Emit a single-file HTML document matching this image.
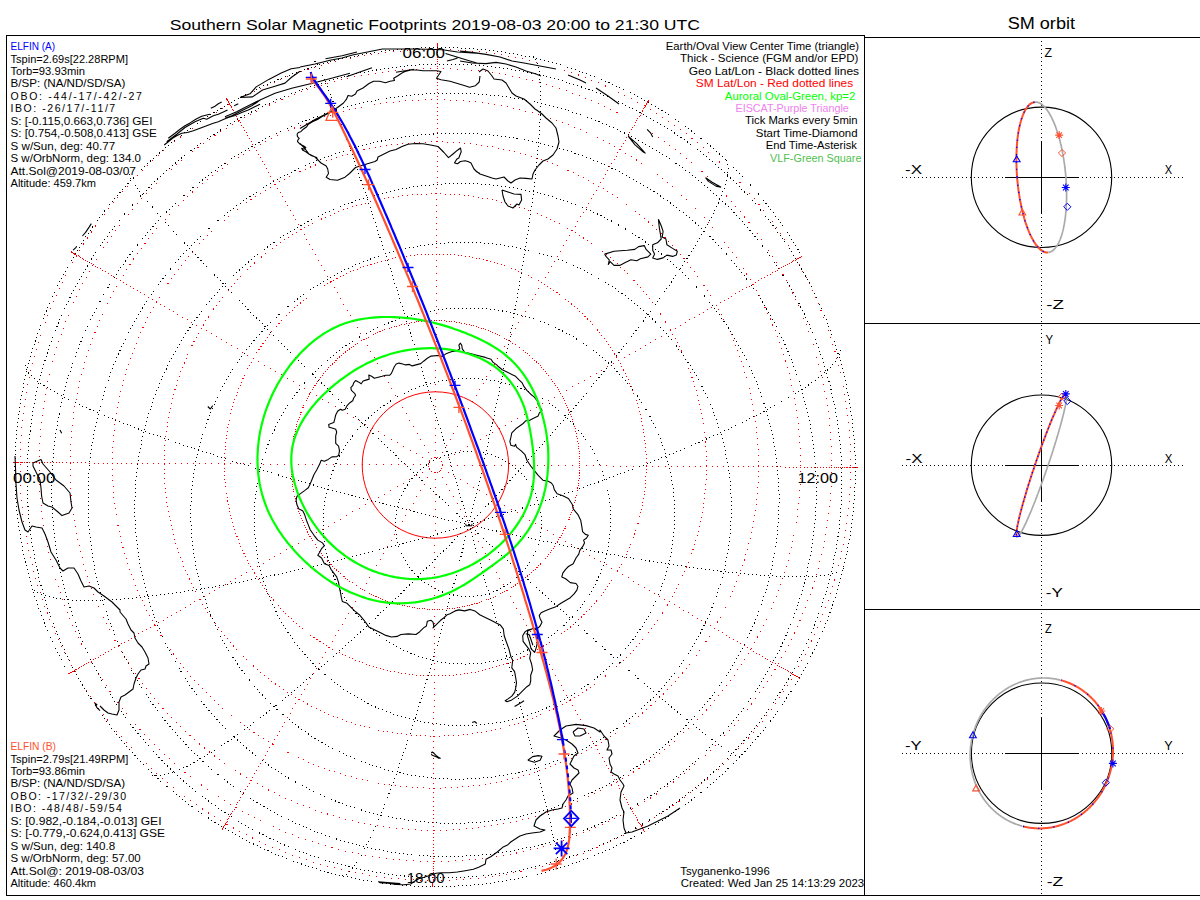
<!DOCTYPE html>
<html><head><meta charset="utf-8"><title>Southern Solar Magnetic Footprints</title>
<style>html,body{margin:0;padding:0;background:#fff;overflow:hidden} svg{display:block} text{font-family:'Liberation Sans', 'DejaVu Sans', sans-serif}</style>
</head><body>
<svg width="1200" height="900" viewBox="0 0 1200 900">
<rect width="1200" height="900" fill="#fff"/>
<g fill="none" stroke="#ff0000" stroke-width="1" shape-rendering="crispEdges"><circle cx="435.4" cy="465.0" r="415.4" stroke-dasharray="1 6.25"/><circle cx="435.4" cy="465.0" r="396.4" stroke-dasharray="1 5.92"/><circle cx="435.4" cy="465.0" r="365.3" stroke-dasharray="1 5.38"/><circle cx="435.4" cy="465.0" r="323.1" stroke-dasharray="1 4.64"/><circle cx="435.4" cy="465.0" r="271.1" stroke-dasharray="1 3.73"/><circle cx="435.4" cy="465.0" r="210.9" stroke-dasharray="1 2.68"/><circle cx="435.4" cy="465.0" r="144.3" stroke-dasharray="1 1.52"/><circle cx="435.4" cy="465.0" r="7.4" stroke-dasharray="1 2"/></g>
<path d="M442,465h1M450,465h1M457,465h1M464,465h1M472,465h1M479,465h1M486,465h1M494,465h1M501,465h1M508,465h1M515,465h1M523,465h1M530,465h1M537,465h1M544,465h1M551,465h1M558,465h1M565,465h1M572,465h1M579,465h1M586,465h1M593,465h1M600,465h1M606,465h1M613,466h1M620,466h1M626,466h1M633,466h1M639,466h1M646,466h1M652,466h1M658,466h1M665,466h1M671,466h1M677,466h1M683,466h1M689,466h1M695,466h1M700,466h1M706,466h1M712,466h1M717,466h1M723,466h1M728,466h1M733,466h1M738,466h1M743,466h1M748,466h1M753,466h1M758,466h1M763,466h1M767,466h1M772,466h1M776,466h1M780,466h1M785,467h1M789,467h1M793,467h1M796,467h1M800,467h1M804,467h1M807,467h1M811,467h1M814,467h1M817,467h1M820,467h1M823,467h1M826,467h1M829,467h1M831,467h1M834,467h1M836,467h1M838,467h1M840,467h1M842,467h1M844,467h1M846,467h1M847,467h1M849,467h1M850,467h1M852,467h1M853,467h1M854,467h1M855,467h1M856,467h1M857,467h1M441,468h1M448,472h1M454,476h1M460,479h1M467,483h1M473,487h1M479,490h1M486,494h1M492,498h1M498,501h1M504,505h1M511,509h1M517,512h1M523,516h1M529,520h1M535,523h1M541,527h1M547,530h1M553,534h1M559,537h1M565,541h1M571,544h1M577,548h1M583,551h1M589,555h1M594,558h1M600,561h1M606,564h1M611,568h1M617,571h1M622,574h1M628,577h1M633,581h1M638,584h1M644,587h1M649,590h1M654,593h1M659,596h1M664,599h1M669,601h1M674,604h1M679,607h1M683,610h1M688,612h1M692,615h1M697,618h1M701,620h1M705,623h1M710,625h1M714,628h1M718,630h1M722,632h1M726,635h1M729,637h1M733,639h1M737,641h1M740,643h1M744,645h1M747,647h1M750,649h1M753,651h1M756,653h1M759,654h1M762,656h1M765,658h1M767,659h1M770,661h1M772,662h1M775,663h1M777,665h1M779,666h1M781,667h1M783,668h1M785,669h1M787,670h1M788,671h1M790,672h1M791,673h1M792,674h1M793,674h1M794,675h1M795,675h1M796,676h1M797,676h1M798,677h1M799,677h1M799,678h1M439,471h1M442,477h1M446,484h1M449,490h1M453,496h1M457,503h1M460,509h1M464,516h1M468,522h1M471,528h1M475,534h1M478,541h1M482,547h1M485,553h1M489,559h1M492,566h1M496,572h1M499,578h1M503,584h1M506,590h1M510,596h1M513,602h1M516,608h1M520,614h1M523,619h1M526,625h1M530,631h1M533,637h1M536,642h1M539,648h1M542,653h1M546,659h1M549,664h1M552,669h1M555,675h1M558,680h1M561,685h1M563,690h1M566,695h1M569,700h1M572,705h1M575,710h1M577,714h1M580,719h1M583,724h1M585,728h1M588,733h1M590,737h1M592,741h1M595,745h1M597,749h1M599,753h1M602,757h1M604,761h1M606,765h1M608,768h1M610,772h1M612,775h1M614,779h1M616,782h1M618,785h1M619,788h1M621,791h1M623,794h1M624,797h1M626,799h1M627,802h1M628,804h1M630,807h1M631,809h1M632,811h1M633,813h1M635,815h1M636,817h1M637,819h1M637,820h1M638,822h1M639,823h1M640,824h1M641,825h1M641,826h1M642,827h1M642,828h1M643,829h1M643,830h1M644,831h1M435,472h1M435,479h1M435,487h1M435,494h1M435,501h1M435,509h1M435,516h1M435,523h1M435,530h1M434,538h1M434,545h1M434,552h1M434,559h1M434,567h1M434,574h1M434,581h1M434,588h1M434,595h1M434,602h1M434,609h1M434,616h1M434,623h1M434,629h1M434,636h1M434,643h1M434,649h1M434,656h1M434,663h1M434,669h1M434,675h1M434,682h1M434,688h1M434,694h1M434,700h1M434,706h1M433,712h1M433,718h1M433,724h1M433,730h1M433,736h1M433,741h1M433,747h1M433,752h1M433,758h1M433,763h1M433,768h1M433,773h1M433,778h1M433,783h1M433,788h1M433,792h1M433,797h1M433,801h1M433,806h1M433,810h1M433,814h1M433,818h1M433,822h1M433,826h1M433,830h1M433,833h1M433,837h1M433,840h1M433,844h1M433,847h1M433,850h1M433,853h1M433,856h1M433,858h1M433,861h1M433,863h1M433,866h1M433,868h1M433,870h1M433,872h1M433,874h1M433,875h1M433,877h1M433,879h1M433,880h1M433,881h1M432,882h1M432,883h1M432,884h1M432,885h1M432,886h1M431,471h1M427,477h1M424,484h1M420,490h1M416,496h1M413,503h1M409,509h1M405,515h1M402,521h1M398,528h1M394,534h1M391,540h1M387,546h1M383,553h1M380,559h1M376,565h1M373,571h1M369,577h1M366,583h1M362,589h1M359,595h1M355,601h1M352,607h1M348,613h1M345,618h1M342,624h1M338,630h1M335,635h1M332,641h1M328,647h1M325,652h1M322,657h1M319,663h1M316,668h1M313,673h1M310,678h1M307,684h1M304,689h1M301,694h1M298,699h1M295,703h1M292,708h1M290,713h1M287,717h1M284,722h1M282,726h1M279,731h1M277,735h1M274,739h1M272,743h1M269,747h1M267,751h1M265,755h1M263,759h1M260,763h1M258,766h1M256,770h1M254,773h1M252,777h1M250,780h1M249,783h1M247,786h1M245,789h1M243,792h1M242,794h1M240,797h1M239,800h1M237,802h1M236,804h1M235,807h1M234,809h1M232,811h1M231,813h1M230,814h1M229,816h1M228,818h1M227,819h1M227,821h1M226,822h1M225,823h1M225,824h1M224,825h1M223,826h1M223,827h1M222,828h1M222,829h1M429,468h1M422,472h1M416,475h1M409,479h1M403,483h1M397,486h1M390,490h1M384,494h1M378,497h1M371,501h1M365,504h1M359,508h1M352,511h1M346,515h1M340,519h1M334,522h1M328,526h1M322,529h1M316,532h1M310,536h1M304,539h1M298,543h1M292,546h1M286,549h1M280,553h1M274,556h1M269,559h1M263,563h1M257,566h1M252,569h1M246,572h1M241,575h1M235,578h1M230,581h1M225,584h1M219,587h1M214,590h1M209,593h1M204,596h1M199,599h1M194,601h1M190,604h1M185,607h1M180,610h1M176,612h1M171,615h1M167,617h1M163,620h1M158,622h1M154,624h1M150,627h1M146,629h1M142,631h1M138,633h1M135,636h1M131,638h1M128,640h1M124,642h1M121,643h1M118,645h1M114,647h1M111,649h1M108,651h1M105,652h1M103,654h1M100,655h1M98,657h1M95,658h1M93,659h1M91,661h1M88,662h1M86,663h1M84,664h1M83,665h1M81,666h1M79,667h1M78,668h1M76,669h1M75,669h1M74,670h1M73,671h1M72,671h1M71,672h1M70,672h1M69,673h1M68,673h1M428,464h1M420,464h1M413,464h1M405,464h1M398,464h1M391,464h1M383,464h1M376,464h1M369,464h1M362,464h1M354,464h1M347,464h1M340,464h1M333,464h1M326,464h1M319,464h1M312,464h1M305,464h1M298,464h1M291,464h1M284,464h1M277,464h1M270,464h1M263,464h1M257,463h1M250,463h1M243,463h1M237,463h1M230,463h1M224,463h1M218,463h1M211,463h1M205,463h1M199,463h1M193,463h1M187,463h1M181,463h1M175,463h1M169,463h1M164,463h1M158,463h1M153,463h1M147,463h1M142,463h1M137,463h1M131,463h1M126,463h1M121,463h1M117,463h1M112,463h1M107,463h1M103,463h1M98,463h1M94,463h1M89,463h1M85,462h1M81,462h1M77,462h1M73,462h1M70,462h1M66,462h1M62,462h1M59,462h1M56,462h1M53,462h1M50,462h1M47,462h1M44,462h1M41,462h1M39,462h1M36,462h1M34,462h1M32,462h1M29,462h1M27,462h1M26,462h1M24,462h1M22,462h1M21,462h1M20,462h1M18,462h1M17,462h1M16,462h1M15,462h1M14,462h1M13,462h1M429,461h1M422,457h1M416,453h1M410,450h1M403,446h1M397,442h1M391,439h1M384,435h1M378,431h1M372,428h1M365,424h1M359,420h1M353,417h1M347,413h1M341,409h1M335,406h1M328,402h1M322,399h1M316,395h1M310,392h1M304,388h1M299,385h1M293,381h1M287,378h1M281,374h1M275,371h1M270,368h1M264,365h1M258,361h1M253,358h1M247,355h1M242,352h1M237,348h1M231,345h1M226,342h1M221,339h1M216,336h1M211,333h1M206,330h1M201,328h1M196,325h1M191,322h1M187,319h1M182,317h1M177,314h1M173,311h1M169,309h1M164,306h1M160,304h1M156,301h1M152,299h1M148,297h1M144,294h1M140,292h1M137,290h1M133,288h1M130,286h1M126,284h1M123,282h1M120,280h1M116,278h1M113,276h1M111,275h1M108,273h1M105,271h1M102,270h1M100,268h1M97,267h1M95,266h1M93,264h1M91,263h1M89,262h1M87,261h1M85,260h1M83,259h1M82,258h1M80,257h1M79,256h1M78,255h1M76,255h1M75,254h1M74,254h1M74,253h1M73,253h1M72,252h1M71,252h1M71,251h1M431,458h1M428,452h1M424,445h1M420,439h1M417,433h1M413,426h1M409,420h1M406,413h1M402,407h1M399,401h1M395,395h1M391,388h1M388,382h1M384,376h1M381,370h1M377,363h1M374,357h1M370,351h1M367,345h1M363,339h1M360,333h1M357,327h1M353,321h1M350,315h1M347,310h1M343,304h1M340,298h1M337,292h1M334,287h1M331,281h1M327,276h1M324,270h1M321,265h1M318,260h1M315,254h1M312,249h1M309,244h1M306,239h1M304,234h1M301,229h1M298,224h1M295,219h1M293,215h1M290,210h1M287,205h1M285,201h1M282,196h1M280,192h1M277,188h1M275,184h1M273,180h1M270,176h1M268,172h1M266,168h1M264,164h1M262,161h1M260,157h1M258,154h1M256,150h1M254,147h1M252,144h1M251,141h1M249,138h1M247,135h1M246,132h1M244,130h1M243,127h1M241,125h1M240,122h1M239,120h1M237,118h1M236,116h1M235,114h1M234,112h1M233,110h1M232,109h1M231,107h1M231,106h1M230,105h1M229,104h1M229,103h1M228,102h1M228,101h1M227,100h1M227,99h1M226,99h1M226,98h1M435,457h1M435,450h1M435,442h1M435,435h1M435,428h1M435,420h1M435,413h1M435,406h1M435,399h1M435,391h1M435,384h1M435,377h1M435,370h1M435,362h1M436,355h1M436,348h1M436,341h1M436,334h1M436,327h1M436,320h1M436,313h1M436,306h1M436,300h1M436,293h1M436,286h1M436,280h1M436,273h1M436,266h1M436,260h1M436,254h1M436,247h1M436,241h1M436,235h1M436,229h1M436,223h1M436,217h1M436,211h1M436,205h1M436,199h1M436,193h1M436,188h1M437,182h1M437,177h1M437,171h1M437,166h1M437,161h1M437,156h1M437,151h1M437,146h1M437,141h1M437,137h1M437,132h1M437,128h1M437,123h1M437,119h1M437,115h1M437,111h1M437,107h1M437,103h1M437,99h1M437,96h1M437,92h1M437,89h1M437,85h1M437,82h1M437,79h1M437,76h1M437,73h1M437,71h1M437,68h1M437,66h1M437,63h1M437,61h1M437,59h1M437,57h1M437,55h1M437,54h1M437,52h1M437,50h1M437,49h1M437,48h1M437,47h1M437,46h1M437,45h1M437,44h1M437,43h1M439,458h1M442,452h1M446,445h1M450,439h1M453,433h1M457,426h1M461,420h1M465,414h1M468,408h1M472,401h1M476,395h1M479,389h1M483,383h1M486,376h1M490,370h1M494,364h1M497,358h1M501,352h1M504,346h1M508,340h1M511,334h1M515,328h1M518,322h1M522,316h1M525,311h1M528,305h1M532,299h1M535,294h1M538,288h1M541,282h1M545,277h1M548,272h1M551,266h1M554,261h1M557,256h1M560,251h1M563,245h1M566,240h1M569,235h1M572,230h1M575,226h1M577,221h1M580,216h1M583,212h1M586,207h1M588,203h1M591,198h1M593,194h1M596,190h1M598,186h1M600,182h1M603,178h1M605,174h1M607,170h1M609,166h1M611,163h1M614,159h1M616,156h1M617,152h1M619,149h1M621,146h1M623,143h1M625,140h1M626,137h1M628,135h1M629,132h1M631,129h1M632,127h1M634,125h1M635,122h1M636,120h1M637,118h1M639,116h1M640,115h1M641,113h1M642,111h1M642,110h1M643,108h1M644,107h1M645,106h1M645,105h1M646,104h1M646,103h1M647,102h1M647,101h1M648,101h1M648,100h1M441,461h1M448,457h1M454,454h1M460,450h1M467,446h1M473,443h1M480,439h1M486,435h1M492,432h1M499,428h1M505,425h1M511,421h1M517,418h1M524,414h1M530,410h1M536,407h1M542,403h1M548,400h1M554,397h1M560,393h1M566,390h1M572,386h1M578,383h1M584,380h1M590,376h1M596,373h1M601,370h1M607,366h1M613,363h1M618,360h1M624,357h1M629,354h1M635,351h1M640,348h1M645,345h1M650,342h1M655,339h1M661,336h1M666,333h1M670,330h1M675,328h1M680,325h1M685,322h1M689,319h1M694,317h1M699,314h1M703,312h1M707,309h1M711,307h1M716,305h1M720,302h1M724,300h1M728,298h1M731,296h1M735,293h1M739,291h1M742,289h1M746,287h1M749,286h1M752,284h1M755,282h1M758,280h1M761,278h1M764,277h1M767,275h1M770,274h1M772,272h1M775,271h1M777,270h1M779,268h1M781,267h1M783,266h1M785,265h1M787,264h1M789,263h1M791,262h1M792,261h1M793,260h1M795,260h1M796,259h1M797,258h1M798,258h1M799,257h1M800,257h1M801,256h1" stroke="#ff0000" stroke-width="1" transform="translate(0,0.5)" shape-rendering="crispEdges"/>
<circle cx="435.4" cy="465.0" r="73.2" fill="none" stroke="#ff0000" stroke-width="1"/>
<path d="M417.9,576.8 417,576 416.1,575.1 415.2,574.2 414.4,573.2 413.5,572.3 412.7,571.4 411.9,570.4 411.1,569.4 410.3,568.4 409.5,567.4 408.8,566.4 408.1,565.4 407.3,564.3 406.7,563.3 406,562.2 405.3,561.1 404.7,560 404.1,558.9 403.5,557.8 402.9,556.7 402.4,555.6 401.8,554.4 401.3,553.3 400.8,552.1 400.4,550.9 399.9,549.8 399.5,548.6 399.1,547.4 398.7,546.2 398.3,545 398,543.8 397.6,542.5 397.3,541.3 397,540.1 396.8,538.8 396.6,537.6 396.3,536.4 396.1,535.1 396,533.9 395.8,532.6 395.7,531.3 395.6,530.1 395.5,528.8 395.4,527.6 395.4,526.3 395.4,525 395.4,523.8 395.4,522.5 395.5,521.2 395.5,520 395.6,518.7 395.7,517.4 395.9,516.2 396,514.9 396.2,513.7 396.4,512.4 396.7,511.2 396.9,509.9 397.2,508.7 397.5,507.5 397.8,506.2 398.1,505 398.5,503.8 398.9,502.6 399.3,501.4 399.7,500.2 400.1,499 400.6,497.8 401.1,496.6 401.6,495.4 402.1,494.3 402.6,493.1 403.2,492 403.8,490.9 404.4,489.7 405,488.6 405.6,487.5 406.3,486.4 407,485.4 407.7,484.3 408.4,483.2 409.1,482.2 409.9,481.2 410.7,480.2 411.4,479.1 412.2,478.2 413.1,477.2 413.9,476.2 414.8,475.3 415.6,474.3 416.5,473.4 417.4,472.5 418.4,471.6 419.3,470.8 420.2,469.9 421.2,469.1 422.2,468.3 423.2,467.5 424.2,466.7 425.2,465.9 426.2,465.2 427.3,464.4 428.3,463.7 429.4,463 430.5,462.3 431.6,461.7 432.7,461 433.8,460.4 434.9,459.8 436.1,459.2 437.2,458.7 438.4,458.1 439.6,457.6 440.7,457.1 441.9,456.6 443.1,456.1 444.3,455.7 445.5,455.3 446.7,454.9 447.9,454.5 449.2,454.1 450.4,453.8 451.6,453.5 452.9,453.2 454.1,452.9 455.4,452.7 456.6,452.4 457.9,452.2 459.2,452.1 460.4,451.9 461.7,451.8 463,451.6 464.2,451.5 465.5,451.5 466.8,451.4 468.1,451.4 469.3,451.4 470.6,451.4 471.9,451.4 473.2,451.5 474.4,451.5 475.7,451.6 477,451.8 478.2,451.9 479.5,452.1 480.7,452.3 482,452.5 483.2,452.7 484.5,453 485.7,453.2 487,453.5 488.2,453.9 489.4,454.2 490.6,454.6 491.8,454.9 493.1,455.3 494.2,455.8 495.4,456.2 496.6,456.7 497.8,457.2 498.9,457.7 500.1,458.2 501.2,458.7 502.4,459.3 503.5,459.9 504.6,460.5 505.7,461.1 506.8,461.8 507.9,462.4 508.9,463.1 510,463.8 511,464.5 512.1,465.3 513.1,466 514.1,466.8 515.1,467.6 516,468.4 517,469.2 517.9,470.1 518.9,470.9 519.8,471.8 520.7,472.7 521.6,473.6 522.4,474.5 523.3,475.4 524.1,476.4 524.9,477.3 525.7,478.3 526.5,479.3 527.3,480.3 528,481.3 528.7,482.4 529.4,483.4 530.1,484.5 530.8,485.5 531.5,486.6 532.1,487.7 532.7,488.8 533.3,489.9 533.9,491 534.4,492.2 535,493.3 535.5,494.5 536,495.6 536.4,496.8 536.9,498 537.3,499.2 537.7,500.4 538.1,501.6 538.5,502.8 538.8,504 539.2,505.2 539.5,506.4 539.7,507.7 540,508.9 540.2,510.1 540.5,511.4 540.7,512.6 540.8,513.9 541,515.1 541.1,516.4 541.2,517.7 541.3,518.9 541.4,520.2 541.4,521.4 541.4,522.7 541.4,524 541.4,525.2 541.3,526.5 541.3,527.8 541.2,529 541,530.3 540.9,531.6 540.7,532.8 540.6,534.1 540.4,535.3 540.1,536.6 539.9,537.8 539.6,539 539.3,540.3 539,541.5 538.7,542.7 538.3,544 537.9,545.2 537.5,546.4 537.1,547.6 536.7,548.8 536.2,550 535.7,551.1 535.2,552.3 534.7,553.5 534.2,554.6 533.6,555.7 533,556.9 532.4,558 531.8,559.1 531.2,560.2 530.5,561.3 529.8,562.4 529.1,563.4 528.4,564.5 527.7,565.5 526.9,566.6 526.1,567.6 525.3,568.6 524.5,569.6 523.7,570.6 522.9,571.5 522,572.5 521.2,573.4 520.3,574.3 519.4,575.2 518.4,576.1 517.5,577 516.6,577.8 515.6,578.7 514.6,579.5 513.6,580.3 512.6,581.1 511.6,581.8 510.6,582.6 509.5,583.3 508.4,584 507.4,584.7 506.3,585.4 505.2,586.1 504.1,586.7 503,587.3 501.8,587.9 500.7,588.5 499.6,589.1 498.4,589.6 497.2,590.1 496.1,590.7 494.9,591.1 493.7,591.6 492.5,592 491.3,592.5 490.1,592.9 488.8,593.2 487.6,593.6 486.4,593.9 485.1,594.2 483.9,594.5 482.7,594.8 481.4,595.1 480.2,595.3 478.9,595.5 477.6,595.7 476.4,595.8 475.1,596 473.8,596.1 472.6,596.2 471.3,596.3 470,596.3 468.7,596.4 467.5,596.4 466.2,596.4 464.9,596.3 463.6,596.3 462.4,596.2 461.1,596.1 459.8,596 458.6,595.8 457.3,595.7 456,595.5 454.8,595.3 453.5,595 452.3,594.8 451.1,594.5 449.8,594.2 448.6,593.9 447.4,593.5 446.2,593.2 444.9,592.8 443.7,592.4 442.5,592 441.4,591.5 440.2,591.1 439,590.6 437.8,590.1 436.7,589.5 435.5,589 434.4,588.4 433.3,587.8 432.2,587.2 431.1,586.6 430,586 428.9,585.3 427.8,584.6 426.8,583.9 425.8,583.2 424.7,582.5 423.7,581.7 422.7,580.9 421.7,580.2 420.7,579.3 419.8,578.5 418.8,577.7 417.9,576.8M367.5,625.5 365.7,623.8 363.9,622 362.2,620.2 360.5,618.4 358.8,616.6 357.1,614.7 355.5,612.8 354,610.9 352.4,608.9 350.9,607 349.5,604.9 348,602.9 346.6,600.9 345.3,598.8 344,596.7 342.7,594.5 341.4,592.4 340.2,590.2 339.1,588 337.9,585.8 336.8,583.6 335.8,581.3 334.8,579.1 333.8,576.8 332.9,574.5 332,572.2 331.1,569.8 330.3,567.5 329.6,565.1 328.8,562.7 328.1,560.3 327.5,557.9 326.9,555.5 326.4,553.1 325.8,550.7 325.4,548.2 325,545.8 324.6,543.3 324.2,540.8 323.9,538.4 323.7,535.9 323.5,533.4 323.3,530.9 323.2,528.4 323.1,526 323.1,523.5 323.1,521 323.1,518.5 323.2,516 323.4,513.5 323.6,511 323.8,508.5 324.1,506 324.4,503.6 324.7,501.1 325.1,498.6 325.6,496.2 326.1,493.7 326.6,491.3 327.2,488.8 327.8,486.4 328.5,484 329.2,481.6 329.9,479.2 330.7,476.8 331.5,474.5 332.4,472.1 333.3,469.8 334.3,467.5 335.2,465.2 336.3,462.9 337.3,460.6 338.5,458.4 339.6,456.2 340.8,453.9 342,451.8 343.3,449.6 344.6,447.4 345.9,445.3 347.3,443.2 348.7,441.1 350.2,439.1 351.6,437.1 353.2,435.1 354.7,433.1 356.3,431.1 357.9,429.2 359.6,427.3 361.3,425.5 363,423.6 364.7,421.8 366.5,420 368.3,418.3 370.2,416.6 372,414.9 373.9,413.3 375.9,411.6 377.8,410.1 379.8,408.5 381.8,407 383.9,405.5 385.9,404.1 388,402.7 390.1,401.3 392.2,400 394.4,398.7 396.6,397.4 398.8,396.2 401,395 403.2,393.8 405.5,392.7 407.8,391.7 410.1,390.6 412.4,389.6 414.7,388.7 417.1,387.8 419.4,386.9 421.8,386.1 424.2,385.3 426.6,384.5 429,383.8 431.5,383.2 433.9,382.6 436.3,382 438.8,381.4 441.3,381 443.7,380.5 446.2,380.1 448.7,379.7 451.2,379.4 453.7,379.1 456.2,378.9 458.7,378.7 461.2,378.6 463.7,378.4 466.2,378.4 468.7,378.4 471.2,378.4 473.7,378.5 476.3,378.6 478.8,378.7 481.3,378.9 483.8,379.2 486.2,379.5 488.7,379.8 491.2,380.2 493.7,380.6 496.1,381 498.6,381.5 501,382.1 503.5,382.7 505.9,383.3 508.3,384 510.7,384.7 513.1,385.4 515.4,386.2 517.8,387 520.1,387.9 522.5,388.8 524.8,389.8 527.1,390.8 529.3,391.8 531.6,392.9 533.8,394 536,395.2 538.2,396.4 540.4,397.6 542.5,398.9 544.7,400.2 546.8,401.5 548.8,402.9 550.9,404.3 552.9,405.8 554.9,407.2 556.9,408.8 558.8,410.3 560.7,411.9 562.6,413.5 564.5,415.2 566.3,416.9 568.1,418.6 569.9,420.3 571.6,422.1 573.3,423.9 575,425.8 576.6,427.6 578.2,429.5 579.8,431.5 581.3,433.4 582.8,435.4 584.3,437.4 585.7,439.4 587.1,441.5 588.5,443.6 589.8,445.7 591.1,447.8 592.3,449.9 593.5,452.1 594.7,454.3 595.8,456.5 596.9,458.8 598,461 599,463.3 600,465.6 600.9,467.9 601.8,470.2 602.6,472.5 603.4,474.9 604.2,477.2 604.9,479.6 605.6,482 606.3,484.4 606.9,486.8 607.4,489.2 607.9,491.7 608.4,494.1 608.8,496.6 609.2,499 609.5,501.5 609.8,504 610.1,506.4 610.3,508.9 610.5,511.4 610.6,513.9 610.7,516.4 610.7,518.9 610.7,521.4 610.6,523.9 610.5,526.4 610.4,528.9 610.2,531.3 610,533.8 609.7,536.3 609.4,538.8 609,541.3 608.6,543.7 608.2,546.2 607.7,548.6 607.2,551.1 606.6,553.5 606,555.9 605.3,558.3 604.6,560.7 603.9,563.1 603.1,565.5 602.2,567.9 601.4,570.2 600.5,572.5 599.5,574.9 598.5,577.2 597.5,579.4 596.4,581.7 595.3,584 594.2,586.2 593,588.4 591.8,590.6 590.5,592.8 589.2,594.9 587.9,597 586.5,599.1 585.1,601.2 583.6,603.3 582.1,605.3 580.6,607.3 579.1,609.3 577.5,611.2 575.9,613.1 574.2,615 572.5,616.9 570.8,618.7 569,620.5 567.3,622.3 565.4,624 563.6,625.8 561.7,627.4 559.8,629.1 557.9,630.7 555.9,632.3 554,633.8 551.9,635.3 549.9,636.8 547.9,638.3 545.8,639.7 543.7,641.1 541.5,642.4 539.4,643.7 537.2,645 535,646.2 532.8,647.4 530.5,648.5 528.3,649.6 526,650.7 523.7,651.7 521.4,652.7 519,653.7 516.7,654.6 514.3,655.4 512,656.3 509.6,657.1 507.2,657.8 504.7,658.5 502.3,659.2 499.9,659.8 497.4,660.4 495,660.9 492.5,661.4 490,661.8 487.6,662.3 485.1,662.6 482.6,662.9 480.1,663.2 477.6,663.5 475.1,663.6 472.6,663.8 470.1,663.9 467.5,664 465,664 462.5,664 460,663.9 457.5,663.8 455,663.6 452.5,663.4 450,663.2 447.5,662.9 445,662.6 442.6,662.2 440.1,661.8 437.6,661.3 435.2,660.8 432.7,660.3 430.3,659.7 427.9,659.1 425.5,658.4 423.1,657.7 420.7,656.9 418.3,656.1 416,655.3 413.6,654.4 411.3,653.5 409,652.5 406.7,651.6 404.4,650.5 402.2,649.4 400,648.3 397.7,647.2 395.6,646 393.4,644.7 391.2,643.5 389.1,642.2 387,640.8 384.9,639.5 382.9,638 380.9,636.6 378.9,635.1 376.9,633.6 375,632 373,630.4 371.2,628.8 369.3,627.2 367.5,625.5M319.1,669.3 316.4,666.7 313.9,664.2 311.3,661.6 308.8,658.9 306.4,656.2 304,653.5 301.6,650.7 299.3,647.9 297.1,645.1 294.9,642.2 292.8,639.2 290.7,636.3 288.6,633.3 286.6,630.2 284.7,627.1 282.8,624 281,620.9 279.2,617.7 277.5,614.5 275.9,611.3 274.3,608 272.8,604.7 271.3,601.4 269.9,598.1 268.5,594.7 267.2,591.3 266,587.9 264.8,584.5 263.7,581 262.6,577.5 261.6,574 260.7,570.5 259.8,567 259,563.4 258.2,559.9 257.5,556.3 256.9,552.7 256.4,549.1 255.9,545.5 255.4,541.9 255.1,538.3 254.8,534.7 254.5,531 254.3,527.4 254.2,523.8 254.2,520.1 254.2,516.5 254.3,512.8 254.4,509.2 254.6,505.5 254.9,501.9 255.2,498.3 255.6,494.6 256.1,491 256.6,487.4 257.2,483.8 257.9,480.2 258.6,476.6 259.4,473.1 260.2,469.5 261.1,466 262.1,462.4 263.1,458.9 264.2,455.4 265.3,452 266.5,448.5 267.8,445.1 269.1,441.7 270.5,438.3 272,434.9 273.5,431.6 275,428.3 276.7,425 278.3,421.7 280.1,418.5 281.9,415.3 283.7,412.1 285.6,409 287.6,405.9 289.6,402.8 291.6,399.8 293.8,396.8 295.9,393.8 298.2,390.9 300.4,388 302.7,385.2 305.1,382.3 307.5,379.6 310,376.9 312.5,374.2 315.1,371.5 317.7,368.9 320.3,366.4 323,363.9 325.8,361.4 328.5,359 331.4,356.6 334.2,354.3 337.1,352.1 340.1,349.9 343,347.7 346.1,345.6 349.1,343.5 352.2,341.5 355.3,339.6 358.5,337.7 361.6,335.8 364.9,334 368.1,332.3 371.4,330.6 374.7,329 378,327.4 381.4,325.9 384.8,324.5 388.2,323.1 391.6,321.8 395.1,320.5 398.5,319.3 402,318.1 405.5,317 409.1,316 412.6,315 416.2,314.1 419.8,313.3 423.4,312.5 427,311.8 430.6,311.1 434.2,310.5 437.8,310 441.5,309.5 445.1,309.1 448.8,308.8 452.4,308.5 456.1,308.3 459.8,308.1 463.4,308 467.1,308 470.8,308 474.5,308.1 478.1,308.3 481.8,308.5 485.4,308.8 489.1,309.2 492.7,309.6 496.3,310.1 500,310.6 503.6,311.2 507.2,311.9 510.8,312.6 514.3,313.4 517.9,314.3 521.4,315.2 525,316.2 528.5,317.2 531.9,318.3 535.4,319.5 538.9,320.7 542.3,322 545.7,323.3 549,324.7 552.4,326.2 555.7,327.7 559,329.3 562.3,330.9 565.5,332.6 568.7,334.3 571.9,336.1 575,338 578.1,339.9 581.2,341.8 584.2,343.9 587.2,345.9 590.2,348 593.1,350.2 596,352.4 598.8,354.7 601.6,357 604.4,359.4 607.1,361.8 609.8,364.3 612.4,366.8 615,369.4 617.5,372 620,374.6 622.4,377.3 624.8,380 627.2,382.8 629.5,385.6 631.7,388.5 633.9,391.4 636.1,394.3 638.2,397.3 640.2,400.3 642.2,403.3 644.1,406.4 646,409.5 647.8,412.6 649.6,415.8 651.3,419 652.9,422.3 654.5,425.5 656.1,428.8 657.6,432.1 659,435.5 660.3,438.8 661.6,442.2 662.9,445.6 664.1,449.1 665.2,452.5 666.2,456 667.2,459.5 668.2,463 669,466.6 669.9,470.1 670.6,473.7 671.3,477.2 671.9,480.8 672.5,484.4 673,488 673.4,491.6 673.8,495.2 674.1,498.9 674.3,502.5 674.5,506.1 674.6,509.8 674.6,513.4 674.6,517.1 674.6,520.7 674.4,524.4 674.2,528 673.9,531.6 673.6,535.3 673.2,538.9 672.7,542.5 672.2,546.1 671.6,549.7 671,553.3 670.3,556.9 669.5,560.5 668.6,564 667.7,567.6 666.8,571.1 665.7,574.6 664.7,578.1 663.5,581.6 662.3,585 661,588.5 659.7,591.9 658.3,595.3 656.9,598.6 655.4,602 653.8,605.3 652.2,608.6 650.5,611.8 648.8,615 647,618.2 645.1,621.4 643.2,624.6 641.3,627.7 639.2,630.7 637.2,633.8 635.1,636.8 632.9,639.7 630.7,642.6 628.4,645.5 626.1,648.4 623.7,651.2 621.3,654 618.8,656.7 616.3,659.4 613.8,662 611.2,664.6 608.5,667.2 605.8,669.7 603.1,672.1 600.3,674.5 597.5,676.9 594.6,679.2 591.7,681.5 588.8,683.7 585.8,685.8 582.8,688 579.7,690 576.6,692 573.5,694 570.4,695.9 567.2,697.7 564,699.5 560.7,701.2 557.4,702.9 554.1,704.5 550.8,706.1 547.5,707.6 544.1,709.1 540.7,710.5 537.2,711.8 533.8,713.1 530.3,714.3 526.8,715.4 523.3,716.5 519.8,717.5 516.2,718.5 512.7,719.4 509.1,720.3 505.5,721 501.9,721.8 498.3,722.4 494.6,723 491,723.6 487.4,724 483.7,724.4 480,724.8 476.4,725.1 472.7,725.3 469.1,725.4 465.4,725.5 461.7,725.5 458,725.5 454.4,725.4 450.7,725.2 447.1,725 443.4,724.7 439.8,724.4 436.1,723.9 432.5,723.5 428.9,722.9 425.3,722.3 421.7,721.6 418.1,720.9 414.5,720.1 410.9,719.3 407.4,718.3 403.9,717.4 400.4,716.3 396.9,715.2 393.4,714.1 390,712.8 386.6,711.6 383.2,710.2 379.8,708.8 376.4,707.4 373.1,705.9 369.8,704.3 366.6,702.7 363.3,701 360.1,699.2 357,697.4 353.8,695.6 350.7,693.7 347.7,691.7 344.6,689.7 341.6,687.6 338.7,685.5 335.7,683.3 332.9,681.1 330,678.8 327.2,676.5 324.5,674.1 321.7,671.7 319.1,669.3M274.2,706.8 270.8,703.6 267.5,700.3 264.3,697 261.1,693.6 257.9,690.1 254.8,686.6 251.8,683 248.9,679.4 246,675.7 243.1,672 240.4,668.2 237.7,664.4 235.1,660.6 232.5,656.6 230,652.7 227.6,648.7 225.3,644.7 223,640.6 220.8,636.5 218.7,632.3 216.6,628.1 214.7,623.9 212.8,619.6 210.9,615.3 209.2,611 207.5,606.6 205.9,602.2 204.4,597.8 203,593.4 201.6,588.9 200.3,584.4 199.1,579.9 198,575.3 197,570.8 196,566.2 195.1,561.6 194.3,557 193.6,552.4 193,547.8 192.4,543.1 191.9,538.5 191.5,533.8 191.2,529.1 191,524.5 190.9,519.8 190.8,515.1 190.8,510.4 190.9,505.7 191.1,501 191.4,496.4 191.7,491.7 192.1,487 192.7,482.4 193.3,477.7 193.9,473.1 194.7,468.4 195.5,463.8 196.4,459.2 197.4,454.6 198.5,450 199.7,445.5 200.9,441 202.2,436.4 203.6,432 205.1,427.5 206.7,423.1 208.3,418.6 210,414.3 211.8,409.9 213.7,405.6 215.6,401.3 217.6,397 219.7,392.8 221.8,388.6 224.1,384.5 226.4,380.3 228.8,376.3 231.2,372.2 233.7,368.2 236.3,364.3 239,360.4 241.7,356.5 244.5,352.7 247.3,349 250.2,345.3 253.2,341.6 256.3,338 259.4,334.4 262.6,330.9 265.8,327.5 269.1,324.1 272.4,320.7 275.8,317.5 279.3,314.2 282.8,311.1 286.4,308 290,304.9 293.7,302 297.4,299.1 301.2,296.2 305,293.4 308.9,290.7 312.8,288.1 316.8,285.5 320.8,283 324.9,280.5 328.9,278.2 333.1,275.9 337.3,273.6 341.5,271.5 345.7,269.4 350,267.4 354.3,265.4 358.7,263.6 363,261.8 367.5,260.1 371.9,258.5 376.4,256.9 380.9,255.4 385.4,254 389.9,252.7 394.5,251.4 399.1,250.3 403.7,249.2 408.3,248.2 412.9,247.3 417.6,246.4 422.2,245.6 426.9,245 431.6,244.4 436.3,243.8 441,243.4 445.7,243 450.4,242.7 455.1,242.6 459.8,242.4 464.5,242.4 469.3,242.4 474,242.6 478.7,242.8 483.4,243.1 488.1,243.5 492.8,243.9 497.4,244.4 502.1,245.1 506.8,245.8 511.4,246.5 516,247.4 520.6,248.3 525.2,249.4 529.8,250.5 534.4,251.6 538.9,252.9 543.4,254.2 547.9,255.7 552.3,257.1 556.8,258.7 561.2,260.4 565.5,262.1 569.9,263.9 574.2,265.8 578.4,267.7 582.7,269.7 586.8,271.8 591,274 595.1,276.2 599.2,278.6 603.2,280.9 607.2,283.4 611.2,285.9 615.1,288.5 618.9,291.2 622.7,293.9 626.5,296.7 630.2,299.5 633.8,302.5 637.4,305.4 641,308.5 644.5,311.6 647.9,314.8 651.3,318 654.6,321.3 657.9,324.6 661.1,328 664.2,331.5 667.3,335 670.3,338.6 673.3,342.2 676.2,345.9 679,349.6 681.7,353.3 684.4,357.2 687.1,361 689.6,364.9 692.1,368.9 694.5,372.9 696.8,376.9 699.1,381 701.3,385.1 703.4,389.3 705.5,393.5 707.5,397.7 709.4,402 711.2,406.3 712.9,410.6 714.6,415 716.2,419.4 717.7,423.8 719.2,428.2 720.5,432.7 721.8,437.2 723,441.7 724.1,446.2 725.2,450.8 726.1,455.4 727,460 727.8,464.6 728.5,469.2 729.2,473.8 729.7,478.5 730.2,483.1 730.6,487.8 730.9,492.5 731.1,497.1 731.3,501.8 731.3,506.5 731.3,511.2 731.2,515.9 731,520.5 730.8,525.2 730.4,529.9 730,534.6 729.5,539.2 728.9,543.9 728.2,548.5 727.4,553.2 726.6,557.8 725.7,562.4 724.7,567 723.6,571.5 722.4,576.1 721.2,580.6 719.9,585.1 718.5,589.6 717,594.1 715.5,598.5 713.8,602.9 712.1,607.3 710.3,611.7 708.5,616 706.5,620.3 704.5,624.6 702.4,628.8 700.3,633 698.1,637.1 695.7,641.2 693.4,645.3 690.9,649.4 688.4,653.3 685.8,657.3 683.2,661.2 680.5,665.1 677.7,668.9 674.8,672.6 671.9,676.3 668.9,680 665.9,683.6 662.7,687.2 659.6,690.7 656.3,694.1 653.1,697.5 649.7,700.8 646.3,704.1 642.8,707.3 639.3,710.5 635.7,713.6 632.1,716.6 628.4,719.6 624.7,722.5 620.9,725.4 617.1,728.2 613.2,730.9 609.3,733.5 605.3,736.1 601.3,738.6 597.3,741 593.2,743.4 589.1,745.7 584.9,747.9 580.7,750.1 576.4,752.2 572.1,754.2 567.8,756.1 563.5,758 559.1,759.8 554.7,761.5 550.2,763.1 545.8,764.7 541.3,766.2 536.8,767.6 532.2,768.9 527.7,770.1 523.1,771.3 518.5,772.4 513.9,773.4 509.2,774.3 504.6,775.2 499.9,775.9 495.2,776.6 490.6,777.2 485.9,777.8 481.2,778.2 476.5,778.6 471.7,778.8 467,779 462.3,779.1 457.6,779.2 452.9,779.1 448.2,779 443.5,778.8 438.8,778.5 434.1,778.1 429.4,777.7 424.7,777.1 420,776.5 415.4,775.8 410.7,775 406.1,774.2 401.5,773.2 396.9,772.2 392.3,771.1 387.8,769.9 383.2,768.7 378.7,767.3 374.3,765.9 369.8,764.4 365.4,762.9 361,761.2 356.6,759.5 352.3,757.7 348,755.8 343.7,753.9 339.5,751.9 335.3,749.8 331.1,747.6 327,745.3 322.9,743 318.9,740.7 314.9,738.2 311,735.7 307.1,733.1 303.2,730.4 299.4,727.7 295.7,724.9 291.9,722.1 288.3,719.1 284.7,716.1 281.1,713.1 277.7,710 274.2,706.8M234.3,737 230.2,733.2 226.3,729.3 222.4,725.3 218.6,721.2 214.8,717.1 211.2,712.9 207.6,708.7 204,704.4 200.6,700 197.2,695.6 193.9,691.1 190.7,686.5 187.6,681.9 184.6,677.2 181.6,672.5 178.7,667.8 175.9,663 173.2,658.1 170.6,653.2 168.1,648.2 165.6,643.2 163.3,638.2 161,633.1 158.9,628 156.8,622.8 154.8,617.6 152.9,612.4 151.1,607.1 149.4,601.8 147.7,596.5 146.2,591.1 144.8,585.8 143.4,580.4 142.2,574.9 141,569.5 140,564 139,558.5 138.2,553 137.4,547.5 136.8,542 136.2,536.4 135.7,530.8 135.4,525.3 135.1,519.7 134.9,514.1 134.8,508.5 134.9,503 135,497.4 135.2,491.8 135.5,486.2 135.9,480.7 136.5,475.1 137.1,469.5 137.8,464 138.6,458.5 139.5,452.9 140.5,447.4 141.6,441.9 142.8,436.5 144.1,431 145.4,425.6 146.9,420.2 148.5,414.8 150.1,409.5 151.9,404.1 153.8,398.9 155.7,393.6 157.7,388.4 159.9,383.2 162.1,378 164.4,372.9 166.8,367.8 169.3,362.8 171.8,357.8 174.5,352.9 177.3,348 180.1,343.1 183,338.3 186,333.5 189.1,328.8 192.2,324.2 195.5,319.6 198.8,315 202.2,310.6 205.7,306.1 209.2,301.8 212.9,297.5 216.6,293.2 220.4,289.1 224.2,284.9 228.1,280.9 232.1,276.9 236.2,273 240.3,269.2 244.5,265.4 248.8,261.7 253.1,258.1 257.5,254.6 261.9,251.1 266.4,247.7 271,244.4 275.6,241.2 280.3,238 285,234.9 289.8,231.9 294.6,229 299.5,226.2 304.4,223.5 309.4,220.8 314.4,218.2 319.5,215.7 324.6,213.3 329.7,211 334.9,208.8 340.1,206.7 345.4,204.6 350.7,202.7 356,200.8 361.3,199.1 366.7,197.4 372.1,195.8 377.6,194.3 383,193 388.5,191.7 394,190.5 399.5,189.4 405.1,188.3 410.6,187.4 416.2,186.6 421.8,185.9 427.4,185.3 433,184.7 438.6,184.3 444.2,184 449.8,183.7 455.5,183.6 461.1,183.6 466.7,183.6 472.3,183.8 477.9,184 483.5,184.4 489.1,184.8 494.7,185.4 500.3,186 505.9,186.7 511.4,187.6 516.9,188.5 522.5,189.5 527.9,190.7 533.4,191.9 538.9,193.2 544.3,194.6 549.7,196.1 555.1,197.7 560.4,199.4 565.7,201.1 571,203 576.2,205 581.4,207 586.6,209.2 591.7,211.4 596.8,213.7 601.8,216.1 606.8,218.6 611.8,221.2 616.7,223.9 621.6,226.7 626.4,229.5 631.1,232.4 635.8,235.4 640.5,238.5 645.1,241.7 649.6,244.9 654.1,248.3 658.5,251.7 662.8,255.1 667.1,258.7 671.4,262.3 675.5,266 679.6,269.8 683.6,273.7 687.6,277.6 691.5,281.6 695.3,285.6 699,289.7 702.7,293.9 706.3,298.2 709.8,302.5 713.3,306.9 716.6,311.3 719.9,315.8 723.1,320.3 726.3,324.9 729.3,329.6 732.3,334.3 735.1,339.1 737.9,343.9 740.6,348.8 743.2,353.7 745.8,358.6 748.2,363.6 750.6,368.7 752.8,373.7 755,378.9 757.1,384 759.1,389.2 761,394.5 762.8,399.7 764.5,405 766.1,410.3 767.7,415.7 769.1,421.1 770.4,426.5 771.7,431.9 772.8,437.4 773.9,442.8 774.8,448.3 775.7,453.8 776.4,459.4 777.1,464.9 777.7,470.4 778.1,476 778.5,481.6 778.8,487.1 779,492.7 779,498.3 779,503.9 778.9,509.5 778.7,515 778.3,520.6 777.9,526.2 777.4,531.8 776.8,537.3 776.1,542.9 775.3,548.4 774.4,553.9 773.4,559.4 772.3,564.9 771.1,570.4 769.8,575.8 768.4,581.2 767,586.7 765.4,592 763.7,597.4 762,602.7 760.1,608 758.2,613.3 756.1,618.5 754,623.7 751.8,628.8 749.5,633.9 747.1,639 744.6,644.1 742,649 739.4,654 736.6,658.9 733.8,663.7 730.9,668.6 727.9,673.3 724.8,678 721.6,682.7 718.4,687.3 715.1,691.8 711.7,696.3 708.2,700.7 704.6,705.1 701,709.4 697.3,713.6 693.5,717.8 689.7,721.9 685.7,725.9 681.8,729.9 677.7,733.8 673.6,737.7 669.4,741.4 665.1,745.1 660.8,748.7 656.4,752.3 652,755.8 647.5,759.1 642.9,762.5 638.3,765.7 633.6,768.9 628.9,771.9 624.1,774.9 619.3,777.8 614.4,780.7 609.5,783.4 604.5,786.1 599.5,788.6 594.4,791.1 589.3,793.5 584.2,795.8 579,798 573.8,800.2 568.5,802.2 563.2,804.1 557.9,806 552.5,807.8 547.1,809.4 541.7,811 536.3,812.5 530.8,813.9 525.4,815.2 519.9,816.4 514.3,817.5 508.8,818.5 503.2,819.4 497.7,820.2 492.1,821 486.5,821.6 480.9,822.1 475.3,822.5 469.7,822.9 464,823.1 458.4,823.2 452.8,823.3 447.2,823.2 441.6,823.1 436,822.8 430.3,822.5 424.7,822 419.2,821.5 413.6,820.8 408,820.1 402.5,819.3 396.9,818.3 391.4,817.3 385.9,816.2 380.5,815 375,813.7 369.6,812.3 364.2,810.8 358.8,809.2 353.5,807.5 348.2,805.7 342.9,803.8 337.7,801.9 332.5,799.8 327.3,797.7 322.2,795.4 317.1,793.1 312,790.7 307,788.2 302.1,785.6 297.2,783 292.3,780.2 287.5,777.4 282.8,774.4 278.1,771.4 273.4,768.3 268.8,765.2 264.3,761.9 259.8,758.6 255.4,755.2 251,751.7 246.7,748.2 242.5,744.5 238.4,740.8 234.3,737M200.4,759 195.9,754.6 191.4,750.2 187,745.7 182.7,741.1 178.4,736.5 174.3,731.7 170.2,726.9 166.2,722.1 162.4,717.1 158.6,712.1 154.8,707 151.2,701.9 147.7,696.7 144.2,691.4 140.9,686.1 137.6,680.7 134.5,675.2 131.4,669.7 128.5,664.2 125.6,658.6 122.8,652.9 120.2,647.2 117.6,641.5 115.2,635.7 112.8,629.9 110.6,624 108.4,618.1 106.4,612.1 104.4,606.1 102.6,600.1 100.9,594.1 99.2,588 97.7,581.9 96.3,575.7 95,569.6 93.8,563.4 92.8,557.2 91.8,550.9 90.9,544.7 90.2,538.4 89.6,532.2 89,525.9 88.6,519.6 88.3,513.3 88.1,507 88,500.7 88,494.4 88.2,488.1 88.4,481.8 88.8,475.4 89.3,469.1 89.8,462.9 90.5,456.6 91.3,450.3 92.2,444.1 93.3,437.8 94.4,431.6 95.6,425.4 97,419.2 98.4,413 100,406.9 101.7,400.8 103.4,394.7 105.3,388.7 107.3,382.7 109.4,376.7 111.6,370.7 113.9,364.8 116.3,359 118.8,353.1 121.4,347.3 124.1,341.6 126.9,335.9 129.9,330.3 132.9,324.7 136,319.1 139.2,313.6 142.5,308.2 145.9,302.8 149.3,297.5 152.9,292.3 156.6,287.1 160.3,281.9 164.2,276.9 168.1,271.9 172.1,266.9 176.2,262.1 180.4,257.3 184.7,252.5 189.1,247.9 193.5,243.3 198,238.8 202.6,234.4 207.3,230.1 212,225.8 216.8,221.6 221.7,217.6 226.6,213.5 231.7,209.6 236.8,205.8 241.9,202 247.1,198.4 252.4,194.8 257.8,191.3 263.2,188 268.6,184.7 274.1,181.5 279.7,178.4 285.3,175.4 291,172.5 296.7,169.7 302.5,166.9 308.3,164.3 314.2,161.8 320.1,159.4 326,157.1 332,154.9 338,152.8 344.1,150.8 350.2,148.9 356.3,147.2 362.4,145.5 368.6,143.9 374.8,142.4 381,141.1 387.3,139.8 393.5,138.7 399.8,137.7 406.1,136.7 412.4,135.9 418.7,135.2 425.1,134.6 431.4,134.1 437.8,133.8 444.1,133.5 450.5,133.3 456.8,133.3 463.2,133.4 469.5,133.5 475.9,133.8 482.2,134.2 488.5,134.7 494.9,135.3 501.2,136 507.5,136.9 513.7,137.8 520,138.9 526.2,140 532.4,141.3 538.6,142.7 544.8,144.2 550.9,145.7 557,147.4 563.1,149.2 569.1,151.1 575.1,153.2 581.1,155.3 587,157.5 592.9,159.8 598.7,162.2 604.5,164.8 610.3,167.4 616,170.1 621.6,172.9 627.2,175.9 632.8,178.9 638.3,182 643.7,185.2 649.1,188.5 654.4,191.9 659.6,195.4 664.8,199 670,202.7 675,206.4 680,210.3 684.9,214.2 689.8,218.2 694.6,222.3 699.3,226.5 703.9,230.8 708.4,235.1 712.9,239.6 717.3,244.1 721.6,248.7 725.9,253.3 730,258 734.1,262.9 738.1,267.7 741.9,272.7 745.8,277.7 749.5,282.8 753.1,287.9 756.6,293.1 760.1,298.4 763.4,303.7 766.7,309.1 769.8,314.5 772.9,320 775.8,325.6 778.7,331.2 781.5,336.8 784.1,342.5 786.7,348.3 789.1,354.1 791.5,359.9 793.7,365.8 795.9,371.7 797.9,377.7 799.9,383.6 801.7,389.7 803.4,395.7 805.1,401.8 806.6,407.9 808,414.1 809.3,420.2 810.5,426.4 811.5,432.6 812.5,438.8 813.4,445.1 814.1,451.3 814.8,457.6 815.3,463.9 815.7,470.2 816,476.5 816.2,482.8 816.3,489.1 816.3,495.4 816.1,501.7 815.9,508 815.5,514.3 815,520.6 814.5,526.9 813.8,533.2 813,539.5 812.1,545.7 811,552 809.9,558.2 808.7,564.4 807.3,570.6 805.9,576.7 804.3,582.9 802.6,589 800.9,595.1 799,601.1 797,607.1 794.9,613.1 792.7,619.1 790.4,625 788,630.8 785.5,636.7 782.9,642.4 780.2,648.2 777.4,653.9 774.5,659.5 771.4,665.1 768.3,670.7 765.1,676.1 761.8,681.6 758.5,686.9 755,692.3 751.4,697.5 747.7,702.7 744,707.9 740.1,712.9 736.2,717.9 732.2,722.9 728.1,727.7 723.9,732.5 719.6,737.2 715.3,741.9 710.8,746.5 706.3,750.9 701.7,755.4 697.1,759.7 692.3,764 687.5,768.1 682.6,772.2 677.7,776.2 672.6,780.2 667.5,784 662.4,787.7 657.2,791.4 651.9,795 646.5,798.4 641.1,801.8 635.7,805.1 630.2,808.3 624.6,811.4 619,814.4 613.3,817.3 607.6,820.1 601.8,822.8 596,825.4 590.1,827.9 584.2,830.4 578.3,832.7 572.3,834.9 566.3,837 560.2,839 554.1,840.8 548,842.6 541.9,844.3 535.7,845.9 529.5,847.3 523.3,848.7 517,849.9 510.8,851.1 504.5,852.1 498.2,853 491.9,853.9 485.6,854.6 479.2,855.2 472.9,855.6 466.5,856 460.2,856.3 453.8,856.4 447.5,856.5 441.1,856.4 434.8,856.3 428.4,856 422.1,855.6 415.8,855.1 409.4,854.5 403.1,853.7 396.8,852.9 390.6,852 384.3,850.9 378.1,849.7 371.9,848.5 365.7,847.1 359.5,845.6 353.4,844 347.3,842.3 341.2,840.5 335.2,838.6 329.2,836.6 323.2,834.5 317.3,832.3 311.4,830 305.6,827.5 299.8,825 294,822.4 288.3,819.7 282.7,816.8 277.1,813.9 271.5,810.9 266.1,807.8 260.6,804.6 255.2,801.3 249.9,797.9 244.7,794.4 239.5,790.8 234.4,787.1 229.3,783.4 224.3,779.5 219.4,775.6 214.5,771.6 209.7,767.5 205,763.3 200.4,759M173.7,772 168.8,767.3 163.9,762.5 159.1,757.6 154.5,752.6 149.9,747.6 145.4,742.4 141,737.2 136.6,731.9 132.4,726.6 128.3,721.1 124.3,715.6 120.3,710 116.5,704.4 112.8,698.7 109.1,692.9 105.6,687 102.2,681.1 98.9,675.2 95.6,669.2 92.5,663.1 89.5,656.9 86.7,650.8 83.9,644.5 81.2,638.2 78.6,631.9 76.2,625.5 73.9,619.1 71.7,612.7 69.6,606.2 67.6,599.6 65.7,593.1 63.9,586.5 62.3,579.8 60.8,573.2 59.4,566.5 58.1,559.8 56.9,553 55.9,546.3 54.9,539.5 54.1,532.7 53.4,525.9 52.8,519.1 52.4,512.3 52.1,505.4 51.8,498.6 51.8,491.7 51.8,484.9 51.9,478 52.2,471.2 52.6,464.3 53.1,457.5 53.7,450.7 54.5,443.9 55.3,437.1 56.3,430.3 57.4,423.5 58.7,416.8 60,410 61.5,403.3 63,396.6 64.7,390 66.6,383.4 68.5,376.8 70.5,370.2 72.7,363.7 75,357.2 77.3,350.7 79.8,344.3 82.5,337.9 85.2,331.6 88,325.3 90.9,319.1 94,312.9 97.1,306.8 100.4,300.7 103.8,294.7 107.2,288.8 110.8,282.9 114.5,277 118.3,271.3 122.2,265.6 126.1,259.9 130.2,254.4 134.4,248.9 138.7,243.4 143,238.1 147.5,232.8 152,227.6 156.7,222.5 161.4,217.4 166.2,212.5 171.1,207.6 176.1,202.8 181.1,198.1 186.3,193.5 191.5,189 196.8,184.5 202.2,180.2 207.6,175.9 213.1,171.8 218.7,167.7 224.4,163.7 230.1,159.8 235.9,156.1 241.8,152.4 247.7,148.8 253.7,145.4 259.8,142 265.9,138.7 272,135.6 278.2,132.5 284.5,129.6 290.8,126.8 297.2,124.1 303.6,121.4 310,118.9 316.5,116.6 323,114.3 329.6,112.1 336.2,110.1 342.8,108.1 349.5,106.3 356.2,104.6 362.9,103 369.7,101.5 376.5,100.2 383.3,98.9 390.1,97.8 396.9,96.8 403.7,95.9 410.6,95.2 417.5,94.5 424.4,94 431.2,93.6 438.1,93.3 445,93.1 451.9,93.1 458.8,93.2 465.7,93.3 472.6,93.7 479.5,94.1 486.3,94.6 493.2,95.3 500,96.1 506.9,97 513.7,98 520.5,99.1 527.2,100.4 534,101.8 540.7,103.3 547.4,104.9 554,106.6 560.6,108.4 567.2,110.4 573.8,112.5 580.3,114.6 586.8,116.9 593.2,119.3 599.6,121.9 605.9,124.5 612.2,127.2 618.4,130.1 624.6,133 630.7,136.1 636.8,139.3 642.8,142.6 648.8,145.9 654.7,149.4 660.5,153 666.3,156.7 672,160.5 677.6,164.4 683.2,168.3 688.7,172.4 694.1,176.6 699.4,180.9 704.7,185.2 709.9,189.7 715,194.2 720,198.9 725,203.6 729.8,208.4 734.6,213.3 739.3,218.3 743.9,223.3 748.4,228.5 752.8,233.7 757.1,239 761.3,244.3 765.4,249.8 769.5,255.3 773.4,260.9 777.2,266.5 781,272.2 784.6,278 788.1,283.8 791.5,289.8 794.9,295.7 798.1,301.7 801.2,307.8 804.2,314 807.1,320.1 809.8,326.4 812.5,332.7 815.1,339 817.5,345.4 819.8,351.8 822.1,358.2 824.2,364.7 826.2,371.3 828,377.8 829.8,384.4 831.4,391.1 833,397.7 834.4,404.4 835.6,411.1 836.8,417.9 837.9,424.6 838.8,431.4 839.6,438.2 840.3,445 840.9,451.8 841.3,458.6 841.7,465.5 841.9,472.3 842,479.2 841.9,486 841.8,492.9 841.5,499.7 841.1,506.5 840.6,513.4 840,520.2 839.2,527 838.4,533.8 837.4,540.6 836.3,547.4 835.1,554.1 833.7,560.9 832.2,567.6 830.7,574.3 829,580.9 827.2,587.5 825.2,594.1 823.2,600.7 821,607.2 818.8,613.7 816.4,620.2 813.9,626.6 811.3,632.9 808.5,639.3 805.7,645.5 802.8,651.8 799.7,658 796.6,664.1 793.3,670.1 789.9,676.2 786.5,682.1 782.9,688 779.2,693.8 775.4,699.6 771.6,705.3 767.6,711 763.5,716.5 759.3,722 755.1,727.4 750.7,732.8 746.2,738.1 741.7,743.3 737.1,748.4 732.3,753.4 727.5,758.4 722.6,763.3 717.7,768.1 712.6,772.8 707.4,777.4 702.2,781.9 696.9,786.4 691.5,790.7 686.1,795 680.6,799.1 675,803.2 669.3,807.2 663.6,811 657.8,814.8 651.9,818.5 646,822.1 640,825.5 634,828.9 627.9,832.1 621.7,835.3 615.5,838.3 609.2,841.3 602.9,844.1 596.6,846.8 590.2,849.4 583.7,851.9 577.2,854.3 570.7,856.6 564.1,858.8 557.5,860.8 550.9,862.8 544.2,864.6 537.5,866.3 530.8,867.9 524,869.3 517.3,870.7 510.5,871.9 503.7,873.1 496.8,874.1 490,875 483.1,875.7 476.2,876.4 469.4,876.9 462.5,877.3 455.6,877.6 448.7,877.8 441.8,877.8 434.9,877.7 428,877.5 421.1,877.2 414.2,876.8 407.4,876.3 400.5,875.6 393.7,874.8 386.9,873.9 380,872.9 373.3,871.7 366.5,870.5 359.8,869.1 353,867.6 346.4,866 339.7,864.3 333.1,862.5 326.5,860.5 319.9,858.4 313.4,856.2 307,854 300.5,851.5 294.2,849 287.8,846.4 281.5,843.7 275.3,840.8 269.1,837.9 263,834.8 256.9,831.6 250.9,828.3 244.9,825 239,821.5 233.2,817.9 227.4,814.2 221.7,810.4 216.1,806.5 210.5,802.5 205,798.5 199.6,794.3 194.3,790 189,785.7 183.8,781.2 178.7,776.7 173.7,772M155,775.7 149.8,770.8 144.7,765.7 139.7,760.6 134.8,755.4 130,750.1 125.2,744.7 120.6,739.2 116.1,733.7 111.7,728.1 107.3,722.4 103.1,716.6 99,710.8 95,704.8 91.1,698.8 87.3,692.8 83.6,686.7 80,680.5 76.5,674.2 73.1,667.9 69.9,661.5 66.7,655.1 63.7,648.6 60.8,642.1 58,635.5 55.3,628.9 52.8,622.2 50.3,615.5 48,608.7 45.8,601.9 43.7,595 41.7,588.2 39.9,581.2 38.2,574.3 36.6,567.3 35.1,560.3 33.8,553.3 32.5,546.2 31.4,539.1 30.5,532 29.6,524.9 28.9,517.8 28.3,510.6 27.8,503.5 27.5,496.3 27.2,489.1 27.1,482 27.2,474.8 27.3,467.6 27.6,460.4 28,453.3 28.6,446.1 29.2,439 30,431.8 30.9,424.7 31.9,417.6 33.1,410.5 34.4,403.4 35.8,396.3 37.3,389.3 39,382.3 40.8,375.3 42.7,368.4 44.7,361.5 46.8,354.6 49.1,347.8 51.5,341 54,334.2 56.6,327.5 59.3,320.8 62.2,314.2 65.1,307.6 68.2,301.1 71.4,294.6 74.7,288.2 78.1,281.8 81.7,275.5 85.3,269.3 89.1,263.1 92.9,257 96.9,250.9 100.9,245 105.1,239 109.4,233.2 113.7,227.4 118.2,221.8 122.8,216.1 127.5,210.6 132.2,205.2 137.1,199.8 142,194.5 147.1,189.3 152.2,184.2 157.4,179.2 162.7,174.2 168.1,169.4 173.6,164.7 179.1,160 184.8,155.4 190.5,151 196.3,146.6 202.1,142.4 208.1,138.2 214.1,134.2 220.2,130.2 226.3,126.4 232.5,122.6 238.8,119 245.1,115.5 251.5,112 258,108.7 264.5,105.5 271.1,102.5 277.7,99.5 284.3,96.6 291,93.9 297.8,91.3 304.6,88.8 311.4,86.4 318.3,84.1 325.2,82 332.2,79.9 339.2,78 346.2,76.3 353.3,74.6 360.3,73 367.4,71.6 374.6,70.3 381.7,69.2 388.9,68.1 396,67.2 403.2,66.4 410.4,65.7 417.6,65.1 424.9,64.7 432.1,64.4 439.3,64.2 446.5,64.2 453.8,64.3 461,64.5 468.2,64.8 475.4,65.2 482.6,65.8 489.8,66.5 497,67.3 504.1,68.3 511.2,69.3 518.4,70.5 525.4,71.8 532.5,73.3 539.5,74.9 546.5,76.5 553.5,78.3 560.5,80.3 567.4,82.3 574.2,84.5 581,86.8 587.8,89.2 594.6,91.7 601.3,94.3 607.9,97.1 614.5,100 621,103 627.5,106.1 633.9,109.3 640.3,112.6 646.6,116 652.8,119.6 659,123.2 665.1,127 671.2,130.8 677.2,134.8 683.1,138.9 688.9,143.1 694.6,147.3 700.3,151.7 705.9,156.2 711.4,160.8 716.9,165.4 722.2,170.2 727.5,175.1 732.7,180 737.8,185 742.8,190.2 747.7,195.4 752.5,200.7 757.2,206.1 761.8,211.5 766.3,217.1 770.8,222.7 775.1,228.4 779.3,234.2 783.4,240 787.5,245.9 791.4,251.9 795.2,258 798.9,264.1 802.5,270.3 805.9,276.5 809.3,282.9 812.5,289.2 815.7,295.7 818.7,302.1 821.6,308.7 824.4,315.3 827.1,321.9 829.7,328.6 832.1,335.3 834.4,342.1 836.6,348.9 838.7,355.7 840.7,362.6 842.5,369.5 844.3,376.5 845.8,383.5 847.3,390.5 848.7,397.5 849.9,404.6 851,411.6 852,418.7 852.8,425.9 853.6,433 854.2,440.1 854.6,447.3 855,454.4 855.2,461.6 855.3,468.8 855.3,476 855.1,483.1 854.8,490.3 854.4,497.5 853.9,504.7 853.2,511.8 852.4,518.9 851.5,526.1 850.5,533.2 849.3,540.3 848,547.4 846.6,554.4 845.1,561.4 843.5,568.5 841.7,575.4 839.8,582.4 837.8,589.3 835.6,596.2 833.4,603 831,609.8 828.5,616.6 825.9,623.3 823.1,630 820.3,636.6 817.3,643.2 814.2,649.7 811,656.2 807.7,662.6 804.3,668.9 800.8,675.2 797.1,681.5 793.4,687.7 789.5,693.8 785.6,699.8 781.5,705.8 777.3,711.7 773.1,717.6 768.7,723.3 764.2,729 759.6,734.6 755,740.1 750.2,745.6 745.4,751 740.4,756.2 735.4,761.4 730.2,766.6 725,771.6 719.7,776.5 714.3,781.4 708.8,786.1 703.3,790.8 697.7,795.3 691.9,799.8 686.2,804.1 680.3,808.4 674.3,812.6 668.3,816.6 662.3,820.6 656.1,824.4 649.9,828.1 643.6,831.8 637.3,835.3 630.9,838.7 624.5,842 617.9,845.2 611.4,848.3 604.8,851.3 598.1,854.1 591.4,856.9 584.6,859.5 577.8,862 571,864.4 564.1,866.6 557.2,868.8 550.2,870.8 543.2,872.7 536.2,874.5 529.2,876.2 522.1,877.7 515,879.1 507.9,880.4 500.7,881.6 493.6,882.7 486.4,883.6 479.2,884.4 472,885.1 464.8,885.6 457.6,886 450.4,886.3 443.1,886.5 435.9,886.6 428.7,886.5 421.5,886.3 414.2,886 407,885.5 399.8,885 392.7,884.3 385.5,883.4 378.3,882.5 371.2,881.4 364.1,880.2 357,878.9 349.9,877.5 342.9,875.9 335.9,874.2 328.9,872.4 322,870.5 315.1,868.4 308.2,866.3 301.4,864 294.6,861.6 287.9,859.1 281.2,856.4 274.5,853.7 268,850.8 261.4,847.8 254.9,844.7 248.5,841.5 242.1,838.2 235.8,834.7 229.6,831.2 223.4,827.5 217.3,823.8 211.3,819.9 205.3,816 199.4,811.9 193.5,807.7 187.8,803.4 182.1,799 176.5,794.6 171,790 165.6,785.3 160.2,780.6 155,775.7M65.1,666.9 61.6,660.5 58.3,654 55.2,647.5 52.1,640.9 49.1,634.3 46.3,627.6 43.6,620.9 41,614.1 38.5,607.2 36.1,600.4 33.9,593.5 31.8,586.5 29.8,579.5 27.9,572.5 26.2,565.4 24.5,558.3 23,551.2 21.7,544.1 20.4,536.9 19.3,529.7 18.3,522.5 17.4,515.3 16.7,508.1 16.1,500.8 15.6,493.5 15.3,486.3 15,479 14.9,471.7 15,464.4 15.1,457.1 15.4,449.8 15.8,442.6 16.4,435.3 17,428 17.8,420.8 18.8,413.5 19.8,406.3 21,399.1 22.3,391.9 23.7,384.7 25.3,377.6 27,370.5 28.8,363.4 30.7,356.4 32.7,349.3 34.9,342.4 37.2,335.4 39.6,328.5 42.2,321.6 44.8,314.8 47.6,308 50.5,301.3 53.5,294.6 56.6,288 59.9,281.4 63.2,274.9 66.7,268.4 70.3,262 74,255.7 77.8,249.4 81.7,243.2 85.7,237.1 89.9,231 94.1,225 98.4,219.1 102.9,213.2 107.4,207.5 112.1,201.8 116.8,196.2 121.6,190.6 126.6,185.2 131.6,179.8 136.7,174.5 141.9,169.3 147.2,164.2 152.6,159.2 158.1,154.3 163.6,149.5 169.3,144.8 175,140.1 180.8,135.6 186.7,131.2 192.6,126.8 198.7,122.6 204.8,118.5 210.9,114.5 217.2,110.6 223.5,106.8 229.9,103.1 236.3,99.5 242.8,96.1 249.3,92.7 255.9,89.5 262.6,86.3 269.3,83.3 276.1,80.4 282.9,77.6 289.8,75 296.7,72.4 303.6,70 310.6,67.7 317.6,65.5 324.7,63.5 331.8,61.5 338.9,59.7 346.1,58 353.3,56.5 360.5,55 367.7,53.7 375,52.5 382.2,51.4 389.5,50.5 396.8,49.7 404.1,49 411.5,48.4 418.8,48 426.1,47.7 433.5,47.5 440.8,47.5 448.1,47.5 455.5,47.7 462.8,48.1 470.1,48.5 477.4,49.1 484.7,49.8 492,50.6 499.3,51.6 506.5,52.7 513.7,53.9 520.9,55.2 528.1,56.7 535.2,58.3 542.4,60 549.4,61.8 556.5,63.8 563.5,65.9 570.5,68.1 577.4,70.4 584.3,72.8 591.1,75.4 597.9,78.1 604.6,80.9 611.3,83.8 618,86.8 624.6,90 631.1,93.2 637.5,96.6 644,100.1 650.3,103.7 656.6,107.4 662.8,111.2 668.9,115.1 675,119.2 681,123.3 686.9,127.6 692.7,131.9 698.5,136.3 704.2,140.9 709.8,145.5 715.3,150.3 720.7,155.1 726.1,160 731.3,165.1 736.5,170.2 741.6,175.4 746.6,180.7 751.5,186.1 756.2,191.5 760.9,197.1 765.5,202.7 770,208.4 774.4,214.2 778.7,220.1 782.9,226 787,232 790.9,238.1 794.8,244.2 798.6,250.5 802.2,256.7M468.9,524.8 463.8,530.1 458.7,535.4 453.6,540.7 448.5,545.9 443.4,551.1 438.3,556.3 433.2,561.5 428.1,566.6 423,571.7 417.9,576.8 412.8,581.9 407.7,586.9 402.7,591.8 397.6,596.8 392.5,601.7 387.5,606.5 382.5,611.3 377.4,616.1 372.4,620.8 367.5,625.5 362.5,630.1 357.6,634.7 352.7,639.2 347.8,643.7 342.9,648.1 338.1,652.4 333.3,656.7 328.5,661 323.8,665.1 319.1,669.3 314.4,673.3 309.8,677.3 305.2,681.2 300.6,685.1 296.1,688.9 291.6,692.6 287.2,696.3 282.8,699.9 278.5,703.4 274.2,706.8 270,710.2 265.8,713.5 261.7,716.7 257.6,719.8 253.5,722.9 249.6,725.9 245.7,728.8 241.8,731.6 238,734.4 234.3,737 230.6,739.6 227,742.1 223.4,744.5 219.9,746.9 216.5,749.1 213.1,751.3 209.9,753.3 206.6,755.3 203.5,757.2 200.4,759 197.4,760.7 194.5,762.3 191.6,763.9 188.8,765.3 186.1,766.7 183.5,767.9 180.9,769.1 178.4,770.2 176,771.1 173.7,772 171.5,772.8 169.3,773.5 167.2,774.1 165.2,774.6 163.3,775 161.5,775.4 159.7,775.6 158,775.7 156.5,775.8 155,775.7 153.5,775.6 152.2,775.3 151,775 149.8,774.5 148.7,774 147.8,773.4 146.9,772.7M468.9,524.8 461.9,526.9 454.8,529 447.7,531.1 440.7,533.1 433.6,535.1 426.5,537.2 419.5,539.1 412.4,541.1 405.3,543.1 398.3,545 391.3,546.9 384.3,548.7 377.2,550.6 370.3,552.4 363.3,554.2 356.3,556 349.4,557.7 342.5,559.4 335.7,561.1 328.8,562.7 322,564.4 315.3,565.9 308.5,567.5 301.8,569 295.2,570.5 288.6,572 282,573.4 275.5,574.8 269,576.2 262.6,577.5 256.2,578.8 249.9,580.1 243.7,581.3 237.5,582.5 231.3,583.7 225.3,584.8 219.2,585.9 213.3,586.9 207.4,587.9 201.6,588.9 195.9,589.8 190.2,590.7 184.6,591.6 179.1,592.4 173.7,593.2 168.3,593.9 163,594.6 157.9,595.3 152.8,595.9 147.7,596.5 142.8,597 138,597.6 133.2,598 128.5,598.4 124,598.8 119.5,599.2 115.1,599.5 110.8,599.7 106.7,599.9 102.6,600.1 98.6,600.3 94.7,600.3 91,600.4 87.3,600.4 83.7,600.4 80.3,600.3 76.9,600.2 73.7,600.1 70.6,599.9 67.6,599.6 64.7,599.3 61.9,599 59.2,598.7 56.6,598.3 54.2,597.8 51.9,597.4 49.6,596.8 47.5,596.3 45.6,595.7 43.7,595 42,594.4 40.4,593.6 38.9,592.9 37.5,592.1 36.2,591.3 35.1,590.4 34.1,589.5 33.2,588.5 32.4,587.5 31.8,586.5 31.2,585.4 30.8,584.3M468.9,524.8 461.8,523.1 454.6,521.4 447.5,519.8 440.3,518 433.2,516.3 426,514.6 418.9,512.8 411.7,511 404.6,509.3 397.5,507.5 390.4,505.6 383.3,503.8 376.2,502 369.1,500.1 362.1,498.3 355,496.4 348,494.5 341,492.6 334.1,490.8 327.2,488.8 320.3,486.9 313.5,485 306.7,483.1 299.9,481.2 293.2,479.2 286.5,477.3 279.8,475.4 273.2,473.4 266.7,471.5 260.2,469.5 253.8,467.6 247.4,465.6 241,463.7 234.8,461.7 228.6,459.8 222.4,457.8 216.4,455.9 210.3,453.9 204.4,452 198.5,450 192.7,448.1 187,446.2 181.3,444.3 175.8,442.3 170.3,440.4 164.9,438.5 159.5,436.6 154.3,434.8 149.1,432.9 144.1,431 139.1,429.2 134.2,427.3 129.4,425.5 124.7,423.7 120,421.9 115.5,420.1 111.1,418.3 106.8,416.5 102.6,414.8 98.4,413 94.4,411.3 90.5,409.6 86.7,407.9 83,406.3 79.4,404.6 75.9,403 72.5,401.4 69.2,399.8 66.1,398.2 63,396.6 60.1,395.1 57.3,393.6 54.6,392.1 52,390.6 49.5,389.2 47.2,387.8 45,386.4 42.8,385 40.9,383.6 39,382.3 37.2,381 35.6,379.7 34.1,378.5 32.7,377.3 31.4,376.1 30.3,374.9 29.3,373.7 28.4,372.6 27.6,371.5 27,370.5 26.4,369.5 26,368.5 25.8,367.5 25.6,366.6 25.6,365.6 25.7,364.8M468.9,524.8 463.6,519.8 458.3,514.8 453,509.8 447.6,504.7 442.3,499.7 437,494.6 431.6,489.6 426.3,484.5 421,479.4 415.6,474.3 410.3,469.3 405,464.2 399.7,459.1 394.4,454 389.1,448.9 383.9,443.9 378.6,438.8 373.4,433.7 368.2,428.7 363,423.6 357.8,418.6 352.7,413.6 347.5,408.6 342.4,403.6 337.4,398.6 332.3,393.7 327.3,388.8 322.4,383.9 317.4,379 312.5,374.2 307.6,369.4 302.8,364.6 298,359.8 293.3,355.1 288.6,350.4 283.9,345.7 279.3,341.1 274.8,336.5 270.2,332 265.8,327.5 261.4,323 257,318.6 252.7,314.2 248.5,309.9 244.3,305.6 240.1,301.4 236.1,297.2 232,293.1 228.1,289 224.2,284.9 220.4,281 216.6,277.1 212.9,273.2 209.3,269.4 205.8,265.7 202.3,262 198.9,258.4 195.5,254.8 192.2,251.3 189.1,247.9 185.9,244.5 182.9,241.2 179.9,238 177,234.9 174.2,231.8 171.5,228.8 168.8,225.8 166.3,223 163.8,220.2 161.4,217.4 159.1,214.8 156.8,212.2 154.7,209.7 152.6,207.3 150.6,205 148.7,202.7 146.9,200.6 145.2,198.5 143.6,196.4 142,194.5 140.6,192.7 139.2,190.9 137.9,189.2 136.8,187.6 135.7,186.1 134.7,184.7 133.8,183.3 133,182.1 132.2,180.9 131.6,179.8 131.1,178.8 130.6,177.9 130.3,177.1 130,176.3 129.8,175.7 129.8,175.1 129.8,174.6 129.9,174.3M468.9,524.8 466.8,517.8 464.8,510.8 462.7,503.8 460.6,496.8 458.5,489.7 456.4,482.7 454.3,475.6 452.2,468.6 450.1,461.6 447.9,454.5 445.8,447.5 443.7,440.4 441.6,433.4 439.4,426.4 437.3,419.4 435.1,412.4 433,405.4 430.9,398.4 428.7,391.5 426.6,384.5 424.5,377.6 422.4,370.8 420.2,363.9 418.1,357.1 416,350.4 413.9,343.6 411.8,336.9 409.7,330.2 407.6,323.6 405.5,317 403.5,310.5 401.4,304 399.4,297.6 397.3,291.2 395.3,284.8 393.3,278.6 391.3,272.3 389.3,266.2 387.3,260.1 385.4,254 383.4,248 381.5,242.1 379.6,236.3 377.7,230.5 375.8,224.8 374,219.2 372.1,213.6 370.3,208.1 368.5,202.7 366.7,197.4 365,192.2 363.2,187 361.5,181.9 359.8,177 358.2,172.1 356.5,167.3 354.9,162.5 353.3,157.9 351.7,153.4 350.2,148.9 348.6,144.6 347.2,140.4 345.7,136.2 344.2,132.2 342.8,128.2 341.4,124.4 340.1,120.6 338.8,117 337.5,113.5 336.2,110.1 335,106.8 333.8,103.6 332.6,100.5 331.4,97.5 330.3,94.6 329.2,91.9 328.2,89.2 327.2,86.7 326.2,84.3 325.2,82 324.3,79.8 323.4,77.7 322.6,75.8 321.8,74 321,72.3 320.3,70.7 319.6,69.2 318.9,67.9 318.2,66.6 317.6,65.5 317.1,64.5 316.5,63.7 316,62.9 315.6,62.3 315.2,61.8 314.8,61.5 314.4,61.2 314.1,61.1 313.8,61.1M468.9,524.8 470.6,517.7 472.4,510.5 474.1,503.4 475.8,496.3 477.5,489.1 479.2,481.9 480.8,474.8 482.5,467.6 484.1,460.4 485.7,453.2 487.3,446.1 488.9,438.9 490.5,431.8 492.1,424.6 493.6,417.5 495.1,410.4 496.6,403.3 498.1,396.2 499.6,389.1 501,382.1 502.5,375.1 503.9,368.1 505.3,361.1 506.6,354.2 508,347.3 509.3,340.4 510.6,333.6 511.9,326.8 513.1,320.1 514.3,313.4 515.5,306.8 516.7,300.2 517.9,293.6 519,287.1 520.1,280.7 521.2,274.3 522.2,268 523.3,261.7 524.3,255.5 525.2,249.4 526.2,243.3 527.1,237.3 528,231.3 528.9,225.5 529.7,219.7 530.5,214 531.3,208.3 532,202.8 532.7,197.3 533.4,191.9 534.1,186.5 534.7,181.3 535.3,176.2 535.9,171.1 536.4,166.1 536.9,161.3 537.4,156.5 537.8,151.8 538.2,147.2 538.6,142.7 539,138.3 539.3,134 539.6,129.8 539.8,125.7 540,121.7 540.2,117.8 540.4,114 540.5,110.3 540.6,106.7 540.7,103.3 540.7,99.9 540.7,96.7 540.7,93.5 540.6,90.5 540.5,87.6 540.4,84.8 540.2,82.2 540,79.6 539.8,77.2 539.5,74.9 539.2,72.7 538.9,70.6 538.6,68.6 538.2,66.8 537.8,65.1 537.3,63.5 536.9,62 536.3,60.6 535.8,59.4 535.2,58.3 534.6,57.3 534,56.5 533.3,55.7 532.7,55.1 531.9,54.6 531.2,54.3M468.9,524.8 474,519.4 479,514.1 484.1,508.7 489.1,503.4 494.1,498 499.1,492.6 504.1,487.2 509,481.8 514,476.3 518.9,470.9 523.8,465.5 528.6,460.1 533.4,454.6 538.2,449.2 543,443.8 547.7,438.4 552.4,433 557.1,427.6 561.7,422.2 566.3,416.9 570.9,411.5 575.4,406.2 579.8,400.9 584.2,395.6 588.6,390.3 592.9,385 597.2,379.8 601.5,374.6 605.6,369.4 609.8,364.3 613.8,359.2 617.9,354.1 621.8,349 625.7,344 629.6,339 633.4,334.1 637.1,329.2 640.8,324.4 644.4,319.5 647.9,314.8 651.4,310 654.8,305.4 658.1,300.7 661.4,296.2 664.6,291.6 667.8,287.2 670.8,282.7 673.8,278.4 676.8,274.1 679.6,269.8 682.4,265.6 685.1,261.5 687.7,257.4 690.3,253.4 692.7,249.5 695.1,245.6 697.4,241.8 699.7,238.1 701.8,234.4 703.9,230.8 705.9,227.3 707.8,223.8 709.6,220.4 711.4,217.1 713,213.9 714.6,210.7 716.1,207.6 717.5,204.6 718.8,201.7 720,198.9 721.2,196.1 722.2,193.4 723.2,190.8 724.1,188.3 724.8,185.9 725.6,183.6 726.2,181.3 726.7,179.1 727.1,177 727.5,175.1 727.7,173.1 727.9,171.3 728,169.6 728,168 727.9,166.4 727.7,164.9 727.4,163.6 727.1,162.3 726.6,161.1 726.1,160 725.5,159 724.7,158.1M468.9,524.8 475.9,522.6 483,520.5 490,518.3 497,516.2 504,514 510.9,511.8 517.8,509.5 524.8,507.3 531.6,505 538.5,502.8 545.3,500.5 552.1,498.2 558.8,495.9 565.6,493.6 572.2,491.3 578.9,489 585.5,486.6 592,484.3 598.5,482 604.9,479.6 611.3,477.3 617.7,474.9 624,472.6 630.2,470.2 636.4,467.8 642.5,465.5 648.5,463.1 654.5,460.7 660.4,458.4 666.2,456 672,453.7 677.7,451.3 683.3,449 688.9,446.6 694.4,444.3 699.8,441.9 705.1,439.6 710.3,437.3 715.5,435 720.5,432.7 725.5,430.4 730.4,428.1 735.2,425.9 739.9,423.6 744.5,421.4 749,419.1 753.5,416.9 757.8,414.7 762,412.5 766.1,410.3 770.2,408.2 774.1,406.1 777.9,403.9 781.6,401.8 785.3,399.8 788.8,397.7 792.2,395.7 795.5,393.6 798.6,391.6 801.7,389.7 804.7,387.7 807.5,385.8 810.3,383.9 812.9,382 815.4,380.1 817.8,378.3 820,376.5 822.2,374.7 824.2,373 826.2,371.3 828,369.6 829.6,367.9 831.2,366.3 832.6,364.7 834,363.1 835.2,361.6 836.2,360.1 837.2,358.6 838,357.1 838.7,355.7 839.3,354.3 839.8,353 840.1,351.7 840.3,350.4 840.4,349.2 840.4,348 840.2,346.8M468.9,524.8 476,526.4 483.1,528 490.2,529.6 497.3,531.2 504.4,532.8 511.4,534.3 518.4,535.9 525.4,537.3 532.4,538.8 539.3,540.3 546.2,541.7 553.1,543.1 559.9,544.5 566.7,545.9 573.5,547.2 580.2,548.5 586.9,549.8 593.5,551.1 600.1,552.3 606.6,553.5 613.1,554.7 619.5,555.8 625.8,557 632.1,558.1 638.4,559.1 644.6,560.2 650.7,561.2 656.7,562.2 662.7,563.1 668.6,564 674.5,564.9 680.3,565.8 686,566.6 691.6,567.4 697.1,568.2 702.6,568.9 708,569.6 713.3,570.3 718.5,570.9 723.6,571.5 728.6,572.1 733.6,572.7 738.5,573.2 743.2,573.7 747.9,574.1 752.5,574.5 757,574.9 761.4,575.2 765.6,575.5 769.8,575.8 773.9,576.1 777.9,576.3 781.8,576.5 785.5,576.6 789.2,576.7 792.7,576.8 796.2,576.8 799.5,576.8 802.8,576.8 805.9,576.7 808.9,576.6 811.8,576.5 814.5,576.3 817.2,576.1 819.7,575.9 822.2,575.7 824.5,575.4 826.7,575 828.7,574.7 830.7,574.3 832.5,573.8 834.2,573.4 835.8,572.9 837.3,572.3 838.6,571.8 839.8,571.2 840.9,570.5 841.9,569.9 842.7,569.2 843.5,568.5 844.1,567.7 844.5,566.9 844.9,566.1M468.9,524.8 474.2,529.7 479.5,534.7 484.8,539.6 490,544.5 495.3,549.4 500.5,554.3 505.7,559.1 510.9,563.9 516,568.7 521.2,573.4 526.3,578.1 531.3,582.8 536.4,587.4 541.4,592 546.4,596.6 551.3,601.1 556.3,605.6 561.1,610 566,614.4 570.8,618.7 575.6,623 580.3,627.3 584.9,631.5 589.6,635.6 594.2,639.7 598.7,643.8 603.2,647.7 607.6,651.7 612,655.6 616.3,659.4 620.6,663.1 624.8,666.8 629,670.5 633.1,674 637.1,677.6 641.1,681 645,684.4 648.8,687.7 652.6,690.9 656.3,694.1 660,697.2 663.6,700.3 667.1,703.2 670.5,706.1 673.9,708.9 677.2,711.7 680.4,714.4 683.6,716.9 686.7,719.5 689.7,721.9 692.6,724.3 695.4,726.5 698.2,728.7 700.9,730.9 703.5,732.9 706,734.9 708.4,736.7 710.8,738.5 713.1,740.3 715.3,741.9 717.4,743.4 719.4,744.9 721.3,746.3 723.1,747.5 724.9,748.7 726.6,749.9 728.1,750.9 729.6,751.8 731,752.7 732.3,753.4 733.6,754.1 734.7,754.7 735.7,755.2 736.7,755.6 737.5,756 738.3,756.2 739,756.3 739.5,756.4 740,756.4 740.4,756.2 740.7,756M468.9,524.8 471,531.7 473,538.7 475,545.6 477,552.5 479,559.4 481,566.2 483,573 485,579.8 486.9,586.5 488.8,593.2 490.8,599.9 492.7,606.5 494.5,613.1 496.4,619.6 498.2,626.1 500.1,632.6 501.9,639 503.7,645.3 505.4,651.6 507.2,657.8 508.9,664 510.6,670.1 512.3,676.1 513.9,682.1 515.5,688 517.1,693.8 518.7,699.6 520.3,705.3 521.8,711 523.3,716.5 524.8,722 526.2,727.4 527.6,732.7 529,737.9 530.4,743.1 531.7,748.2 533,753.1 534.3,758 535.5,762.9 536.8,767.6 537.9,772.2 539.1,776.7 540.2,781.2 541.3,785.5 542.4,789.7 543.4,793.9 544.4,797.9 545.3,801.9 546.3,805.7 547.1,809.4 548,813.1 548.8,816.6 549.6,820 550.4,823.3 551.1,826.5 551.8,829.6 552.4,832.6 553,835.4 553.6,838.2 554.1,840.8 554.6,843.4 555.1,845.8 555.5,848.1 555.9,850.2 556.3,852.3 556.6,854.3 556.9,856.1 557.1,857.8 557.3,859.4 557.5,860.8 557.7,862.2 557.7,863.4 557.8,864.5 557.8,865.5 557.8,866.3 557.8,867.1 557.7,867.7 557.6,868.2 557.4,868.5 557.2,868.8M468.9,524.8 467.2,531.9 465.4,538.9 463.6,546 461.9,553 460.1,560 458.3,567 456.5,573.9 454.7,580.8 452.9,587.7 451.1,594.5 449.2,601.3 447.4,608 445.6,614.7 443.8,621.4 441.9,628 440.1,634.6 438.3,641.1 436.4,647.5 434.6,653.9 432.7,660.3 430.9,666.6 429.1,672.8 427.2,678.9 425.4,685 423.6,691.1 421.7,697 419.9,702.9 418.1,708.7 416.3,714.5 414.5,720.1 412.7,725.7 410.9,731.2 409.1,736.6 407.3,742 405.6,747.2 403.8,752.4 402.1,757.5 400.3,762.5 398.6,767.4 396.9,772.2 395.2,776.9 393.5,781.6 391.8,786.1 390.1,790.5 388.5,794.9 386.9,799.1 385.2,803.2 383.6,807.2 382,811.2 380.5,815 378.9,818.7 377.4,822.3 375.8,825.8 374.3,829.2 372.8,832.4 371.4,835.6 369.9,838.7 368.5,841.6 367.1,844.4 365.7,847.1 364.3,849.7 363,852.2 361.7,854.5 360.4,856.8 359.1,858.9 357.8,860.9 356.6,862.7 355.4,864.5 354.2,866.1 353,867.6 351.9,869 350.8,870.3 349.7,871.4 348.7,872.4 347.6,873.3 346.6,874.1 345.7,874.7 344.7,875.2 343.8,875.6 342.9,875.9 342,876.1 341.2,876.1 340.4,876" fill="none" stroke="#000" stroke-width="1" stroke-dasharray="1 3" shape-rendering="crispEdges"/>
<path d="M465.9,523.8v2h6v-2" fill="none" stroke="#000" stroke-width="1"/>
<path d="M446.2,353.6 442.4,356.4 437.7,355.5 431.1,356.1 427.3,358.3 423.6,361.2 420.7,363.6 416,364.9 412.2,365.9 409.4,364.4 405.6,364.9 402.8,364 399,363.1 396.2,364 394.3,366.8 393,369.7 391.4,373.4 389.6,375.3 385.8,375.3 382,376.3 378.2,377.2 374.4,378.2 371.6,376.3 368.8,375 369.2,379.1 365.9,380.1 363.1,381 361.2,383.8 358.4,381.9 355.6,380.6 353.7,382.9 352.7,385.7 350.8,387.6 351.4,390.4 354.6,393.3 355.6,395.2 353.7,398 352.7,400.8 349.9,402.7 347.1,405.6 345.2,409.3 342.3,410.3 340.4,409.3 337.6,411.2 335.7,415 334.8,418.8 333.8,422.6 331,423.5 328.7,424.4 329.1,427.3 332.9,428.2 335.7,429.2 336.7,432 335.7,435.8 335.7,439.6 335.7,443.3 338.6,446.2 339.5,450.9 338.6,455.6 336.7,456.6 331.9,456.9 328.2,459.4 324.4,461.3 321.2,460.3 319.7,464.1 316.8,469.8 314,474.5 312.1,479.2 310.2,483.9 308.3,487.7 304.6,490.6 300.8,493.4 297,496.2 296.1,500 296.1,500 297,505.1 298.9,508.9 302.7,510.8 304.6,514.6 306.4,520.2 308.3,524.9 310.2,529.7 314,535.3 317.8,540.1 322.5,542.9 324.4,545.7 321.6,548.6 319.7,552.3 317.8,555.2 321.6,558 324.4,563.7 329.1,565.6 331,569.3 333.8,573.1 336.7,576.9 338.6,582.6 339.5,588.2 340.4,592 341.4,597.7 342.3,601.4 347.1,603.3 350.8,607.1 354.6,610.9 359.3,614.7 364.1,620.3 368.8,626.9 374.4,629.8 380.1,632.6 385.8,635.4 391.4,637 397.1,636.4 400.9,634.5 408.4,633.9 416,634.5 419.8,631.7 423.6,627.9 426.4,626 427.3,621.3 431.1,620.3 433,622.2 433.9,626 433,627.9 436.8,624.1 440.6,620.3 444.3,617.5 447.2,614.7 450,613.7 450,613.7 455.1,610.9 458.9,609.9 464.6,610.9 470.2,609.4 474.9,610.9 479.7,614.7 485.3,617.5 491,620.3 496.7,623.2 500.4,625.1 503.3,628.8 504.2,635.7 506.1,641.3 508.9,648.9 510.8,656.4 512.7,660.2 511.8,667.8 514.6,671.6 515.6,677.2 516.5,682.9 515.6,688.6 514.6,692.3 511.8,696.1 508,698.9 505.2,700.8 507.1,701.8 511.8,699.9 517.4,696.1 523.1,690.4 526.9,686.7 529.7,684.8 530.7,681 530.7,675.3 532.6,669.7 531.6,664 529.7,658.3 530.7,652.7 528.8,648.9 525.9,645.1 523.1,641.3 522.7,635.7 525,631.9 527.8,630 527.8,630 532.6,628.8 538.2,627.9 540.1,626 542,622.2 540.1,618.4 539.2,615.6 541.1,612.8 544.8,610.9 549.6,609 555.2,607.1 560.9,603.3 565.6,600.5 570.3,597.7 574.1,593.9 576.9,590.1 577.9,586.3 576,583.5 570.3,582.6 565.6,578.8 561.8,576.9 562.8,573.1 565.6,569.3 568.4,566.5 573.2,563.7 576,558 578.8,554.2 579.8,550.4 582.6,546.7 584.5,542.9 583.6,540.1 586.4,538.2 588.3,535.3 585.4,534.4 582.6,531.6 581.7,525.9 580.7,520.2 577.9,514.6 573.2,508.9 572.2,504.2 568.4,498.5 562.8,495.7 557.1,493.8 554.3,489.6 553.3,485.8 551.4,483 547.7,481.1 542.9,480.2 538.2,475.4 534.4,470.7 530.7,466 526.9,460.3 525,454.7 521.2,450.9 516.5,447.1 515.6,444.3 514.6,446.2 510.8,445.2 509.9,441.4 510.8,437.7 511.8,432.9 514.6,430.1 516.5,428.2 519.3,426.3 523.1,423.5 525.9,420.7 528.8,420.7 532.6,418.8 538.2,415.9 539.2,413.1 542,410.3 540.1,407.4 538.2,404.6 537.3,400.8 534.4,397.1 530.7,394.2 526.9,390.4 524.1,386.7 522.2,382.9 519.3,380.1 515.6,376.3 511.8,374.4 508,372.5 502.3,369.7 498.6,366.8 496.7,364.9 492.9,362.1 491,359.3 485.3,357.4 477.8,355.5 470.2,353.6 464.6,352.3 462.3,348.9 461.7,345.1 460.4,343.2 458.9,345.1 459.8,348.9 457,350.8 451.3,351.7 446.6,353.6 446.2,353.6M680,808 674,812 668,816 664,818 656,822 648,826 640,829 632,832 626,833 624,828 623,820 624,812 622,808 620,800 621,792 624,786 623,784 620,780 618,776 614,774 611,772 612,768 610,764 609,758 612,754 611,750 607,750 609,746 608,740 604,736 600,730 600,732 594,728 586,725.6 576,724.4 566,726 560,730 554,736 561,738 566,740 572,744 576,748 578,753 574,756 572,760 570,764 574,768 578,770 579,773 576,776 572,780 570,784 572,788 573,793 568,796 566,800 563,804 562,808 558,809 552,810 546,812 540,816 536,820 534,826 540,829 545,830 540,832 532,833 526,834 520,836 518.7,836.7 510.7,842 508,844.7 502.7,847.3 497.3,852 490.7,856.7 486,859.3 485.3,864 478.7,867.3 473.3,869.3 465.3,870.7 457.3,872 449.3,872.7 441.3,872.7 436,873.3 430.7,875.3 424,877.3 418.7,878.7 413.3,882 410.7,884 404,884.7 396,884.4 388,883.3 380,882.7 400,883.6 378,881.8M573,732 578,728 584,729 586,733 580,736 575,736 573,732M15,456 15.6,470 16,484 17,498 19,510 22,522 25,530 28,532 32,526 36,527 42,528 45,534 48,542 51,552 56,560 60,568 63,571 68,568 74,568 78,574 81,581 84,587 89,586 94,588 98,592 104,596 112,602 120,610 120,612 126,619 128,624 131,630 134,633 135,638 138,643 142,647 145,652 148,658 149,664 146,666 145,669 141,670 138,674 136,678 134,684 133,689 129,692 125,695 121,697 119,702 119,710 117,715 112,714 108,713 104,710 100,706M33,463 41,459.6 43,464 50,472 56,480 64,486 70,493 71,502 72,508 69,513 62,515.6 58,512 52,507 48,506 43,503 41.6,496 41,488 40,480 36,472 33,466 33,463M330,112.5 321.7,116.7 317.5,119.6 312.5,121.7 308.3,124.2 306.7,126.7 303.3,129.2 300.8,131.7 298.3,132.5 297.1,134.2 297.5,136.7 299.2,138.3 297.9,140 297.5,141.7 300,144.2 303.3,145.8 305.8,147.5 304.2,149.2 301.7,148.3 302.5,150 305.8,151.7 309.2,154.2 311.7,155.8 316.7,157.5 317.5,160M300,128.5 307.5,124 315,119.5 324,115 330,112 337.5,107.5 343.5,103 346.5,99.2 348,95.5 351.7,96.2 355.5,94 357,91 363,88 369,83.5 373.5,81.2 379.5,81.2 385.5,82.7 390,81.2 394.5,80.5 393.7,78.2 397.5,76 402,73 405,71.5 411,70 417,70 423,70.7 430.5,70.7 436.5,70.7 441,71.5 439.5,73.7 438,76 436.5,78.2 441,79.7 450,81.2 457.5,83.5 465,85.7 469.5,87.2 475.5,85.7 479.2,82 480,76M479,72 483,69 488,71 492,76 494,79 502,80 506,83 509,88 512,93 516,96 524,99 530,104 535,109 538,111 542,114 546,118 552,123 556,128 558,136 559,142 557,149 553,155 548,159 543,161 539,165 535,170 533,174 532,179 526,178.4 520,178 515,180 511,183 508,181 504,177 500,178 496,179 492,178 486,176 480,174 476,171M480,173.5 477,172 474,169 472.5,166 471,163 468,161.5 465,160.7 460.5,161.5 457.5,163.7 454.5,163 456.7,159.2 459,157.7 459.7,155.5 461.2,151.7 460.5,148 457.5,150.2 453,154 448.5,157.7 444,152.5 441,149.5 438,146.5 430.5,145 423,143.8 415.5,143.5 408,144.2 402,146.5 396,149.5 390,151 384,154 378,157 377.2,160 375,161.5 367.5,163.7 360,166 355.5,167.5 349.5,173.5 345,177.2 337.5,180.2 330,179.5 326.2,177.2 328.5,173.5 327.7,169 326.2,166 321,163 318,160 315,157 309,154 304.5,148 300,143.5M502,190 508,192 514,194 521,194.4 521.6,200 519,205 517,204 513,208 508,206 505,202 503,196 502,190M604.6,254.1 614,251.3 627.2,250.3 634.8,249.4 638.6,246.6 644.2,245.6 646.1,249.4 648.9,252.2 650.8,254.1 648,256.9 640.4,258.8 636.7,260.7 631,259.8 625.3,262.6 619.7,265.4 614,265.4 610.2,261.7 608.3,264.5 609.3,259.8 606.4,256.9 604.6,254.1M658.4,219.2 661.2,225.8 663.1,231.4 662.2,237.1 665.9,239 666.9,244.7 672.6,248.4 677.3,251.3 676.3,255.1 672.6,256.4 666.9,255.1 663.1,257.9 657.4,259.4 652.7,257.9 654.6,254.1 652.7,250.3 652.7,244.7 657.4,242.8 661.2,239 660.3,233.3 659.3,227.7 658.4,219.2M431.3,753 432.3,752 434,753.3 436,755.3 438,757 440.3,758.3 438.7,758.3 436.7,757 434.3,756 432.3,755.3 431.3,754M527.6,631.1 532.9,628.4 537.3,630.2 538.2,638.2 536.4,647.1 534.7,652.4 531.1,648.9 529.3,641.8 527.6,636.4 527.6,631.1M525.8,633.8 529.3,634.7 531.1,640 532.9,645.3M514.6,706.5 519.3,703.7 524.1,700.8M472.1,722.6 474.9,721.6 476.8,723.5M527.8,760.3 532.6,756.6 538.2,755.6 542,756.2 540.1,760.3 534.4,762.2 527.8,760.3M460,51 472,52.4 486,54.4 500,57 512,61 524,63 540,66 556,69M460,61 472,63 486,63.6 496,62.4 506,64 516,67 526,71 536,74 541,76M568,75 580,80 586,83M596,88 608,96 619,104M628.2,136.1 636.7,143.6 645.2,153.1 643.3,152.1 634.8,144.6 628.2,136.1M647.1,129.4 650.8,133.2 652.7,137M705.6,177.6 712.2,182.3 720.7,187.1 716,186.1 708.4,181.4 705.6,177.6M240,97.5 250,93.8 256.2,86.9 268.8,79.4 281.2,73.1 291.2,68.8 300,67.5M240,97.5 252.5,96.9 262.5,90 275,86.2 285,83.1 291.2,77.5 300,71.2M164.2,145 168.3,141.7 172.5,138.3 176.7,135.8 181.7,133.3 187.5,132.5 193.3,130.8 200,128.3 206.7,125.8 213.3,123.3 218.3,121.7 223.3,119.6 228.3,117.5 235,115.4 241.7,112.5 248.3,110 253.3,107.5 260,104.2M166.7,141.7 176.7,134.2 185,127.5 195,121.7 203.3,118.3 206.7,119.2 213.3,115.8 218.3,114.2 223.3,112.1 227.5,110M168.3,138.3 175,133.3 180,129.2 185,125.8 190,122.9 195.8,119.2 201.7,116.2 206.7,115 210,114.2M225,118.3 231.7,115.8 236.7,113.3 241.7,110.8 246.7,108.3 251.7,105.8 256.7,102.5 260,100 275,93.3 291.7,88.3 308.3,84.2 325,80 350,73.3M225,116.7 230.8,114.2 236.7,111.7 243.3,108.3 248.3,105.8 253.3,103.3 258.3,100.8 260,100.4M210.8,108.3 215,106.2 218.3,103.8 221.7,102.1M234.2,105.8 238.3,103.8M300,67 315,64 330,60.2 342,58 352.5,55 367.5,52 382.5,49 397.5,49 412.5,49 427.5,49.3 442.5,49.7 457.5,52 480,53.5M325.5,58.7 342,55.7 357,52M346.5,76.7 357,73 372,67.7M396,72.2 405,70.7 414,69.2M447,61 453,59.5 457.5,58M445.5,53.5 465,59.5 480,64M100,710.7 96.7,707.3 95,703.3 97.3,705M60,430 61.7,433.3M207.8,406.5 210.3,409 212.7,405.6M82.4,236 85.6,232.4 89.1,227.1 91.3,223.6M73.1,250.2 75.8,247.6 76.7,246.2" fill="none" stroke="#000" stroke-width="1.1" stroke-linejoin="round"/>
<path d="M291.9,450.2 292.3,447.5 292.8,444.8 293.5,442.1 294.2,439.5 295.1,436.8 296,434.2 297.1,431.6 298.2,429.1 299.4,426.6 300.7,424 302.1,421.6 303.5,419.1 305.1,416.7 306.7,414.3 308.4,411.9 310.1,409.6 311.9,407.3 313.8,405.1 315.7,402.8 317.6,400.6 319.7,398.5 321.7,396.3 323.8,394.3 326,392.2 328.2,390.2 330.4,388.2 332.7,386.3 334.9,384.4 337.2,382.6 339.6,380.7 341.9,379 344.3,377.3 346.6,375.6 349,374 351.4,372.4 353.8,370.8 356.3,369.3 358.7,367.9 361.2,366.5 363.7,365.1 366.2,363.8 368.7,362.6 371.2,361.4 373.8,360.2 376.3,359.1 378.9,358 381.5,357 384.2,356.1 386.8,355.2 389.5,354.3 392.2,353.5 394.9,352.8 397.6,352.1 400.4,351.5 403.1,350.9 405.9,350.4 408.8,349.9 411.6,349.5 414.5,349.1 417.4,348.8 420.3,348.6 423.2,348.4 426.1,348.3 429.1,348.2 432,348.2 435,348.3 437.9,348.4 440.9,348.6 443.8,348.9 446.7,349.2 449.7,349.6 452.6,350 455.5,350.5 458.3,351.1 461.2,351.8 464,352.5 466.8,353.3 469.6,354.2 472.3,355.1 475,356.1 477.6,357.2 480.3,358.3 482.8,359.6 485.4,360.9 487.8,362.2 490.2,363.7 492.6,365.2 494.9,366.9 497.2,368.5 499.3,370.3 501.5,372.2 503.5,374.1 505.5,376.1 507.4,378.2 509.2,380.3 511,382.5 512.7,384.8 514.3,387.1 515.8,389.5 517.3,391.9 518.6,394.4 519.9,396.9 521.1,399.5 522.2,402.1 523.3,404.7 524.3,407.4 525.2,410.2 526,412.9 526.8,415.7 527.5,418.5 528.2,421.3 528.8,424.2 529.4,427 530,429.9 530.5,432.8 531,435.7 531.5,438.6 531.9,441.5 532.3,444.5 532.7,447.4 533,450.3 533.3,453.2 533.6,456.1 533.8,459 534,462 534.1,464.8 534.1,467.7 534.1,470.6 534.1,473.5 533.9,476.3 533.7,479.2 533.4,482 533.1,484.8 532.6,487.5 532.1,490.3 531.5,493 530.8,495.7 530,498.4 529.1,501.1 528.2,503.7 527.1,506.3 526,508.9 524.8,511.4 523.6,513.9 522.3,516.4 520.9,518.8 519.4,521.3 517.9,523.7 516.2,526 514.6,528.3 512.8,530.6 511,532.9 509.2,535.1 507.3,537.2 505.3,539.4 503.3,541.4 501.2,543.5 499.1,545.5 496.9,547.4 494.7,549.3 492.4,551.2 490.1,553 487.8,554.8 485.4,556.5 482.9,558.1 480.5,559.7 478,561.3 475.4,562.8 472.9,564.2 470.3,565.6 467.6,566.9 465,568.1 462.3,569.3 459.6,570.5 456.9,571.5 454.2,572.5 451.4,573.5 448.6,574.3 445.9,575.1 443.1,575.8 440.3,576.5 437.4,577.1 434.6,577.6 431.8,578 429,578.3 426.2,578.6 423.3,578.8 420.5,579 417.7,579.1 414.8,579.1 412,579 409.2,578.9 406.4,578.7 403.6,578.4 400.8,578 398,577.6 395.2,577.2 392.4,576.6 389.7,576 386.9,575.3 384.2,574.6 381.5,573.8 378.8,573 376.1,572 373.4,571.1 370.8,570 368.2,568.9 365.6,567.7 363,566.5 360.5,565.2 358,563.9 355.5,562.5 353.1,561 350.6,559.5 348.2,557.9 345.9,556.3 343.6,554.6 341.3,552.9 339,551.1 336.8,549.3 334.6,547.4 332.5,545.4 330.4,543.4 328.3,541.4 326.3,539.3 324.4,537.1 322.4,534.9 320.6,532.7 318.7,530.4 317,528.1 315.2,525.7 313.5,523.3 311.9,520.9 310.3,518.4 308.8,515.9 307.3,513.4 305.9,510.8 304.5,508.2 303.2,505.6 301.9,502.9 300.7,500.2 299.5,497.5 298.4,494.8 297.4,492.1 296.5,489.3 295.6,486.5 294.8,483.7 294,480.9 293.4,478.1 292.8,475.3 292.3,472.5 291.9,469.7 291.6,466.9 291.4,464.1 291.3,461.3 291.3,458.5 291.4,455.7 291.6,453 291.9,450.2 291.9,450.2M257.9,448.8 258.2,445.3 258.6,441.9 259,438.4 259.6,434.9 260.2,431.5 260.9,428.1 261.7,424.6 262.6,421.2 263.5,417.8 264.5,414.5 265.6,411.1 266.8,407.8 268.1,404.5 269.4,401.2 270.8,398 272.2,394.8 273.8,391.6 275.4,388.4 277,385.3 278.8,382.3 280.6,379.2 282.4,376.3 284.4,373.3 286.4,370.4 288.4,367.6 290.5,364.7 292.7,362 295,359.3 297.3,356.7 299.6,354.1 302,351.5 304.5,349.1 307,346.7 309.6,344.3 312.3,342.1 315,339.9 317.7,337.8 320.6,335.8 323.4,333.9 326.4,332.1 329.4,330.4 332.4,328.7 335.5,327.2 338.7,325.8 341.9,324.5 345.1,323.3 348.5,322.2 351.8,321.3 355.2,320.4 358.7,319.7 362.1,319 365.6,318.5 369.2,318 372.7,317.7 376.2,317.4 379.8,317.2 383.3,317 386.9,317 390.4,317 394,317.1 397.5,317.3 400.9,317.5 404.4,317.8 407.9,318.1 411.3,318.5 414.7,319 418.2,319.6 421.6,320.2 425,320.8 428.3,321.5 431.7,322.3 435.1,323.1 438.4,324 441.8,324.9 445.1,325.9 448.4,326.9 451.8,328 455.1,329.2 458.4,330.3 461.7,331.6 465,332.8 468.3,334.2 471.6,335.5 474.9,337 478.2,338.5 481.4,340 484.6,341.6 487.7,343.3 490.8,345 493.8,346.9 496.8,348.7 499.7,350.7 502.5,352.7 505.3,354.9 507.9,357.1 510.5,359.4 512.9,361.8 515.3,364.2 517.6,366.8 519.8,369.4 521.9,372.1 523.9,374.9 525.8,377.7 527.7,380.6 529.4,383.6 531.1,386.6 532.7,389.7 534.2,392.8 535.6,396 537,399.2 538.3,402.5 539.5,405.8 540.6,409.2 541.6,412.6 542.6,416 543.5,419.4 544.3,422.9 545.1,426.4 545.8,429.9 546.4,433.4 546.9,436.9 547.3,440.5 547.7,444 548,447.5 548.2,451.1 548.3,454.6 548.4,458.2 548.3,461.7 548.2,465.2 548,468.7 547.7,472.2 547.4,475.7 546.9,479.1 546.4,482.6 545.8,486 545.1,489.4 544.3,492.7 543.5,496.1 542.5,499.4 541.5,502.6 540.3,505.9 539.1,509.1 537.8,512.3 536.4,515.4 535,518.5 533.4,521.5 531.7,524.5 530,527.4 528.2,530.3 526.2,533.2 524.2,535.9 522.1,538.7 519.9,541.3 517.6,544 515.2,546.5 512.7,549 510.1,551.4 507.5,553.8 504.7,556.1 501.9,558.3 499.1,560.5 496.2,562.7 493.3,564.8 490.4,566.9 487.5,569 484.6,571 481.7,573.1 478.8,575.1 475.9,577.1 473,579.1 470.2,581 467.2,582.9 464.3,584.7 461.3,586.4 458.3,588.1 455.2,589.7 452.1,591.3 448.9,592.7 445.6,594.1 442.3,595.4 439,596.6 435.6,597.7 432.2,598.7 428.8,599.6 425.3,600.4 421.8,601.2 418.3,601.8 414.9,602.3 411.4,602.7 407.9,603 404.4,603.2 400.9,603.3 397.4,603.3 393.9,603.2 390.5,602.9 387.1,602.6 383.7,602.1 380.3,601.6 376.9,601 373.6,600.2 370.2,599.4 366.9,598.5 363.7,597.4 360.4,596.3 357.2,595.1 354,593.8 350.8,592.5 347.6,591 344.5,589.5 341.4,587.9 338.4,586.2 335.3,584.5 332.3,582.7 329.4,580.8 326.5,578.8 323.6,576.8 320.7,574.7 317.9,572.5 315.2,570.3 312.4,568.1 309.7,565.8 307.1,563.4 304.5,561 301.9,558.5 299.4,556 297,553.4 294.5,550.8 292.2,548.1 289.9,545.4 287.6,542.7 285.5,539.9 283.3,537.1 281.3,534.2 279.3,531.3 277.4,528.3 275.6,525.3 273.8,522.3 272.1,519.3 270.6,516.2 269,513 267.6,509.9 266.3,506.7 265.1,503.4 263.9,500.2 262.9,496.9 261.9,493.5 261.1,490.2 260.3,486.8 259.6,483.4 259.1,480 258.6,476.6 258.2,473.1 257.9,469.7 257.7,466.2 257.5,462.7 257.5,459.3 257.5,455.8 257.7,452.3 257.9,448.8 257.9,448.8" fill="none" stroke="#00ff00" stroke-width="2.2"/>
<path d="M311.2,79.1 314,82.1 316.7,85.1 319.2,88.3 321.6,91.5 323.9,94.8 326.1,98.2 328.2,101.6 330.2,105.1 332.1,108.6 334,112.2 335.9,115.7 337.7,119.3 339.5,123 341.2,126.6 343,130.2 344.7,133.8 346.5,137.5 348.2,141.1 349.9,144.7 351.7,148.4 353.4,152 355.1,155.7 356.8,159.3 358.5,163 360.2,166.6 361.9,170.3 363.5,174 365.2,177.6 366.9,181.3 368.5,185 370.2,188.6 371.8,192.3 373.5,196 375.1,199.7 376.7,203.3 378.3,207 380,210.7 381.6,214.4 383.2,218.1 384.8,221.8 386.4,225.5 388,229.2 389.6,232.9 391.2,236.6 392.7,240.3 394.3,244 395.9,247.7 397.5,251.4 399,255.1 400.6,258.9 402.2,262.6 403.7,266.3 405.3,270 406.8,273.7 408.4,277.4 409.9,281.2 411.4,284.9 413,288.6 414.5,292.3 416,296.1 417.6,299.8 419.1,303.5 420.6,307.3 422.1,311 423.6,314.7 425.1,318.5 426.6,322.2 428.1,325.9 429.6,329.7 431.1,333.4 432.6,337.2 434.1,340.9 435.6,344.7 437.1,348.4 438.5,352.1 440,355.9 441.5,359.7 442.9,363.4 444.4,367.2 445.8,370.9 447.3,374.7 448.7,378.4 450.2,382.2 451.6,386 453,389.7 454.5,393.5 455.9,397.3 457.3,401 458.7,404.8 460.2,408.6 461.6,412.4 463,416.1 464.4,419.9 465.8,423.7 467.2,427.5 468.5,431.2 469.9,435 471.3,438.8 472.7,442.6 474,446.4 475.4,450.2 476.8,454 478.1,457.8 479.5,461.6 480.8,465.4 482.2,469.2 483.5,473 484.9,476.8 486.2,480.6 487.5,484.4 488.8,488.2 490.1,492 491.5,495.8 492.8,499.6 494.1,503.4 495.4,507.2 496.7,511 497.9,514.9 499.2,518.7 500.5,522.5 501.8,526.3 503,530.1 504.3,534 505.6,537.8 506.8,541.6 508.1,545.5 509.3,549.3 510.6,553.1 511.8,557 513,560.8 514.2,564.6 515.5,568.5 516.7,572.3 517.9,576.2 519.1,580 520.3,583.9 521.5,587.7 522.7,591.6 523.9,595.4 525,599.3 526.2,603.1 527.4,607 528.5,610.8 529.7,614.7 530.9,618.6 532,622.4 533.1,626.3 534.3,630.2 535.4,634 536.5,637.9 537.7,641.8 538.8,645.6 539.9,649.5 541,653.4 542.1,657.3 543.2,661.2 544.3,665 545.3,668.9 546.4,672.8 547.4,676.7 548.5,680.6 549.5,684.5 550.5,688.4 551.5,692.3 552.5,696.2 553.5,700.1 554.4,704 555.4,708 556.3,711.9 557.2,715.8 558,719.7 558.9,723.7 559.7,727.6 560.5,731.5 561.3,735.5 562,739.4 562.7,743.4 563.4,747.3 564.1,751.3 564.7,755.3 565.3,759.2 565.9,763.2 566.4,767.2 566.9,771.2 567.4,775.2 567.8,779.2 568.2,783.2 568.6,787.2 568.9,791.3 569.2,795.3 569.4,799.3 569.6,803.4 569.8,807.4 569.9,811.5 569.9,815.5 570,819.6 569.9,823.7 569.9,827.8 569.7,831.9 569.5,835.9 569.1,839.9 568.5,843.8 567.6,847.6 566.5,851.2 564.9,854.7 563,857.9 560.7,860.9 557.8,863.6 554.5,866 550.7,868.1 546.3,869.7 541.5,870.9" fill="none" stroke="#ff5030" stroke-width="2.2" stroke-linejoin="round"/>
<path d="M310.7,72 311.6,75.6 313.4,78.9 315.6,82 317.8,85.3 320.1,88.5 322.4,91.8 324.8,95.1 327.1,98.4 329.4,101.7 331.6,105.1 333.8,108.5 336,111.9 338.1,115.3 340.1,118.8 342.2,122.3 344.2,125.8 346.1,129.3 348.1,132.8 349.9,136.4 351.8,139.9 353.6,143.5 355.5,147.1 357.2,150.7 359,154.4 360.7,158 362.4,161.6 364.1,165.3 365.8,168.9 367.5,172.6 369.2,176.3 370.8,179.9 372.4,183.6 374.1,187.3 375.7,191 377.3,194.7 378.9,198.4 380.5,202 382.1,205.7 383.7,209.4 385.3,213.1 386.9,216.8 388.5,220.5 390.1,224.2 391.6,227.9 393.2,231.6 394.8,235.3 396.3,239 397.9,242.7 399.5,246.4 401,250.1 402.6,253.9 404.1,257.6 405.6,261.3 407.2,265 408.7,268.7 410.2,272.4 411.7,276.1 413.3,279.9 414.8,283.6 416.3,287.3 417.8,291 419.3,294.8 420.8,298.5 422.3,302.2 423.8,305.9 425.3,309.7 426.8,313.4 428.2,317.2 429.7,320.9 431.2,324.6 432.7,328.4 434.1,332.1 435.6,335.8 437.1,339.6 438.5,343.3 440,347.1 441.4,350.8 442.9,354.6 444.3,358.3 445.8,362.1 447.2,365.8 448.6,369.6 450.1,373.3 451.5,377.1 452.9,380.9 454.4,384.6 455.8,388.4 457.2,392.1 458.6,395.9 460,399.7 461.4,403.4 462.9,407.2 464.3,411 465.7,414.8 467.1,418.5 468.5,422.3 469.9,426.1 471.2,429.8 472.6,433.6 474,437.4 475.4,441.2 476.8,445 478.2,448.7 479.6,452.5 480.9,456.3 482.3,460.1 483.7,463.9 485,467.7 486.4,471.5 487.7,475.3 489.1,479.1 490.4,482.9 491.8,486.7 493.1,490.5 494.5,494.3 495.8,498.1 497.1,501.9 498.4,505.7 499.7,509.5 501,513.3 502.3,517.1 503.6,520.9 504.9,524.7 506.2,528.6 507.5,532.4 508.8,536.2 510,540 511.3,543.8 512.5,547.7 513.8,551.5 515,555.3 516.2,559.2 517.5,563 518.7,566.8 519.9,570.7 521.1,574.5 522.3,578.4 523.5,582.2 524.6,586.1 525.8,589.9 527,593.8 528.1,597.6 529.3,601.5 530.4,605.3 531.5,609.2 532.6,613.1 533.7,616.9 534.8,620.8 535.9,624.7 537,628.5 538,632.4 539.1,636.3 540.1,640.2 541.2,644.1 542.2,647.9 543.2,651.8 544.2,655.7 545.2,659.6 546.2,663.5 547.1,667.4 548.1,671.3 549,675.2 549.9,679.1 550.9,683 551.8,687 552.7,690.9 553.5,694.8 554.4,698.7 555.3,702.6 556.1,706.6 556.9,710.5 557.8,714.4 558.6,718.4 559.4,722.3 560.1,726.3 560.9,730.2 561.6,734.1 562.4,738.1 562.8,742" fill="none" stroke="#0000ff" stroke-width="2.2" stroke-linejoin="round"/>
<path d="M562.8,742 563.1,742.1 563.7,746 564.4,750 565,753.9 565.7,757.9 566.2,761.9 566.8,765.9 567.3,769.9 567.8,773.8 568.3,777.8 568.8,781.8 569.2,785.8 569.5,789.9 569.9,793.9 570.2,797.9 570.4,801.9 570.6,805.9 570.8,810 570.9,814 571,818" fill="none" stroke="#0000ff" stroke-width="2" stroke-dasharray="4 4"/>
<path d="M305.8,77.3h11M311.3,72.8v9M325.2,103.3h11M330.7,98.8v9M359.5,169.5h11M365,165v9M402.5,267.5h11M408,263v9M449.5,385.3h11M455,380.8v9M494.9,512.3h11M500.4,507.8v9M531.8,634.5h11M537.3,630v9M557,739.6h11M562.5,735.1v9M565.8,818.4h11M571.3,813.9v9" stroke="#0000ff" stroke-width="1.3" fill="none"/>
<path d="M305.8,79h11M311.3,73.5v11M327.2,112.3h11M332.7,106.8v11M363.2,184.7h11M368.7,179.2v11M407,286.5h11M412.5,281v11M453.4,407.4h11M458.9,401.9v11M499.7,534.4h11M505.2,528.9v11M536.5,652.5h11M542,647v11M558.5,754h11M564,748.5v11M564.9,827.4h11M570.4,821.9v11M550.7,864h11M556.2,858.5v11" stroke="#ff5030" stroke-width="1.3" fill="none"/>
<path d="M332,106.5L338,120.3H326Z" fill="none" stroke="#ff5030" stroke-width="1.3"/>
<path d="M571.3,810.8L578.6,818.4L571.3,826.2L564,818.4Z" fill="none" stroke="#0000ff" stroke-width="1.8"/>
<path d="M553.6,848.4L569.6,848.4M555.9,842.7L567.3,854.1M561.6,840.4L561.6,856.4M567.3,842.7L555.9,854.1" stroke="#0000ff" stroke-width="1.8" fill="none"/>
<rect x="6.5" y="35.5" width="858" height="860" fill="none" stroke="#000" stroke-width="1"/>
<path d="M864.5,37.5H1200M864.5,323.5H1200M864.5,609.5H1200M864.5,895.5H1200" stroke="#000" stroke-width="1" fill="none"/>
<path d="M1041.5,37V895" stroke="#000" stroke-width="1" stroke-dasharray="1 3" shape-rendering="crispEdges"/>
<path d="M901.5,177.5H1182.5" stroke="#000" stroke-width="1" stroke-dasharray="1 3" shape-rendering="crispEdges"/>
<circle cx="1041.5" cy="177.3" r="70.2" fill="none" stroke="#000" stroke-width="1.1"/>
<path d="M1005,177.5H1078M1041.5,141V214" stroke="#000" stroke-width="1" shape-rendering="crispEdges"/>
<path d="M1048.3,252.5 1048.5,252.4 1048.7,252.4 1048.9,252.4 1049.1,252.3 1049.3,252.3 1049.5,252.2 1049.7,252.2 1049.9,252.1 1050.2,252.0 1050.4,251.9 1050.6,251.9 1050.8,251.8 1051.0,251.7 1051.2,251.6 1051.4,251.5 1051.6,251.4 1051.8,251.2 1052.0,251.1 1052.2,251.0 1052.4,250.9 1052.6,250.7 1052.8,250.6 1053.0,250.4 1053.2,250.3 1053.3,250.1 1053.5,249.9 1053.7,249.8 1053.9,249.6 1054.1,249.4 1054.3,249.2 1054.5,249.0 1054.7,248.8 1054.9,248.6 1055.0,248.4 1055.2,248.2 1055.4,248.0 1055.6,247.7 1055.8,247.5 1056.0,247.3 1056.1,247.0 1056.3,246.8 1056.5,246.5 1056.7,246.3 1056.8,246.0 1057.0,245.7 1057.2,245.5 1057.3,245.2 1057.5,244.9 1057.7,244.6 1057.9,244.3 1058.0,244.0 1058.2,243.7 1058.3,243.4 1058.5,243.1 1058.7,242.8 1058.8,242.4 1059.0,242.1 1059.1,241.8 1059.3,241.4 1059.4,241.1 1059.6,240.7 1059.8,240.4 1059.9,240.0 1060.1,239.6 1060.2,239.3 1060.3,238.9 1060.5,238.5 1060.6,238.1 1060.8,237.8 1060.9,237.4 1061.0,237.0 1061.2,236.6 1061.3,236.2 1061.5,235.7 1061.6,235.3 1061.7,234.9 1061.8,234.5 1062.0,234.1 1062.1,233.6 1062.2,233.2 1062.3,232.7 1062.5,232.3 1062.6,231.9 1062.7,231.4 1062.8,230.9 1062.9,230.5 1063.0,230.0 1063.2,229.5 1063.3,229.1 1063.4,228.6 1063.5,228.1 1063.6,227.6 1063.7,227.1 1063.8,226.6 1063.9,226.1 1064.0,225.6 1064.1,225.1 1064.2,224.6 1064.3,224.1 1064.4,223.6 1064.5,223.1 1064.5,222.6 1064.6,222.0 1064.7,221.5 1064.8,221.0 1064.9,220.4 1065.0,219.9 1065.0,219.4 1065.1,218.8 1065.2,218.3 1065.3,217.7 1065.3,217.2 1065.4,216.6 1065.5,216.0 1065.5,215.5 1065.6,214.9 1065.6,214.3 1065.7,213.8 1065.8,213.2 1065.8,212.6 1065.9,212.0 1065.9,211.4 1066.0,210.9 1066.0,210.3 1066.1,209.7 1066.1,209.1 1066.1,208.5 1066.2,207.9 1066.2,207.3 1066.3,206.7 1066.3,206.1 1066.3,205.5 1066.4,204.9 1066.4,204.3 1066.4,203.6 1066.4,203.0 1066.5,202.4 1066.5,201.8 1066.5,201.2 1066.5,200.5 1066.5,199.9 1066.6,199.3 1066.6,198.7 1066.6,198.0 1066.6,197.4 1066.6,196.8 1066.6,196.1 1066.6,195.5 1066.6,194.9 1066.6,194.2 1066.6,193.6 1066.6,192.9 1066.6,192.3 1066.6,191.6 1066.6,191.0 1066.5,190.4 1066.5,189.7 1066.5,189.1 1066.5,188.4 1066.5,187.8 1066.5,187.1 1066.4,186.5 1066.4,185.8 1066.4,185.2 1066.3,184.5 1066.3,183.9 1066.3,183.2 1066.2,182.5 1066.2,181.9 1066.2,181.2 1066.1,180.6 1066.1,179.9 1066.0,179.3 1066.0,178.6 1065.9,178.0 1065.9,177.3 1065.8,176.6 1065.8,176.0 1065.7,175.3 1065.7,174.7 1065.6,174.0 1065.5,173.4 1065.5,172.7 1065.4,172.1 1065.3,171.4 1065.3,170.7 1065.2,170.1 1065.1,169.4 1065.1,168.8 1065.0,168.1 1064.9,167.5 1064.8,166.8 1064.7,166.2 1064.7,165.5 1064.6,164.9 1064.5,164.2 1064.4,163.6 1064.3,163.0 1064.2,162.3 1064.1,161.7 1064.0,161.0 1063.9,160.4 1063.8,159.7 1063.7,159.1 1063.6,158.5 1063.5,157.8 1063.4,157.2 1063.3,156.6 1063.2,155.9 1063.1,155.3 1063.0,154.7 1062.9,154.1 1062.7,153.4 1062.6,152.8 1062.5,152.2 1062.4,151.6 1062.3,151.0 1062.1,150.3 1062.0,149.7 1061.9,149.1 1061.8,148.5 1061.6,147.9 1061.5,147.3 1061.4,146.7 1061.2,146.1 1061.1,145.5 1061.0,144.9 1060.8,144.3 1060.7,143.7 1060.5,143.2 1060.4,142.6 1060.2,142.0 1060.1,141.4 1060.0,140.8 1059.8,140.3 1059.7,139.7 1059.5,139.1 1059.3,138.6 1059.2,138.0 1059.0,137.4 1058.9,136.9 1058.7,136.3 1058.6,135.8 1058.4,135.2 1058.2,134.7 1058.1,134.2 1057.9,133.6 1057.7,133.1 1057.6,132.6 1057.4,132.0 1057.2,131.5 1057.1,131.0 1056.9,130.5 1056.7,130.0 1056.5,129.5 1056.4,129.0 1056.2,128.5 1056.0,128.0 1055.8,127.5 1055.7,127.0 1055.5,126.5 1055.3,126.0 1055.1,125.5 1054.9,125.1 1054.7,124.6 1054.6,124.1 1054.4,123.7 1054.2,123.2 1054.0,122.7 1053.8,122.3 1053.6,121.9 1053.4,121.4 1053.2,121.0 1053.0,120.5 1052.8,120.1 1052.6,119.7 1052.4,119.3 1052.2,118.9 1052.0,118.4 1051.8,118.0 1051.6,117.6 1051.4,117.2 1051.2,116.8 1051.0,116.5 1050.8,116.1 1050.6,115.7 1050.4,115.3 1050.2,115.0 1050.0,114.6 1049.8,114.2 1049.6,113.9 1049.4,113.5 1049.2,113.2 1049.0,112.8 1048.8,112.5 1048.6,112.2 1048.3,111.8 1048.1,111.5 1047.9,111.2 1047.7,110.9 1047.5,110.6 1047.3,110.3 1047.1,110.0 1046.9,109.7 1046.6,109.4 1046.4,109.1 1046.2,108.9 1046.0,108.6 1045.8,108.3 1045.6,108.1 1045.4,107.8 1045.1,107.6 1044.9,107.3 1044.7,107.1 1044.5,106.9 1044.3,106.6 1044.1,106.4 1043.8,106.2 1043.6,106.0 1043.4,105.8 1043.2,105.6 1043.0,105.4 1042.7,105.2 1042.5,105.0 1042.3,104.8 1042.1,104.7 1041.9,104.5 1041.6,104.3 1041.4,104.2 1041.2,104.0 1041.0,103.9 1040.8,103.7 1040.6,103.6 1040.3,103.5 1040.1,103.4 1039.9,103.2 1039.7,103.1 1039.5,103.0 1039.2,102.9 1039.0,102.8 1038.8,102.7 1038.6,102.7 1038.4,102.6 1038.2,102.5 1037.9,102.4 1037.7,102.4 1037.5,102.3 1037.3,102.3 1037.1,102.2 1036.9,102.2 1036.6,102.2 1036.4,102.1 1036.2,102.1 1036.0,102.1 1035.8,102.1 1035.6,102.1 1035.4,102.1 1035.1,102.1 1034.9,102.1" fill="none" stroke="#aaaaaa" stroke-width="1.7"/>
<path d="M1017.1,177.3 1017.2,178.0 1017.2,178.6 1017.3,179.3 1017.3,179.9 1017.4,180.6 1017.5,181.2 1017.5,181.9 1017.6,182.5 1017.7,183.2 1017.7,183.9 1017.8,184.5 1017.9,185.2 1017.9,185.8 1018.0,186.5 1018.1,187.1 1018.2,187.8 1018.3,188.4 1018.3,189.1 1018.4,189.7 1018.5,190.4 1018.6,191.0 1018.7,191.6 1018.8,192.3 1018.9,192.9 1019.0,193.6 1019.1,194.2 1019.2,194.9 1019.3,195.5 1019.4,196.1 1019.5,196.8 1019.6,197.4 1019.7,198.0 1019.8,198.7 1019.9,199.3 1020.0,199.9 1020.1,200.5 1020.3,201.2 1020.4,201.8 1020.5,202.4 1020.6,203.0 1020.7,203.6 1020.9,204.3 1021.0,204.9 1021.1,205.5 1021.2,206.1 1021.4,206.7 1021.5,207.3 1021.6,207.9 1021.8,208.5 1021.9,209.1 1022.0,209.7 1022.2,210.3 1022.3,210.9 1022.5,211.4 1022.6,212.0 1022.8,212.6 1022.9,213.2 1023.0,213.8 1023.2,214.3 1023.3,214.9 1023.5,215.5 1023.7,216.0 1023.8,216.6 1024.0,217.2 1024.1,217.7 1024.3,218.3 1024.4,218.8 1024.6,219.4 1024.8,219.9 1024.9,220.4 1025.1,221.0 1025.3,221.5 1025.4,222.0 1025.6,222.6 1025.8,223.1 1025.9,223.6 1026.1,224.1 1026.3,224.6 1026.5,225.1 1026.6,225.6 1026.8,226.1 1027.0,226.6 1027.2,227.1 1027.3,227.6 1027.5,228.1 1027.7,228.6 1027.9,229.1 1028.1,229.5 1028.3,230.0 1028.4,230.5 1028.6,230.9 1028.8,231.4 1029.0,231.9 1029.2,232.3 1029.4,232.7 1029.6,233.2 1029.8,233.6 1030.0,234.1 1030.2,234.5 1030.4,234.9 1030.6,235.3 1030.8,235.7 1031.0,236.2 1031.2,236.6 1031.4,237.0 1031.6,237.4 1031.8,237.8 1032.0,238.1 1032.2,238.5 1032.4,238.9 1032.6,239.3 1032.8,239.6 1033.0,240.0 1033.2,240.4 1033.4,240.7 1033.6,241.1 1033.8,241.4 1034.0,241.8 1034.2,242.1 1034.4,242.4 1034.7,242.8 1034.9,243.1 1035.1,243.4 1035.3,243.7 1035.5,244.0 1035.7,244.3 1035.9,244.6 1036.1,244.9 1036.4,245.2 1036.6,245.5 1036.8,245.7 1037.0,246.0 1037.2,246.3 1037.4,246.5 1037.6,246.8 1037.9,247.0 1038.1,247.3 1038.3,247.5 1038.5,247.7 1038.7,248.0 1038.9,248.2 1039.2,248.4 1039.4,248.6 1039.6,248.8 1039.8,249.0 1040.0,249.2 1040.3,249.4 1040.5,249.6 1040.7,249.8 1040.9,249.9 1041.1,250.1 1041.4,250.3 1041.6,250.4 1041.8,250.6 1042.0,250.7 1042.2,250.9 1042.4,251.0 1042.7,251.1 1042.9,251.2 1043.1,251.4 1043.3,251.5 1043.5,251.6 1043.8,251.7 1044.0,251.8 1044.2,251.9 1044.4,251.9 1044.6,252.0 1044.8,252.1 1045.1,252.2 1045.3,252.2 1045.5,252.3 1045.7,252.3 1045.9,252.4 1046.1,252.4 1046.4,252.4 1046.6,252.5 1046.8,252.5 1047.0,252.5 1047.2,252.5 1047.4,252.5 1047.6,252.5 1047.9,252.5 1048.1,252.5M1034.7,102.1 1034.5,102.2 1034.3,102.2 1034.1,102.2 1033.9,102.3 1033.7,102.3 1033.5,102.4 1033.3,102.4 1033.1,102.5 1032.8,102.6 1032.6,102.7 1032.4,102.7 1032.2,102.8 1032.0,102.9 1031.8,103.0 1031.6,103.1 1031.4,103.2 1031.2,103.4 1031.0,103.5 1030.8,103.6 1030.6,103.7 1030.4,103.9 1030.2,104.0 1030.0,104.2 1029.8,104.3 1029.7,104.5 1029.5,104.7 1029.3,104.8 1029.1,105.0 1028.9,105.2 1028.7,105.4 1028.5,105.6 1028.3,105.8 1028.1,106.0 1028.0,106.2 1027.8,106.4 1027.6,106.6 1027.4,106.9 1027.2,107.1 1027.0,107.3 1026.9,107.6 1026.7,107.8 1026.5,108.1 1026.3,108.3 1026.2,108.6 1026.0,108.9 1025.8,109.1 1025.7,109.4 1025.5,109.7 1025.3,110.0 1025.1,110.3 1025.0,110.6 1024.8,110.9 1024.7,111.2 1024.5,111.5 1024.3,111.8 1024.2,112.2 1024.0,112.5 1023.9,112.8 1023.7,113.2 1023.6,113.5 1023.4,113.9 1023.2,114.2 1023.1,114.6 1022.9,115.0 1022.8,115.3 1022.7,115.7 1022.5,116.1 1022.4,116.5 1022.2,116.8 1022.1,117.2 1022.0,117.6 1021.8,118.0 1021.7,118.4 1021.5,118.9 1021.4,119.3 1021.3,119.7 1021.2,120.1 1021.0,120.5 1020.9,121.0 1020.8,121.4 1020.7,121.9 1020.5,122.3 1020.4,122.7 1020.3,123.2 1020.2,123.7 1020.1,124.1 1020.0,124.6 1019.8,125.1 1019.7,125.5 1019.6,126.0 1019.5,126.5 1019.4,127.0 1019.3,127.5 1019.2,128.0 1019.1,128.5 1019.0,129.0 1018.9,129.5 1018.8,130.0 1018.7,130.5 1018.6,131.0 1018.5,131.5 1018.5,132.0 1018.4,132.6 1018.3,133.1 1018.2,133.6 1018.1,134.2 1018.0,134.7 1018.0,135.2 1017.9,135.8 1017.8,136.3 1017.7,136.9 1017.7,137.4 1017.6,138.0 1017.5,138.6 1017.5,139.1 1017.4,139.7 1017.4,140.3 1017.3,140.8 1017.2,141.4 1017.2,142.0 1017.1,142.6 1017.1,143.2 1017.0,143.7 1017.0,144.3 1016.9,144.9 1016.9,145.5 1016.9,146.1 1016.8,146.7 1016.8,147.3 1016.7,147.9 1016.7,148.5 1016.7,149.1 1016.6,149.7 1016.6,150.3 1016.6,151.0 1016.6,151.6 1016.5,152.2 1016.5,152.8 1016.5,153.4 1016.5,154.1 1016.5,154.7 1016.4,155.3 1016.4,155.9 1016.4,156.6 1016.4,157.2 1016.4,157.8 1016.4,158.5 1016.4,159.1 1016.4,159.7 1016.4,160.4 1016.4,161.0 1016.4,161.7 1016.4,162.3 1016.4,163.0 1016.4,163.6 1016.5,164.2 1016.5,164.9 1016.5,165.5 1016.5,166.2 1016.5,166.8 1016.5,167.5 1016.6,168.1 1016.6,168.8 1016.6,169.4 1016.7,170.1 1016.7,170.7 1016.7,171.4 1016.8,172.1 1016.8,172.7 1016.8,173.4 1016.9,174.0 1016.9,174.7 1017.0,175.3 1017.0,176.0 1017.1,176.6 1017.1,177.3" fill="none" stroke="#ff5030" stroke-width="2"/>
<path d="M1017.1,177.3 1017.2,178.0 1017.2,178.6 1017.3,179.3 1017.3,179.9 1017.4,180.6 1017.5,181.2 1017.5,181.9 1017.6,182.5 1017.7,183.2 1017.7,183.9 1017.8,184.5 1017.9,185.2 1017.9,185.8 1018.0,186.5 1018.1,187.1 1018.2,187.8 1018.3,188.4 1018.3,189.1 1018.4,189.7 1018.5,190.4 1018.6,191.0 1018.7,191.6 1018.8,192.3 1018.9,192.9 1019.0,193.6 1019.1,194.2 1019.2,194.9 1019.3,195.5 1019.4,196.1 1019.5,196.8 1019.6,197.4 1019.7,198.0 1019.8,198.7 1019.9,199.3 1020.0,199.9 1020.1,200.5 1020.3,201.2 1020.4,201.8 1020.5,202.4 1020.6,203.0 1020.7,203.6 1020.9,204.3 1021.0,204.9 1021.1,205.5 1021.2,206.1 1021.4,206.7 1021.5,207.3 1021.6,207.9 1021.8,208.5 1021.9,209.1 1022.0,209.7 1022.2,210.3 1022.3,210.9 1022.5,211.4 1022.6,212.0 1022.8,212.6 1022.9,213.2 1023.0,213.8 1023.2,214.3 1023.3,214.9 1023.5,215.5 1023.7,216.0 1023.8,216.6 1024.0,217.2 1024.1,217.7 1024.3,218.3 1024.4,218.8 1024.6,219.4 1024.8,219.9 1024.9,220.4 1025.1,221.0 1025.3,221.5 1025.4,222.0 1025.6,222.6 1025.8,223.1 1025.9,223.6 1026.1,224.1 1026.3,224.6 1026.5,225.1 1026.6,225.6 1026.8,226.1 1027.0,226.6 1027.2,227.1 1027.3,227.6 1027.5,228.1 1027.7,228.6 1027.9,229.1 1028.1,229.5 1028.3,230.0 1028.4,230.5 1028.6,230.9 1028.8,231.4 1029.0,231.9 1029.2,232.3 1029.4,232.7 1029.6,233.2 1029.8,233.6 1030.0,234.1 1030.2,234.5 1030.4,234.9 1030.6,235.3 1030.8,235.7 1031.0,236.2 1031.2,236.6 1031.4,237.0 1031.6,237.4 1031.8,237.8 1032.0,238.1 1032.2,238.5 1032.4,238.9 1032.6,239.3 1032.8,239.6 1033.0,240.0 1033.2,240.4 1033.4,240.7 1033.6,241.1 1033.8,241.4 1034.0,241.8 1034.2,242.1 1034.4,242.4 1034.7,242.8 1034.9,243.1 1035.1,243.4 1035.3,243.7 1035.5,244.0 1035.7,244.3 1035.9,244.6 1036.1,244.9 1036.4,245.2 1036.6,245.5 1036.8,245.7 1037.0,246.0 1037.2,246.3 1037.4,246.5 1037.6,246.8 1037.9,247.0 1038.1,247.3 1038.3,247.5 1038.5,247.7 1038.7,248.0 1038.9,248.2 1039.2,248.4 1039.4,248.6 1039.6,248.8 1039.8,249.0 1040.0,249.2 1040.3,249.4 1040.5,249.6 1040.7,249.8 1040.9,249.9 1041.1,250.1 1041.4,250.3 1041.6,250.4 1041.8,250.6 1042.0,250.7 1042.2,250.9 1042.4,251.0 1042.7,251.1 1042.9,251.2 1043.1,251.4 1043.3,251.5 1043.5,251.6 1043.8,251.7 1044.0,251.8 1044.2,251.9 1044.4,251.9 1044.6,252.0 1044.8,252.1 1045.1,252.2 1045.3,252.2 1045.5,252.3 1045.7,252.3 1045.9,252.4 1046.1,252.4 1046.4,252.4 1046.6,252.5 1046.8,252.5 1047.0,252.5 1047.2,252.5 1047.4,252.5 1047.6,252.5 1047.9,252.5 1048.1,252.5M1034.7,102.1 1034.5,102.2 1034.3,102.2 1034.1,102.2 1033.9,102.3 1033.7,102.3 1033.5,102.4 1033.3,102.4 1033.1,102.5 1032.8,102.6 1032.6,102.7 1032.4,102.7 1032.2,102.8 1032.0,102.9 1031.8,103.0 1031.6,103.1 1031.4,103.2 1031.2,103.4 1031.0,103.5 1030.8,103.6 1030.6,103.7 1030.4,103.9 1030.2,104.0 1030.0,104.2 1029.8,104.3 1029.7,104.5 1029.5,104.7 1029.3,104.8 1029.1,105.0 1028.9,105.2 1028.7,105.4 1028.5,105.6 1028.3,105.8 1028.1,106.0 1028.0,106.2 1027.8,106.4 1027.6,106.6 1027.4,106.9 1027.2,107.1 1027.0,107.3 1026.9,107.6 1026.7,107.8 1026.5,108.1 1026.3,108.3 1026.2,108.6 1026.0,108.9 1025.8,109.1 1025.7,109.4 1025.5,109.7 1025.3,110.0 1025.1,110.3 1025.0,110.6 1024.8,110.9 1024.7,111.2 1024.5,111.5 1024.3,111.8 1024.2,112.2 1024.0,112.5 1023.9,112.8 1023.7,113.2 1023.6,113.5 1023.4,113.9 1023.2,114.2 1023.1,114.6 1022.9,115.0 1022.8,115.3 1022.7,115.7 1022.5,116.1 1022.4,116.5 1022.2,116.8 1022.1,117.2 1022.0,117.6 1021.8,118.0 1021.7,118.4 1021.5,118.9 1021.4,119.3 1021.3,119.7 1021.2,120.1 1021.0,120.5 1020.9,121.0 1020.8,121.4 1020.7,121.9 1020.5,122.3 1020.4,122.7 1020.3,123.2 1020.2,123.7 1020.1,124.1 1020.0,124.6 1019.8,125.1 1019.7,125.5 1019.6,126.0 1019.5,126.5 1019.4,127.0 1019.3,127.5 1019.2,128.0 1019.1,128.5 1019.0,129.0 1018.9,129.5 1018.8,130.0 1018.7,130.5 1018.6,131.0 1018.5,131.5 1018.5,132.0 1018.4,132.6 1018.3,133.1 1018.2,133.6 1018.1,134.2 1018.0,134.7 1018.0,135.2 1017.9,135.8 1017.8,136.3 1017.7,136.9 1017.7,137.4 1017.6,138.0 1017.5,138.6 1017.5,139.1 1017.4,139.7 1017.4,140.3 1017.3,140.8 1017.2,141.4 1017.2,142.0 1017.1,142.6 1017.1,143.2 1017.0,143.7 1017.0,144.3 1016.9,144.9 1016.9,145.5 1016.9,146.1 1016.8,146.7 1016.8,147.3 1016.7,147.9 1016.7,148.5 1016.7,149.1 1016.6,149.7 1016.6,150.3 1016.6,151.0 1016.6,151.6 1016.5,152.2 1016.5,152.8 1016.5,153.4 1016.5,154.1 1016.5,154.7 1016.4,155.3 1016.4,155.9 1016.4,156.6 1016.4,157.2 1016.4,157.8 1016.4,158.5 1016.4,159.1 1016.4,159.7 1016.4,160.4 1016.4,161.0 1016.4,161.7 1016.4,162.3 1016.4,163.0 1016.4,163.6 1016.5,164.2 1016.5,164.9 1016.5,165.5 1016.5,166.2 1016.5,166.8 1016.5,167.5 1016.6,168.1 1016.6,168.8 1016.6,169.4 1016.7,170.1 1016.7,170.7 1016.7,171.4 1016.8,172.1 1016.8,172.7 1016.8,173.4 1016.9,174.0 1016.9,174.7 1017.0,175.3 1017.0,176.0 1017.1,176.6 1017.1,177.3" fill="none" stroke="#0000ff" stroke-width="1.3" stroke-dasharray="1.3 6"/>
<path d="M1055.2,135.1L1063.2,135.1M1056.4,132.3L1062.0,137.9M1059.2,131.1L1059.2,139.1M1062.0,132.3L1056.4,137.9" stroke="#ff5030" stroke-width="1.1" fill="none"/>
<path d="M1062.0,149.4L1065.6,153.0L1062.0,156.6L1058.4,153.0Z" stroke="#ff5030" stroke-width="1" fill="none"/>
<path d="M1016.7,155.9L1020.1,161.8L1013.3,161.8Z" stroke="#0000ff" stroke-width="1.1" fill="none"/>
<path d="M1061.8,187.5L1069.8,187.5M1063.0,184.7L1068.6,190.4M1065.8,183.5L1065.8,191.5M1068.6,184.7L1063.0,190.4" stroke="#0000ff" stroke-width="1.1" fill="none"/>
<path d="M1067.3,203.2L1070.9,206.8L1067.3,210.4L1063.7,206.8Z" stroke="#0000ff" stroke-width="1" fill="none"/>
<path d="M1022.3,209.0L1025.7,215.0L1018.9,215.0Z" stroke="#ff5030" stroke-width="1.1" fill="none"/>
<path d="M901.5,465.5H1182.5" stroke="#000" stroke-width="1" stroke-dasharray="1 3" shape-rendering="crispEdges"/>
<circle cx="1041.5" cy="465.2" r="70.2" fill="none" stroke="#000" stroke-width="1.1"/>
<path d="M1005,465.5H1078M1041.5,429V502" stroke="#000" stroke-width="1" shape-rendering="crispEdges"/>
<path d="M1017.1,536.6 1017.2,536.6 1017.2,536.6 1017.3,536.6 1017.3,536.6 1017.4,536.6 1017.5,536.6 1017.5,536.6 1017.6,536.6 1017.7,536.6 1017.7,536.5 1017.8,536.5 1017.9,536.4 1017.9,536.4 1018.0,536.3 1018.1,536.3 1018.2,536.2 1018.3,536.1 1018.3,536.1 1018.4,536.0 1018.5,535.9 1018.6,535.8 1018.7,535.7 1018.8,535.6 1018.9,535.5 1019.0,535.4 1019.1,535.2 1019.2,535.1 1019.3,535.0 1019.4,534.8 1019.5,534.7 1019.6,534.6 1019.7,534.4 1019.8,534.3 1019.9,534.1 1020.0,533.9 1020.1,533.7 1020.3,533.6 1020.4,533.4 1020.5,533.2 1020.6,533.0 1020.7,532.8 1020.9,532.6 1021.0,532.4 1021.1,532.2 1021.2,532.0 1021.4,531.7 1021.5,531.5 1021.6,531.3 1021.8,531.0 1021.9,530.8 1022.0,530.5 1022.2,530.3 1022.3,530.0 1022.5,529.8 1022.6,529.5 1022.8,529.2 1022.9,528.9 1023.0,528.6 1023.2,528.4 1023.3,528.1 1023.5,527.8 1023.7,527.5 1023.8,527.2 1024.0,526.8 1024.1,526.5 1024.3,526.2 1024.4,525.9 1024.6,525.5 1024.8,525.2 1024.9,524.9 1025.1,524.5 1025.3,524.2 1025.4,523.8 1025.6,523.5 1025.8,523.1 1025.9,522.7 1026.1,522.4 1026.3,522.0 1026.5,521.6 1026.6,521.2 1026.8,520.8 1027.0,520.4 1027.2,520.0 1027.3,519.6 1027.5,519.2 1027.7,518.8 1027.9,518.4 1028.1,518.0 1028.3,517.6 1028.4,517.1 1028.6,516.7 1028.8,516.3 1029.0,515.8 1029.2,515.4 1029.4,514.9 1029.6,514.5 1029.8,514.0 1030.0,513.6 1030.2,513.1 1030.4,512.7 1030.6,512.2 1030.8,511.7 1031.0,511.2 1031.2,510.8 1031.4,510.3 1031.6,509.8 1031.8,509.3 1032.0,508.8 1032.2,508.3 1032.4,507.8 1032.6,507.3 1032.8,506.8 1033.0,506.3 1033.2,505.8 1033.4,505.3 1033.6,504.8 1033.8,504.2 1034.0,503.7 1034.2,503.2 1034.4,502.7 1034.7,502.1 1034.9,501.6 1035.1,501.1 1035.3,500.5 1035.5,500.0 1035.7,499.4 1035.9,498.9 1036.1,498.3 1036.4,497.8 1036.6,497.2 1036.8,496.7 1037.0,496.1 1037.2,495.5 1037.4,495.0 1037.6,494.4 1037.9,493.8 1038.1,493.3 1038.3,492.7 1038.5,492.1 1038.7,491.5 1038.9,490.9 1039.2,490.4 1039.4,489.8 1039.6,489.2 1039.8,488.6 1040.0,488.0 1040.3,487.4 1040.5,486.8 1040.7,486.2 1040.9,485.6 1041.1,485.0 1041.4,484.4 1041.6,483.8 1041.8,483.2 1042.0,482.6 1042.2,482.0 1042.4,481.4 1042.7,480.8 1042.9,480.2 1043.1,479.6 1043.3,479.0 1043.5,478.4 1043.8,477.8 1044.0,477.1 1044.2,476.5 1044.4,475.9 1044.6,475.3 1044.8,474.7 1045.1,474.1 1045.3,473.4 1045.5,472.8 1045.7,472.2 1045.9,471.6 1046.1,471.0 1046.4,470.3 1046.6,469.7 1046.8,469.1 1047.0,468.5 1047.2,467.8 1047.4,467.2 1047.6,466.6 1047.9,466.0 1048.1,465.4 1048.3,464.7 1048.5,464.1 1048.7,463.5 1048.9,462.9 1049.1,462.2 1049.3,461.6 1049.5,461.0 1049.7,460.4 1049.9,459.7 1050.2,459.1 1050.4,458.5 1050.6,457.9 1050.8,457.3 1051.0,456.6 1051.2,456.0 1051.4,455.4 1051.6,454.8 1051.8,454.2 1052.0,453.6 1052.2,452.9 1052.4,452.3 1052.6,451.7 1052.8,451.1 1053.0,450.5 1053.2,449.9 1053.3,449.3 1053.5,448.7 1053.7,448.1 1053.9,447.5 1054.1,446.9 1054.3,446.3 1054.5,445.7 1054.7,445.1 1054.9,444.5 1055.0,443.9 1055.2,443.3 1055.4,442.7 1055.6,442.1 1055.8,441.5 1056.0,440.9 1056.1,440.3 1056.3,439.7 1056.5,439.2 1056.7,438.6 1056.8,438.0 1057.0,437.4 1057.2,436.9 1057.3,436.3 1057.5,435.7 1057.7,435.1 1057.9,434.6 1058.0,434.0 1058.2,433.5 1058.3,432.9 1058.5,432.3 1058.7,431.8 1058.8,431.2 1059.0,430.7 1059.1,430.2 1059.3,429.6 1059.4,429.1 1059.6,428.5 1059.8,428.0 1059.9,427.5 1060.1,426.9 1060.2,426.4 1060.3,425.9 1060.5,425.4 1060.6,424.9 1060.8,424.3 1060.9,423.8 1061.0,423.3 1061.2,422.8 1061.3,422.3 1061.5,421.8 1061.6,421.3 1061.7,420.8 1061.8,420.4 1062.0,419.9 1062.1,419.4 1062.2,418.9 1062.3,418.4 1062.5,418.0 1062.6,417.5 1062.7,417.0 1062.8,416.6 1062.9,416.1 1063.0,415.7 1063.2,415.2 1063.3,414.8 1063.4,414.3 1063.5,413.9 1063.6,413.5 1063.7,413.1 1063.8,412.6 1063.9,412.2 1064.0,411.8 1064.1,411.4 1064.2,411.0 1064.3,410.6 1064.4,410.2 1064.5,409.8 1064.5,409.4 1064.6,409.0 1064.7,408.6 1064.8,408.2 1064.9,407.9 1065.0,407.5 1065.0,407.1 1065.1,406.8 1065.2,406.4 1065.3,406.1 1065.3,405.7 1065.4,405.4 1065.5,405.0 1065.5,404.7 1065.6,404.4 1065.6,404.0 1065.7,403.7 1065.8,403.4 1065.8,403.1 1065.9,402.8 1065.9,402.5 1066.0,402.2 1066.0,401.9 1066.1,401.6 1066.1,401.3 1066.1,401.1 1066.2,400.8 1066.2,400.5 1066.3,400.3 1066.3,400.0 1066.3,399.7 1066.4,399.5 1066.4,399.3 1066.4,399.0 1066.4,398.8 1066.5,398.6 1066.5,398.3 1066.5,398.1 1066.5,397.9 1066.5,397.7 1066.6,397.5 1066.6,397.3 1066.6,397.1 1066.6,396.9 1066.6,396.7 1066.6,396.6 1066.6,396.4 1066.6,396.2 1066.6,396.1 1066.6,395.9 1066.6,395.8 1066.6,395.6 1066.6,395.5 1066.6,395.3 1066.5,395.2 1066.5,395.1 1066.5,395.0 1066.5,394.9 1066.5,394.8 1066.5,394.7 1066.4,394.6 1066.4,394.5 1066.4,394.4 1066.3,394.3 1066.3,394.2 1066.3,394.2 1066.2,394.1 1066.2,394.0 1066.2,394.0 1066.1,393.9 1066.1,393.9 1066.0,393.9 1066.0,393.8 1065.9,393.8 1065.9,393.8" fill="none" stroke="#aaaaaa" stroke-width="1.7"/>
<path d="M1065.8,393.8 1065.8,393.8 1065.7,393.8 1065.7,393.8 1065.6,393.8 1065.5,393.8 1065.5,393.8 1065.4,393.8 1065.3,393.8 1065.3,393.9 1065.2,393.9 1065.1,394.0 1065.1,394.0 1065.0,394.1 1064.9,394.1 1064.8,394.2 1064.7,394.3 1064.7,394.3 1064.6,394.4 1064.5,394.5 1064.4,394.6 1064.3,394.7 1064.2,394.8 1064.1,394.9 1064.0,395.0 1063.9,395.2 1063.8,395.3 1063.7,395.4 1063.6,395.6 1063.5,395.7 1063.4,395.8 1063.3,396.0 1063.2,396.1 1063.1,396.3 1063.0,396.5 1062.9,396.7 1062.7,396.8 1062.6,397.0 1062.5,397.2 1062.4,397.4 1062.3,397.6 1062.1,397.8 1062.0,398.0 1061.9,398.2 1061.8,398.4 1061.6,398.7 1061.5,398.9 1061.4,399.1 1061.2,399.4 1061.1,399.6 1061.0,399.9 1060.8,400.1 1060.7,400.4 1060.5,400.6 1060.4,400.9 1060.2,401.2 1060.1,401.5 1060.0,401.8 1059.8,402.0 1059.7,402.3 1059.5,402.6 1059.3,402.9 1059.2,403.2 1059.0,403.6 1058.9,403.9 1058.7,404.2 1058.6,404.5 1058.4,404.9 1058.2,405.2 1058.1,405.5 1057.9,405.9 1057.7,406.2 1057.6,406.6 1057.4,406.9 1057.2,407.3 1057.1,407.7 1056.9,408.0 1056.7,408.4 1056.5,408.8 1056.4,409.2 1056.2,409.6 1056.0,410.0 1055.8,410.4 1055.7,410.8 1055.5,411.2 1055.3,411.6 1055.1,412.0 1054.9,412.4 1054.7,412.8 1054.6,413.3 1054.4,413.7 1054.2,414.1 1054.0,414.6 1053.8,415.0 1053.6,415.5 1053.4,415.9 1053.2,416.4 1053.0,416.8 1052.8,417.3 1052.6,417.7 1052.4,418.2 1052.2,418.7 1052.0,419.2 1051.8,419.6 1051.6,420.1 1051.4,420.6 1051.2,421.1 1051.0,421.6 1050.8,422.1 1050.6,422.6 1050.4,423.1 1050.2,423.6 1050.0,424.1 1049.8,424.6 1049.6,425.1 1049.4,425.6 1049.2,426.2 1049.0,426.7 1048.8,427.2 1048.6,427.7 1048.3,428.3 1048.1,428.8 1047.9,429.3 1047.7,429.9 1047.5,430.4 1047.3,431.0 1047.1,431.5 1046.9,432.1 1046.6,432.6 1046.4,433.2 1046.2,433.7 1046.0,434.3 1045.8,434.9 1045.6,435.4 1045.4,436.0 1045.1,436.6 1044.9,437.1 1044.7,437.7 1044.5,438.3 1044.3,438.9 1044.1,439.5 1043.8,440.0 1043.6,440.6 1043.4,441.2 1043.2,441.8 1043.0,442.4 1042.7,443.0 1042.5,443.6 1042.3,444.2 1042.1,444.8 1041.9,445.4 1041.6,446.0 1041.4,446.6 1041.2,447.2 1041.0,447.8 1040.8,448.4 1040.6,449.0 1040.3,449.6 1040.1,450.2 1039.9,450.8 1039.7,451.4 1039.5,452.0 1039.2,452.6 1039.0,453.3 1038.8,453.9 1038.6,454.5 1038.4,455.1 1038.2,455.7 1037.9,456.3 1037.7,457.0 1037.5,457.6 1037.3,458.2 1037.1,458.8 1036.9,459.4 1036.6,460.1 1036.4,460.7 1036.2,461.3 1036.0,461.9 1035.8,462.6 1035.6,463.2 1035.4,463.8 1035.1,464.4 1034.9,465.0 1034.7,465.7 1034.5,466.3 1034.3,466.9 1034.1,467.5 1033.9,468.2 1033.7,468.8 1033.5,469.4 1033.3,470.0 1033.1,470.7 1032.8,471.3 1032.6,471.9 1032.4,472.5 1032.2,473.1 1032.0,473.8 1031.8,474.4 1031.6,475.0 1031.4,475.6 1031.2,476.2 1031.0,476.8 1030.8,477.5 1030.6,478.1 1030.4,478.7 1030.2,479.3 1030.0,479.9 1029.8,480.5 1029.7,481.1 1029.5,481.7 1029.3,482.3 1029.1,482.9 1028.9,483.5 1028.7,484.1 1028.5,484.7 1028.3,485.3 1028.1,485.9 1028.0,486.5 1027.8,487.1 1027.6,487.7 1027.4,488.3 1027.2,488.9 1027.0,489.5 1026.9,490.1 1026.7,490.7 1026.5,491.2 1026.3,491.8 1026.2,492.4 1026.0,493.0 1025.8,493.5 1025.7,494.1 1025.5,494.7 1025.3,495.3 1025.1,495.8 1025.0,496.4 1024.8,496.9 1024.7,497.5 1024.5,498.1 1024.3,498.6 1024.2,499.2 1024.0,499.7 1023.9,500.2 1023.7,500.8 1023.6,501.3 1023.4,501.9 1023.2,502.4 1023.1,502.9 1022.9,503.5 1022.8,504.0 1022.7,504.5 1022.5,505.0 1022.4,505.5 1022.2,506.1 1022.1,506.6 1022.0,507.1 1021.8,507.6 1021.7,508.1 1021.5,508.6 1021.4,509.1 1021.3,509.6 1021.2,510.0 1021.0,510.5 1020.9,511.0 1020.8,511.5 1020.7,512.0 1020.5,512.4 1020.4,512.9 1020.3,513.4 1020.2,513.8 1020.1,514.3 1020.0,514.7 1019.8,515.2 1019.7,515.6 1019.6,516.1 1019.5,516.5 1019.4,516.9 1019.3,517.3 1019.2,517.8 1019.1,518.2 1019.0,518.6 1018.9,519.0 1018.8,519.4 1018.7,519.8 1018.6,520.2 1018.5,520.6 1018.5,521.0 1018.4,521.4 1018.3,521.8 1018.2,522.2 1018.1,522.5 1018.0,522.9 1018.0,523.3 1017.9,523.6 1017.8,524.0 1017.7,524.3 1017.7,524.7 1017.6,525.0 1017.5,525.4 1017.5,525.7 1017.4,526.0 1017.4,526.4 1017.3,526.7 1017.2,527.0 1017.2,527.3 1017.1,527.6 1017.1,527.9 1017.0,528.2 1017.0,528.5 1016.9,528.8 1016.9,529.1 1016.9,529.3 1016.8,529.6 1016.8,529.9 1016.7,530.1 1016.7,530.4 1016.7,530.7 1016.6,530.9 1016.6,531.1 1016.6,531.4 1016.6,531.6 1016.5,531.8 1016.5,532.1 1016.5,532.3 1016.5,532.5 1016.5,532.7 1016.4,532.9 1016.4,533.1 1016.4,533.3 1016.4,533.5 1016.4,533.7 1016.4,533.8 1016.4,534.0 1016.4,534.2 1016.4,534.3 1016.4,534.5 1016.4,534.6 1016.4,534.8 1016.4,534.9 1016.4,535.1 1016.5,535.2 1016.5,535.3 1016.5,535.4 1016.5,535.5 1016.5,535.6 1016.5,535.7 1016.6,535.8 1016.6,535.9 1016.6,536.0 1016.7,536.1 1016.7,536.2 1016.7,536.2 1016.8,536.3 1016.8,536.4 1016.8,536.4 1016.9,536.5 1016.9,536.5 1017.0,536.5 1017.0,536.6 1017.1,536.6 1017.1,536.6" fill="none" stroke="#ff5030" stroke-width="2"/>
<path d="M1065.8,393.8 1065.8,393.8 1065.7,393.8 1065.7,393.8 1065.6,393.8 1065.5,393.8 1065.5,393.8 1065.4,393.8 1065.3,393.8 1065.3,393.9 1065.2,393.9 1065.1,394.0 1065.1,394.0 1065.0,394.1 1064.9,394.1 1064.8,394.2 1064.7,394.3 1064.7,394.3 1064.6,394.4 1064.5,394.5 1064.4,394.6 1064.3,394.7 1064.2,394.8 1064.1,394.9 1064.0,395.0 1063.9,395.2 1063.8,395.3 1063.7,395.4 1063.6,395.6 1063.5,395.7 1063.4,395.8 1063.3,396.0 1063.2,396.1 1063.1,396.3 1063.0,396.5 1062.9,396.7 1062.7,396.8 1062.6,397.0 1062.5,397.2 1062.4,397.4 1062.3,397.6 1062.1,397.8 1062.0,398.0 1061.9,398.2 1061.8,398.4 1061.6,398.7 1061.5,398.9 1061.4,399.1 1061.2,399.4 1061.1,399.6 1061.0,399.9 1060.8,400.1 1060.7,400.4 1060.5,400.6 1060.4,400.9 1060.2,401.2 1060.1,401.5 1060.0,401.8 1059.8,402.0 1059.7,402.3 1059.5,402.6 1059.3,402.9 1059.2,403.2 1059.0,403.6 1058.9,403.9 1058.7,404.2 1058.6,404.5 1058.4,404.9 1058.2,405.2 1058.1,405.5 1057.9,405.9 1057.7,406.2 1057.6,406.6 1057.4,406.9 1057.2,407.3 1057.1,407.7 1056.9,408.0 1056.7,408.4 1056.5,408.8 1056.4,409.2 1056.2,409.6 1056.0,410.0 1055.8,410.4 1055.7,410.8 1055.5,411.2 1055.3,411.6 1055.1,412.0 1054.9,412.4 1054.7,412.8 1054.6,413.3 1054.4,413.7 1054.2,414.1 1054.0,414.6 1053.8,415.0 1053.6,415.5 1053.4,415.9 1053.2,416.4 1053.0,416.8 1052.8,417.3 1052.6,417.7 1052.4,418.2 1052.2,418.7 1052.0,419.2 1051.8,419.6 1051.6,420.1 1051.4,420.6 1051.2,421.1 1051.0,421.6 1050.8,422.1 1050.6,422.6 1050.4,423.1 1050.2,423.6 1050.0,424.1 1049.8,424.6 1049.6,425.1 1049.4,425.6 1049.2,426.2 1049.0,426.7 1048.8,427.2 1048.6,427.7 1048.3,428.3 1048.1,428.8 1047.9,429.3 1047.7,429.9 1047.5,430.4 1047.3,431.0 1047.1,431.5 1046.9,432.1 1046.6,432.6 1046.4,433.2 1046.2,433.7 1046.0,434.3 1045.8,434.9 1045.6,435.4 1045.4,436.0 1045.1,436.6 1044.9,437.1 1044.7,437.7 1044.5,438.3 1044.3,438.9 1044.1,439.5 1043.8,440.0 1043.6,440.6 1043.4,441.2 1043.2,441.8 1043.0,442.4 1042.7,443.0 1042.5,443.6 1042.3,444.2 1042.1,444.8 1041.9,445.4 1041.6,446.0 1041.4,446.6 1041.2,447.2 1041.0,447.8 1040.8,448.4 1040.6,449.0 1040.3,449.6 1040.1,450.2 1039.9,450.8 1039.7,451.4 1039.5,452.0 1039.2,452.6 1039.0,453.3 1038.8,453.9 1038.6,454.5 1038.4,455.1 1038.2,455.7 1037.9,456.3 1037.7,457.0 1037.5,457.6 1037.3,458.2 1037.1,458.8 1036.9,459.4 1036.6,460.1 1036.4,460.7 1036.2,461.3 1036.0,461.9 1035.8,462.6 1035.6,463.2 1035.4,463.8 1035.1,464.4 1034.9,465.0 1034.7,465.7 1034.5,466.3 1034.3,466.9 1034.1,467.5 1033.9,468.2 1033.7,468.8 1033.5,469.4 1033.3,470.0 1033.1,470.7 1032.8,471.3 1032.6,471.9 1032.4,472.5 1032.2,473.1 1032.0,473.8 1031.8,474.4 1031.6,475.0 1031.4,475.6 1031.2,476.2 1031.0,476.8 1030.8,477.5 1030.6,478.1 1030.4,478.7 1030.2,479.3 1030.0,479.9 1029.8,480.5 1029.7,481.1 1029.5,481.7 1029.3,482.3 1029.1,482.9 1028.9,483.5 1028.7,484.1 1028.5,484.7 1028.3,485.3 1028.1,485.9 1028.0,486.5 1027.8,487.1 1027.6,487.7 1027.4,488.3 1027.2,488.9 1027.0,489.5 1026.9,490.1 1026.7,490.7 1026.5,491.2 1026.3,491.8 1026.2,492.4 1026.0,493.0 1025.8,493.5 1025.7,494.1 1025.5,494.7 1025.3,495.3 1025.1,495.8 1025.0,496.4 1024.8,496.9 1024.7,497.5 1024.5,498.1 1024.3,498.6 1024.2,499.2 1024.0,499.7 1023.9,500.2 1023.7,500.8 1023.6,501.3 1023.4,501.9 1023.2,502.4 1023.1,502.9 1022.9,503.5 1022.8,504.0 1022.7,504.5 1022.5,505.0 1022.4,505.5 1022.2,506.1 1022.1,506.6 1022.0,507.1 1021.8,507.6 1021.7,508.1 1021.5,508.6 1021.4,509.1 1021.3,509.6 1021.2,510.0 1021.0,510.5 1020.9,511.0 1020.8,511.5 1020.7,512.0 1020.5,512.4 1020.4,512.9 1020.3,513.4 1020.2,513.8 1020.1,514.3 1020.0,514.7 1019.8,515.2 1019.7,515.6 1019.6,516.1 1019.5,516.5 1019.4,516.9 1019.3,517.3 1019.2,517.8 1019.1,518.2 1019.0,518.6 1018.9,519.0 1018.8,519.4 1018.7,519.8 1018.6,520.2 1018.5,520.6 1018.5,521.0 1018.4,521.4 1018.3,521.8 1018.2,522.2 1018.1,522.5 1018.0,522.9 1018.0,523.3 1017.9,523.6 1017.8,524.0 1017.7,524.3 1017.7,524.7 1017.6,525.0 1017.5,525.4 1017.5,525.7 1017.4,526.0 1017.4,526.4 1017.3,526.7 1017.2,527.0 1017.2,527.3 1017.1,527.6 1017.1,527.9 1017.0,528.2 1017.0,528.5 1016.9,528.8 1016.9,529.1 1016.9,529.3 1016.8,529.6 1016.8,529.9 1016.7,530.1 1016.7,530.4 1016.7,530.7 1016.6,530.9 1016.6,531.1 1016.6,531.4 1016.6,531.6 1016.5,531.8 1016.5,532.1 1016.5,532.3 1016.5,532.5 1016.5,532.7 1016.4,532.9 1016.4,533.1 1016.4,533.3 1016.4,533.5 1016.4,533.7 1016.4,533.8 1016.4,534.0 1016.4,534.2 1016.4,534.3 1016.4,534.5 1016.4,534.6 1016.4,534.8 1016.4,534.9 1016.4,535.1 1016.5,535.2 1016.5,535.3 1016.5,535.4 1016.5,535.5 1016.5,535.6 1016.5,535.7 1016.6,535.8 1016.6,535.9 1016.6,536.0 1016.7,536.1 1016.7,536.2 1016.7,536.2 1016.8,536.3 1016.8,536.4 1016.8,536.4 1016.9,536.5 1016.9,536.5 1017.0,536.5 1017.0,536.6 1017.1,536.6 1017.1,536.6" fill="none" stroke="#0000ff" stroke-width="1.3" stroke-dasharray="1.3 3"/>
<path d="M1055.2,405.5L1063.2,405.5M1056.4,402.7L1062.0,408.4M1059.2,401.5L1059.2,409.5M1062.0,402.7L1056.4,408.4" stroke="#ff5030" stroke-width="1.1" fill="none"/>
<path d="M1062.0,393.0L1065.6,396.6L1062.0,400.2L1058.4,396.6Z" stroke="#ff5030" stroke-width="1" fill="none"/>
<path d="M1016.7,530.5L1020.1,536.5L1013.3,536.5Z" stroke="#0000ff" stroke-width="1.1" fill="none"/>
<path d="M1061.8,393.9L1069.8,393.9M1063.0,391.1L1068.6,396.8M1065.8,389.9L1065.8,397.9M1068.6,391.1L1063.0,396.8" stroke="#0000ff" stroke-width="1.1" fill="none"/>
<path d="M1067.3,397.4L1070.9,401.0L1067.3,404.6L1063.7,401.0Z" stroke="#0000ff" stroke-width="1" fill="none"/>
<path d="M901.6,753.5H1182.6" stroke="#000" stroke-width="1" stroke-dasharray="1 3" shape-rendering="crispEdges"/>
<circle cx="1041.6" cy="753.2" r="70.2" fill="none" stroke="#000" stroke-width="1.1"/>
<path d="M1005,753.5H1078M1041.5,717V790" stroke="#000" stroke-width="1" shape-rendering="crispEdges"/>
<path d="M970.2,753.2 970.2,753.9 970.2,754.5 970.2,755.2 970.2,755.8 970.2,756.5 970.2,757.1 970.2,757.8 970.2,758.4 970.2,759.1 970.3,759.8 970.3,760.4 970.4,761.1 970.4,761.7 970.5,762.4 970.5,763.0 970.6,763.7 970.7,764.3 970.7,765.0 970.8,765.6 970.9,766.3 971.0,766.9 971.1,767.5 971.2,768.2 971.3,768.8 971.4,769.5 971.6,770.1 971.7,770.8 971.8,771.4 972.0,772.0 972.1,772.7 972.2,773.3 972.4,773.9 972.5,774.6 972.7,775.2 972.9,775.8 973.1,776.4 973.2,777.1 973.4,777.7 973.6,778.3 973.8,778.9 974.0,779.5 974.2,780.2 974.4,780.8 974.6,781.4 974.8,782.0 975.1,782.6 975.3,783.2 975.5,783.8 975.8,784.4 976.0,785.0 976.3,785.6 976.5,786.2 976.8,786.8 977.0,787.3 977.3,787.9 977.6,788.5 977.9,789.1 978.2,789.7 978.4,790.2 978.7,790.8 979.0,791.4 979.3,791.9 979.6,792.5 980.0,793.1 980.3,793.6 980.6,794.2 980.9,794.7 981.3,795.3 981.6,795.8 981.9,796.3 982.3,796.9 982.6,797.4 983.0,797.9 983.3,798.5 983.7,799.0 984.1,799.5 984.4,800.0 984.8,800.5 985.2,801.0 985.6,801.5 986.0,802.0 986.4,802.5 986.8,803.0 987.2,803.5 987.6,804.0 988.0,804.5 988.4,805.0 988.8,805.4 989.2,805.9 989.7,806.4 990.1,806.8 990.5,807.3 991.0,807.8 991.4,808.2 991.9,808.6 992.3,809.1 992.8,809.5 993.2,810.0 993.7,810.4 994.1,810.8 994.6,811.2 995.1,811.6 995.6,812.1 996.0,812.5 996.5,812.9 997.0,813.3 997.5,813.7 998.0,814.0 998.5,814.4 999.0,814.8 999.5,815.2 1000.0,815.5 1000.5,815.9 1001.0,816.3 1001.5,816.6 1002.0,817.0 1002.6,817.3 1003.1,817.7 1003.6,818.0 1004.1,818.3 1004.7,818.7 1005.2,819.0 1005.7,819.3 1006.3,819.6 1006.8,819.9 1007.4,820.2 1007.9,820.5 1008.5,820.8 1009.0,821.1 1009.6,821.4 1010.1,821.6 1010.7,821.9 1011.3,822.2 1011.8,822.4 1012.4,822.7 1013.0,822.9 1013.5,823.2 1014.1,823.4 1014.7,823.6 1015.3,823.9 1015.9,824.1 1016.4,824.3 1017.0,824.5 1017.6,824.7 1018.2,824.9 1018.8,825.1 1019.4,825.3 1020.0,825.5 1020.6,825.7 1021.2,825.8 1021.8,826.0 1022.4,826.2M1060.2,680.1 1059.6,679.9 1059.0,679.8 1058.4,679.6 1057.8,679.5 1057.2,679.4 1056.6,679.3 1056.0,679.1 1055.4,679.0 1054.8,678.9 1054.2,678.8 1053.5,678.7 1052.9,678.6 1052.3,678.6 1051.7,678.5 1051.1,678.4 1050.5,678.3 1049.8,678.3 1049.2,678.2 1048.6,678.2 1048.0,678.1 1047.4,678.1 1046.7,678.1 1046.1,678.0 1045.5,678.0 1044.9,678.0 1044.2,678.0 1043.6,678.0 1043.0,678.0 1042.4,678.0 1041.8,678.0 1041.1,678.0 1040.5,678.1 1039.9,678.1 1039.3,678.1 1038.6,678.2 1038.0,678.2 1037.4,678.3 1036.8,678.3 1036.1,678.4 1035.5,678.5 1034.9,678.6 1034.3,678.6 1033.7,678.7 1033.0,678.8 1032.4,678.9 1031.8,679.0 1031.2,679.1 1030.6,679.3 1030.0,679.4 1029.3,679.5 1028.7,679.6 1028.1,679.8 1027.5,679.9 1026.9,680.1 1026.3,680.2 1025.7,680.4 1025.1,680.6 1024.5,680.7 1023.9,680.9 1023.3,681.1 1022.7,681.3 1022.1,681.5 1021.5,681.7 1020.9,681.9 1020.3,682.1 1019.7,682.3 1019.1,682.5 1018.5,682.8 1017.9,683.0 1017.3,683.2 1016.7,683.5 1016.1,683.7 1015.6,684.0 1015.0,684.2 1014.4,684.5 1013.8,684.8 1013.3,685.0 1012.7,685.3 1012.1,685.6 1011.5,685.9 1011.0,686.2 1010.4,686.5 1009.9,686.8 1009.3,687.1 1008.7,687.4 1008.2,687.7 1007.6,688.1 1007.1,688.4 1006.6,688.7 1006.0,689.1 1005.5,689.4 1004.9,689.8 1004.4,690.1 1003.9,690.5 1003.3,690.9 1002.8,691.2 1002.3,691.6 1001.8,692.0 1001.3,692.4 1000.7,692.7 1000.2,693.1 999.7,693.5 999.2,693.9 998.7,694.3 998.2,694.8 997.7,695.2 997.2,695.6 996.8,696.0 996.3,696.4 995.8,696.9 995.3,697.3 994.8,697.8 994.4,698.2 993.9,698.6 993.4,699.1 993.0,699.6 992.5,700.0 992.1,700.5 991.6,701.0 991.2,701.4 990.7,701.9 990.3,702.4 989.9,702.9 989.5,703.4 989.0,703.9 988.6,704.4 988.2,704.9 987.8,705.4 987.4,705.9 987.0,706.4 986.6,706.9 986.2,707.4 985.8,707.9 985.4,708.5 985.0,709.0 984.6,709.5 984.3,710.1 983.9,710.6 983.5,711.1 983.2,711.7 982.8,712.2 982.5,712.8 982.1,713.3 981.8,713.9 981.4,714.5 981.1,715.0 980.8,715.6 980.4,716.2 980.1,716.7 979.8,717.3 979.5,717.9 979.2,718.5 978.9,719.1 978.6,719.6 978.3,720.2 978.0,720.8 977.7,721.4 977.5,722.0 977.2,722.6 976.9,723.2 976.7,723.8 976.4,724.4 976.1,725.0 975.9,725.6 975.7,726.2 975.4,726.9 975.2,727.5 975.0,728.1 974.7,728.7 974.5,729.3 974.3,730.0 974.1,730.6 973.9,731.2 973.7,731.8 973.5,732.5 973.3,733.1 973.1,733.7 973.0,734.4 972.8,735.0 972.6,735.6 972.5,736.3 972.3,736.9 972.2,737.6 972.0,738.2 971.9,738.9 971.7,739.5 971.6,740.1 971.5,740.8 971.4,741.4 971.3,742.1 971.2,742.7 971.1,743.4 971.0,744.0 970.9,744.7 970.8,745.3 970.7,746.0 970.6,746.6 970.6,747.3 970.5,748.0 970.4,748.6 970.4,749.3 970.3,749.9 970.3,750.6 970.3,751.2 970.2,751.9 970.2,752.5 970.2,753.2" fill="none" stroke="#aaaaaa" stroke-width="1.7"/>
<path d="M1023.0,826.3 1023.6,826.5 1024.2,826.6 1024.8,826.8 1025.4,826.9 1026.0,827.0 1026.6,827.1 1027.2,827.3 1027.8,827.4 1028.4,827.5 1029.0,827.6 1029.7,827.7 1030.3,827.8 1030.9,827.8 1031.5,827.9 1032.1,828.0 1032.7,828.1 1033.4,828.1 1034.0,828.2 1034.6,828.2 1035.2,828.3 1035.8,828.3 1036.5,828.3 1037.1,828.4 1037.7,828.4 1038.3,828.4 1039.0,828.4 1039.6,828.4 1040.2,828.4 1040.8,828.4 1041.4,828.4 1042.1,828.4 1042.7,828.3 1043.3,828.3 1043.9,828.3 1044.6,828.2 1045.2,828.2 1045.8,828.1 1046.4,828.1 1047.1,828.0 1047.7,827.9 1048.3,827.8 1048.9,827.8 1049.5,827.7 1050.2,827.6 1050.8,827.5 1051.4,827.4 1052.0,827.3 1052.6,827.1 1053.2,827.0 1053.9,826.9 1054.5,826.8 1055.1,826.6 1055.7,826.5 1056.3,826.3 1056.9,826.2 1057.5,826.0 1058.1,825.8 1058.7,825.7 1059.3,825.5 1059.9,825.3 1060.5,825.1 1061.1,824.9 1061.7,824.7 1062.3,824.5 1062.9,824.3 1063.5,824.1 1064.1,823.9 1064.7,823.6 1065.3,823.4 1065.9,823.2 1066.5,822.9 1067.1,822.7 1067.6,822.4 1068.2,822.2 1068.8,821.9 1069.4,821.6 1069.9,821.4 1070.5,821.1 1071.1,820.8 1071.7,820.5 1072.2,820.2 1072.8,819.9 1073.3,819.6 1073.9,819.3 1074.5,819.0 1075.0,818.7 1075.6,818.3 1076.1,818.0 1076.6,817.7 1077.2,817.3 1077.7,817.0 1078.3,816.6 1078.8,816.3 1079.3,815.9 1079.9,815.5 1080.4,815.2 1080.9,814.8 1081.4,814.4 1081.9,814.0 1082.5,813.7 1083.0,813.3 1083.5,812.9 1084.0,812.5 1084.5,812.1 1085.0,811.6 1085.5,811.2 1086.0,810.8 1086.4,810.4 1086.9,810.0 1087.4,809.5 1087.9,809.1 1088.4,808.6 1088.8,808.2 1089.3,807.8 1089.8,807.3 1090.2,806.8 1090.7,806.4 1091.1,805.9 1091.6,805.4 1092.0,805.0 1092.5,804.5 1092.9,804.0 1093.3,803.5 1093.7,803.0 1094.2,802.5 1094.6,802.0 1095.0,801.5 1095.4,801.0 1095.8,800.5 1096.2,800.0 1096.6,799.5 1097.0,799.0 1097.4,798.5 1097.8,797.9 1098.2,797.4 1098.6,796.9 1098.9,796.3 1099.3,795.8 1099.7,795.3 1100.0,794.7 1100.4,794.2 1100.7,793.6 1101.1,793.1 1101.4,792.5 1101.8,791.9 1102.1,791.4 1102.4,790.8 1102.8,790.2 1103.1,789.7 1103.4,789.1 1103.7,788.5 1104.0,787.9 1104.3,787.3 1104.6,786.8 1104.9,786.2 1105.2,785.6 1105.5,785.0 1105.7,784.4 1106.0,783.8 1106.3,783.2 1106.5,782.6 1106.8,782.0 1107.1,781.4 1107.3,780.8 1107.5,780.2 1107.8,779.5 1108.0,778.9 1108.2,778.3 1108.5,777.7 1108.7,777.1 1108.9,776.4 1109.1,775.8 1109.3,775.2 1109.5,774.6 1109.7,773.9 1109.9,773.3 1110.1,772.7 1110.2,772.0 1110.4,771.4 1110.6,770.8 1110.7,770.1 1110.9,769.5 1111.0,768.8 1111.2,768.2 1111.3,767.5 1111.5,766.9 1111.6,766.3 1111.7,765.6 1111.8,765.0 1111.9,764.3 1112.0,763.7 1112.1,763.0 1112.2,762.4 1112.3,761.7 1112.4,761.1 1112.5,760.4 1112.6,759.8 1112.6,759.1 1112.7,758.4 1112.8,757.8 1112.8,757.1 1112.9,756.5 1112.9,755.8 1112.9,755.2 1113.0,754.5 1113.0,753.9 1113.0,753.2 1113.0,752.5 1113.0,751.9 1113.0,751.2 1113.0,750.6 1113.0,749.9 1113.0,749.3 1113.0,748.6 1113.0,748.0 1113.0,747.3 1112.9,746.6 1112.9,746.0 1112.8,745.3 1112.8,744.7 1112.7,744.0 1112.7,743.4 1112.6,742.7 1112.5,742.1 1112.5,741.4 1112.4,740.8 1112.3,740.1 1112.2,739.5 1112.1,738.9 1112.0,738.2 1111.9,737.6 1111.8,736.9 1111.6,736.3 1111.5,735.6 1111.4,735.0 1111.2,734.4 1111.1,733.7 1111.0,733.1 1110.8,732.5 1110.7,731.8 1110.5,731.2 1110.3,730.6 1110.1,730.0 1110.0,729.3 1109.8,728.7 1109.6,728.1 1109.4,727.5 1109.2,726.9 1109.0,726.2 1108.8,725.6 1108.6,725.0 1108.4,724.4 1108.1,723.8 1107.9,723.2 1107.7,722.6 1107.4,722.0 1107.2,721.4 1106.9,720.8 1106.7,720.2 1106.4,719.6 1106.2,719.1 1105.9,718.5 1105.6,717.9 1105.3,717.3 1105.0,716.7 1104.8,716.2 1104.5,715.6 1104.2,715.0 1103.9,714.5 1103.6,713.9 1103.2,713.3 1102.9,712.8 1102.6,712.2 1102.3,711.7 1101.9,711.1 1101.6,710.6 1101.3,710.1 1100.9,709.5 1100.6,709.0 1100.2,708.5 1099.9,707.9 1099.5,707.4 1099.1,706.9 1098.8,706.4 1098.4,705.9 1098.0,705.4 1097.6,704.9 1097.2,704.4 1096.8,703.9 1096.4,703.4 1096.0,702.9 1095.6,702.4 1095.2,701.9 1094.8,701.4 1094.4,701.0 1094.0,700.5 1093.5,700.0 1093.1,699.6 1092.7,699.1 1092.2,698.6 1091.8,698.2 1091.3,697.8 1090.9,697.3 1090.4,696.9 1090.0,696.4 1089.5,696.0 1089.1,695.6 1088.6,695.2 1088.1,694.8 1087.6,694.3 1087.2,693.9 1086.7,693.5 1086.2,693.1 1085.7,692.7 1085.2,692.4 1084.7,692.0 1084.2,691.6 1083.7,691.2 1083.2,690.9 1082.7,690.5 1082.2,690.1 1081.7,689.8 1081.2,689.4 1080.6,689.1 1080.1,688.7 1079.6,688.4 1079.1,688.1 1078.5,687.7 1078.0,687.4 1077.5,687.1 1076.9,686.8 1076.4,686.5 1075.8,686.2 1075.3,685.9 1074.7,685.6 1074.2,685.3 1073.6,685.0 1073.1,684.8 1072.5,684.5 1071.9,684.2 1071.4,684.0 1070.8,683.7 1070.2,683.5 1069.7,683.2 1069.1,683.0 1068.5,682.8 1067.9,682.5 1067.3,682.3 1066.8,682.1 1066.2,681.9 1065.6,681.7 1065.0,681.5 1064.4,681.3 1063.8,681.1 1063.2,680.9 1062.6,680.7 1062.0,680.6 1061.4,680.4 1060.8,680.2" fill="none" stroke="#ff5030" stroke-width="2"/>
<path d="M1023.0,826.3 1023.6,826.5 1024.2,826.6 1024.8,826.8 1025.4,826.9 1026.0,827.0 1026.6,827.1 1027.2,827.3 1027.8,827.4 1028.4,827.5 1029.0,827.6 1029.7,827.7 1030.3,827.8 1030.9,827.8 1031.5,827.9 1032.1,828.0 1032.7,828.1 1033.4,828.1 1034.0,828.2 1034.6,828.2 1035.2,828.3 1035.8,828.3 1036.5,828.3 1037.1,828.4 1037.7,828.4 1038.3,828.4 1039.0,828.4 1039.6,828.4 1040.2,828.4 1040.8,828.4 1041.4,828.4 1042.1,828.4 1042.7,828.3 1043.3,828.3 1043.9,828.3 1044.6,828.2 1045.2,828.2 1045.8,828.1 1046.4,828.1 1047.1,828.0 1047.7,827.9 1048.3,827.8 1048.9,827.8 1049.5,827.7 1050.2,827.6 1050.8,827.5 1051.4,827.4 1052.0,827.3 1052.6,827.1 1053.2,827.0 1053.9,826.9 1054.5,826.8 1055.1,826.6 1055.7,826.5 1056.3,826.3 1056.9,826.2 1057.5,826.0 1058.1,825.8 1058.7,825.7 1059.3,825.5 1059.9,825.3 1060.5,825.1 1061.1,824.9 1061.7,824.7 1062.3,824.5 1062.9,824.3 1063.5,824.1 1064.1,823.9 1064.7,823.6 1065.3,823.4 1065.9,823.2 1066.5,822.9 1067.1,822.7 1067.6,822.4 1068.2,822.2 1068.8,821.9 1069.4,821.6 1069.9,821.4 1070.5,821.1 1071.1,820.8 1071.7,820.5 1072.2,820.2 1072.8,819.9 1073.3,819.6 1073.9,819.3 1074.5,819.0 1075.0,818.7 1075.6,818.3 1076.1,818.0 1076.6,817.7 1077.2,817.3 1077.7,817.0 1078.3,816.6 1078.8,816.3 1079.3,815.9 1079.9,815.5 1080.4,815.2 1080.9,814.8 1081.4,814.4 1081.9,814.0 1082.5,813.7 1083.0,813.3 1083.5,812.9 1084.0,812.5 1084.5,812.1 1085.0,811.6 1085.5,811.2 1086.0,810.8 1086.4,810.4 1086.9,810.0 1087.4,809.5 1087.9,809.1 1088.4,808.6 1088.8,808.2 1089.3,807.8 1089.8,807.3 1090.2,806.8 1090.7,806.4 1091.1,805.9 1091.6,805.4 1092.0,805.0 1092.5,804.5 1092.9,804.0 1093.3,803.5 1093.7,803.0 1094.2,802.5 1094.6,802.0 1095.0,801.5 1095.4,801.0 1095.8,800.5 1096.2,800.0 1096.6,799.5 1097.0,799.0 1097.4,798.5 1097.8,797.9 1098.2,797.4 1098.6,796.9 1098.9,796.3 1099.3,795.8 1099.7,795.3 1100.0,794.7 1100.4,794.2 1100.7,793.6 1101.1,793.1 1101.4,792.5 1101.8,791.9 1102.1,791.4 1102.4,790.8 1102.8,790.2 1103.1,789.7 1103.4,789.1 1103.7,788.5 1104.0,787.9 1104.3,787.3 1104.6,786.8 1104.9,786.2 1105.2,785.6 1105.5,785.0 1105.7,784.4 1106.0,783.8 1106.3,783.2 1106.5,782.6 1106.8,782.0 1107.1,781.4 1107.3,780.8 1107.5,780.2 1107.8,779.5 1108.0,778.9 1108.2,778.3 1108.5,777.7 1108.7,777.1 1108.9,776.4 1109.1,775.8 1109.3,775.2 1109.5,774.6 1109.7,773.9 1109.9,773.3 1110.1,772.7 1110.2,772.0 1110.4,771.4 1110.6,770.8 1110.7,770.1 1110.9,769.5 1111.0,768.8 1111.2,768.2 1111.3,767.5 1111.5,766.9 1111.6,766.3 1111.7,765.6 1111.8,765.0 1111.9,764.3 1112.0,763.7 1112.1,763.0 1112.2,762.4 1112.3,761.7 1112.4,761.1 1112.5,760.4 1112.6,759.8 1112.6,759.1 1112.7,758.4 1112.8,757.8 1112.8,757.1 1112.9,756.5 1112.9,755.8 1112.9,755.2 1113.0,754.5 1113.0,753.9 1113.0,753.2 1113.0,752.5 1113.0,751.9 1113.0,751.2 1113.0,750.6 1113.0,749.9 1113.0,749.3 1113.0,748.6 1113.0,748.0 1113.0,747.3 1112.9,746.6 1112.9,746.0 1112.8,745.3 1112.8,744.7 1112.7,744.0 1112.7,743.4 1112.6,742.7 1112.5,742.1 1112.5,741.4 1112.4,740.8 1112.3,740.1 1112.2,739.5 1112.1,738.9 1112.0,738.2 1111.9,737.6 1111.8,736.9 1111.6,736.3 1111.5,735.6 1111.4,735.0 1111.2,734.4 1111.1,733.7 1111.0,733.1 1110.8,732.5 1110.7,731.8 1110.5,731.2 1110.3,730.6 1110.1,730.0 1110.0,729.3 1109.8,728.7 1109.6,728.1 1109.4,727.5 1109.2,726.9 1109.0,726.2 1108.8,725.6 1108.6,725.0 1108.4,724.4 1108.1,723.8 1107.9,723.2 1107.7,722.6 1107.4,722.0 1107.2,721.4 1106.9,720.8 1106.7,720.2 1106.4,719.6 1106.2,719.1 1105.9,718.5 1105.6,717.9 1105.3,717.3 1105.0,716.7 1104.8,716.2 1104.5,715.6 1104.2,715.0 1103.9,714.5 1103.6,713.9 1103.2,713.3 1102.9,712.8 1102.6,712.2 1102.3,711.7 1101.9,711.1 1101.6,710.6 1101.3,710.1 1100.9,709.5 1100.6,709.0 1100.2,708.5 1099.9,707.9 1099.5,707.4 1099.1,706.9 1098.8,706.4 1098.4,705.9 1098.0,705.4 1097.6,704.9 1097.2,704.4 1096.8,703.9 1096.4,703.4 1096.0,702.9 1095.6,702.4 1095.2,701.9 1094.8,701.4 1094.4,701.0 1094.0,700.5 1093.5,700.0 1093.1,699.6 1092.7,699.1 1092.2,698.6 1091.8,698.2 1091.3,697.8 1090.9,697.3 1090.4,696.9 1090.0,696.4 1089.5,696.0 1089.1,695.6 1088.6,695.2 1088.1,694.8 1087.6,694.3 1087.2,693.9 1086.7,693.5 1086.2,693.1 1085.7,692.7 1085.2,692.4 1084.7,692.0 1084.2,691.6 1083.7,691.2 1083.2,690.9 1082.7,690.5 1082.2,690.1 1081.7,689.8 1081.2,689.4 1080.6,689.1 1080.1,688.7 1079.6,688.4 1079.1,688.1 1078.5,687.7 1078.0,687.4 1077.5,687.1 1076.9,686.8 1076.4,686.5 1075.8,686.2 1075.3,685.9 1074.7,685.6 1074.2,685.3 1073.6,685.0 1073.1,684.8 1072.5,684.5 1071.9,684.2 1071.4,684.0 1070.8,683.7 1070.2,683.5 1069.7,683.2 1069.1,683.0 1068.5,682.8 1067.9,682.5 1067.3,682.3 1066.8,682.1 1066.2,681.9 1065.6,681.7 1065.0,681.5 1064.4,681.3 1063.8,681.1 1063.2,680.9 1062.6,680.7 1062.0,680.6 1061.4,680.4 1060.8,680.2" fill="none" stroke="#0000ff" stroke-width="1.3" stroke-dasharray="1.3 14"/>
<path d="M1101.5,710.9 1103.2,713.7 1104.9,716.6 1106.4,719.6 1107.7,722.7 1109.0,725.8 1110.1,729.0" fill="none" stroke="#0000ff" stroke-width="2.2"/>
<path d="M1097.3,711.0L1105.3,711.0M1098.4,708.2L1104.1,713.8M1101.3,707.0L1101.3,715.0M1104.1,708.2L1098.4,713.8" stroke="#ff5030" stroke-width="1.1" fill="none"/>
<path d="M1110.2,725.3L1113.8,728.9L1110.2,732.5L1106.6,728.9Z" stroke="#ff5030" stroke-width="1" fill="none"/>
<path d="M972.9,731.8L976.3,737.7L969.5,737.7Z" stroke="#0000ff" stroke-width="1.1" fill="none"/>
<path d="M1108.9,763.4L1116.9,763.4M1110.0,760.6L1115.7,766.3M1112.9,759.4L1112.9,767.4M1115.7,760.6L1110.0,766.3" stroke="#0000ff" stroke-width="1.1" fill="none"/>
<path d="M1105.8,779.1L1109.4,782.7L1105.8,786.3L1102.2,782.7Z" stroke="#0000ff" stroke-width="1" fill="none"/>
<path d="M976.1,784.9L979.5,790.9L972.7,790.9Z" stroke="#ff5030" stroke-width="1.1" fill="none"/>
<text x="1044.5" y="56.9" font-size="13" fill="#000" textLength="7.5" lengthAdjust="spacingAndGlyphs">Z</text>
<text x="1046.3" y="309.2" font-size="13" fill="#000" textLength="17.7" lengthAdjust="spacingAndGlyphs">-Z</text>
<text x="905" y="173.9" font-size="13" fill="#000" textLength="17" lengthAdjust="spacingAndGlyphs">-X</text>
<text x="1164.8" y="173.9" font-size="13" fill="#000" textLength="7.4" lengthAdjust="spacingAndGlyphs">X</text>
<text x="1045.4" y="344.2" font-size="13" fill="#000" textLength="7.6" lengthAdjust="spacingAndGlyphs">Y</text>
<text x="1045.8" y="596.7" font-size="13" fill="#000" textLength="17" lengthAdjust="spacingAndGlyphs">-Y</text>
<text x="905.6" y="462.5" font-size="13" fill="#000" textLength="17" lengthAdjust="spacingAndGlyphs">-X</text>
<text x="1164.8" y="462.5" font-size="13" fill="#000" textLength="7.6" lengthAdjust="spacingAndGlyphs">X</text>
<text x="1045" y="633.1" font-size="13" fill="#000" textLength="6.8" lengthAdjust="spacingAndGlyphs">Z</text>
<text x="1046.7" y="885.7" font-size="13" fill="#000" textLength="16.6" lengthAdjust="spacingAndGlyphs">-Z</text>
<text x="905" y="750" font-size="13" fill="#000" textLength="16.7" lengthAdjust="spacingAndGlyphs">-Y</text>
<text x="1164.3" y="750" font-size="13" fill="#000" textLength="8.4" lengthAdjust="spacingAndGlyphs">Y</text>
<text x="169.7" y="30" font-size="15" fill="#000" textLength="530.3" lengthAdjust="spacingAndGlyphs">Southern Solar Magnetic Footprints 2019-08-03 20:00 to 21:30 UTC</text>
<text x="1007.7" y="28.7" font-size="16" fill="#000" textLength="67.3" lengthAdjust="spacingAndGlyphs">SM orbit</text>
<text x="10.5" y="50" font-size="10.5" fill="#0000ff" textLength="44.6" lengthAdjust="spacingAndGlyphs">ELFIN (A)</text>
<text x="10.5" y="62.5" font-size="10.5" fill="#000" textLength="117.5" lengthAdjust="spacingAndGlyphs">Tspin=2.69s[22.28RPM]</text>
<text x="10.5" y="74.9" font-size="10.5" fill="#000" textLength="74.5" lengthAdjust="spacingAndGlyphs">Torb=93.93min</text>
<text x="10.5" y="87.3" font-size="10.5" fill="#000" textLength="114.8" lengthAdjust="spacingAndGlyphs">B/SP: (NA/ND/SD/SA)</text>
<text x="10.5" y="99.8" font-size="10.5" fill="#000" textLength="131.4" lengthAdjust="spacing">OBO: -44/-17/-42/-27</text>
<text x="10.5" y="112.2" font-size="10.5" fill="#000" textLength="104.7" lengthAdjust="spacing">IBO: -26/17/-11/7</text>
<text x="10.5" y="124.7" font-size="10.5" fill="#000" textLength="141.9" lengthAdjust="spacingAndGlyphs">S: [-0.115,0.663,0.736] GEI</text>
<text x="10.5" y="137.1" font-size="10.5" fill="#000" textLength="146.3" lengthAdjust="spacingAndGlyphs">S: [0.754,-0.508,0.413] GSE</text>
<text x="10.5" y="149.6" font-size="10.5" fill="#000" textLength="104.7" lengthAdjust="spacingAndGlyphs">S w/Sun, deg: 40.77</text>
<text x="10.5" y="162.1" font-size="10.5" fill="#000" textLength="130.5" lengthAdjust="spacingAndGlyphs">S w/OrbNorm, deg: 134.0</text>
<text x="10.5" y="174.5" font-size="10.5" fill="#000" textLength="125.5" lengthAdjust="spacingAndGlyphs">Att.Sol@2019-08-03/07</text>
<text x="10.5" y="186.9" font-size="10.5" fill="#000" textLength="85.5" lengthAdjust="spacingAndGlyphs">Altitude: 459.7km</text>
<text x="10.5" y="750" font-size="10.5" fill="#ff5030" textLength="45.4" lengthAdjust="spacingAndGlyphs">ELFIN (B)</text>
<text x="10.5" y="762.5" font-size="10.5" fill="#000" textLength="117.9" lengthAdjust="spacingAndGlyphs">Tspin=2.79s[21.49RPM]</text>
<text x="10.5" y="774.9" font-size="10.5" fill="#000" textLength="74.5" lengthAdjust="spacingAndGlyphs">Torb=93.86min</text>
<text x="10.5" y="787.4" font-size="10.5" fill="#000" textLength="114.5" lengthAdjust="spacingAndGlyphs">B/SP: (NA/ND/SD/SA)</text>
<text x="10.5" y="799.8" font-size="10.5" fill="#000" textLength="115.7" lengthAdjust="spacing">OBO: -17/32/-29/30</text>
<text x="10.5" y="812.2" font-size="10.5" fill="#000" textLength="111.3" lengthAdjust="spacing">IBO: -48/48/-59/54</text>
<text x="10.5" y="824.7" font-size="10.5" fill="#000" textLength="151" lengthAdjust="spacingAndGlyphs">S: [0.982,-0.184,-0.013] GEI</text>
<text x="10.5" y="837.1" font-size="10.5" fill="#000" textLength="154.4" lengthAdjust="spacingAndGlyphs">S: [-0.779,-0.624,0.413] GSE</text>
<text x="10.5" y="849.6" font-size="10.5" fill="#000" textLength="104.7" lengthAdjust="spacingAndGlyphs">S w/Sun, deg: 140.8</text>
<text x="10.5" y="862" font-size="10.5" fill="#000" textLength="130.2" lengthAdjust="spacingAndGlyphs">S w/OrbNorm, deg: 57.00</text>
<text x="10.5" y="874.5" font-size="10.5" fill="#000" textLength="133.4" lengthAdjust="spacingAndGlyphs">Att.Sol@: 2019-08-03/03</text>
<text x="10.5" y="887" font-size="10.5" fill="#000" textLength="85.4" lengthAdjust="spacingAndGlyphs">Altitude: 460.4km</text>
<text x="665.8" y="50" font-size="10.5" fill="#000" textLength="193.3" lengthAdjust="spacingAndGlyphs">Earth/Oval View Center Time (triangle)</text>
<text x="680" y="62.4" font-size="10.5" fill="#000" textLength="178.4" lengthAdjust="spacingAndGlyphs">Thick - Science (FGM and/or EPD)</text>
<text x="688.7" y="74.8" font-size="10.5" fill="#000" textLength="170.4" lengthAdjust="spacingAndGlyphs">Geo Lat/Lon - Black dotted lines</text>
<text x="695.8" y="87.2" font-size="10.5" fill="#ff0000" textLength="157.3" lengthAdjust="spacingAndGlyphs">SM Lat/Lon - Red dotted lines</text>
<text x="724.8" y="99.6" font-size="10.5" fill="#00ff00" textLength="130.6" lengthAdjust="spacingAndGlyphs">Auroral Oval-Green, kp=2</text>
<text x="735.5" y="112" font-size="10.5" fill="#ee82ee" textLength="113.3" lengthAdjust="spacingAndGlyphs">EISCAT-Purple Triangle</text>
<text x="745" y="124.4" font-size="10.5" fill="#000" textLength="112.6" lengthAdjust="spacingAndGlyphs">Tick Marks every 5min</text>
<text x="755.8" y="136.8" font-size="10.5" fill="#000" textLength="101.8" lengthAdjust="spacingAndGlyphs">Start Time-Diamond</text>
<text x="765.8" y="149.2" font-size="10.5" fill="#000" textLength="91.2" lengthAdjust="spacingAndGlyphs">End Time-Asterisk</text>
<text x="770" y="161.6" font-size="10.5" fill="#50c050" textLength="91.5" lengthAdjust="spacingAndGlyphs">VLF-Green Square</text>
<text x="680.3" y="874.9" font-size="10.5" fill="#000" textLength="89.4" lengthAdjust="spacingAndGlyphs">Tsyganenko-1996</text>
<text x="680.8" y="887" font-size="10.5" fill="#000" textLength="183.4" lengthAdjust="spacingAndGlyphs">Created: Wed Jan 25 14:13:29 2023</text>
<text x="13" y="482.7" font-size="14.5" fill="#000" textLength="42.3" lengthAdjust="spacingAndGlyphs">00:00</text>
<text x="402.5" y="57.5" font-size="14" fill="#000" textLength="42.5" lengthAdjust="spacingAndGlyphs">06:00</text>
<text x="797.6" y="483.1" font-size="14.5" fill="#000" textLength="40.4" lengthAdjust="spacingAndGlyphs">12:00</text>
<text x="406.7" y="882.5" font-size="14" fill="#000" textLength="37.9" lengthAdjust="spacingAndGlyphs">18:00</text>
</svg>
</body></html>
